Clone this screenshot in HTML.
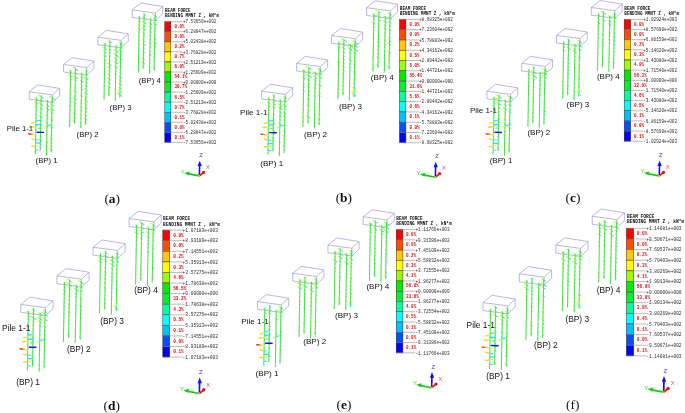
<!DOCTYPE html>
<html><head><meta charset="utf-8"><title>Figure</title>
<style>
html,body{margin:0;padding:0;background:#fff;}
body{width:685px;height:413px;overflow:hidden;font-family:"Liberation Sans",sans-serif;}
svg{display:block;will-change:transform;opacity:0.999;}
</style></head><body>
<svg width="685" height="413" viewBox="0 0 685 413">
<g id="panel-a">
<path d="M37.70,84.90 L59.60,88.40 L52.50,94.90 L29.20,91.75 Z M29.20,91.75 L29.20,99.25 L52.50,102.40 L52.50,94.90 M52.50,102.40 L59.60,95.90 L59.60,88.40" fill="none" stroke="#8a8ad0" stroke-width="0.6" stroke-linejoin="round"/>
<path d="M72.03,57.62 L93.93,61.12 L86.83,67.62 L63.53,64.47 Z M63.53,64.47 L63.53,71.97 L86.83,75.12 L86.83,67.62 M86.83,75.12 L93.93,68.62 L93.93,61.12" fill="none" stroke="#8a8ad0" stroke-width="0.6" stroke-linejoin="round"/>
<path d="M106.36,30.34 L128.26,33.84 L121.16,40.34 L97.86,37.19 Z M97.86,37.19 L97.86,44.69 L121.16,47.84 L121.16,40.34 M121.16,47.84 L128.26,41.34 L128.26,33.84" fill="none" stroke="#8a8ad0" stroke-width="0.6" stroke-linejoin="round"/>
<path d="M140.69,3.06 L162.59,6.56 L155.49,13.06 L132.19,9.91 Z M132.19,9.91 L132.19,17.41 L155.49,20.56 L155.49,13.06 M155.49,20.56 L162.59,14.06 L162.59,6.56" fill="none" stroke="#8a8ad0" stroke-width="0.6" stroke-linejoin="round"/>
<path d="M34.8,97.6L36.3,98.4M34.4,101.8L36.2,102.8M34.6,105.9L36.1,106.7M35.5,109.8L36.1,110.1M35.2,114.0L36.0,114.4M35.2,117.6L35.9,118.0M35.0,120.6L35.9,121.1M35.4,125.5L35.8,125.8M34.9,128.6L35.7,129.1M35.0,132.0L35.7,132.4M35.1,135.7L35.6,136.0M35.1,140.2L35.5,140.4M35.0,144.3L35.5,144.6M34.6,147.6L35.4,148.0M34.5,151.2L35.3,151.7M38.6,95.2L41.2,96.6M38.9,98.9L41.1,100.1M38.3,102.6L41.0,104.1M39.3,107.3L41.0,108.3M39.3,111.9L40.9,112.7M38.9,115.6L40.8,116.6M39.4,119.7L40.7,120.5M39.8,123.7L40.7,124.2M39.7,128.0L40.6,128.5M39.7,131.8L40.5,132.3M39.5,135.6L40.5,136.1M38.8,139.3L40.4,140.1M39.2,143.4L40.3,144.0M39.3,146.9L40.3,147.5M46.2,100.6L47.5,101.4M45.8,104.4L47.4,105.3M45.2,107.5L47.3,108.6M45.8,111.5L47.3,112.3M45.6,115.3L47.2,116.2M46.2,118.8L47.2,119.3M45.7,122.2L47.1,122.9M46.0,126.0L47.0,126.5M46.2,130.4L46.9,130.8M46.4,134.1L46.9,134.4M46.3,137.6L46.8,137.8M45.7,141.1L46.7,141.7M46.0,145.7L46.7,146.0M46.1,149.2L46.6,149.4M46.0,152.5L46.5,152.8M49.2,96.0L52.1,97.6M50.5,100.8L52.0,101.6M50.3,103.9L52.0,104.8M50.1,108.1L51.9,109.1M50.2,111.6L51.8,112.5M50.8,116.1L51.7,116.6M50.2,118.7L51.7,119.5M50.7,123.6L51.6,124.1M49.9,126.0L51.6,126.9M50.6,130.7L51.5,131.2M50.4,134.3L51.4,134.8M49.9,138.2L51.3,139.0M49.8,141.6L51.3,142.4M49.8,145.3L51.2,146.1M49.3,148.5L51.2,149.5" stroke="#b8ff30" stroke-width="1.1" fill="none"/>
<path d="M36.3,98.8L37.8,99.7M36.2,103.2L37.8,104.2M36.1,107.1L37.3,107.8M36.1,110.5L36.7,110.9M36.0,114.8L36.7,115.3M35.9,118.4L36.5,118.7M35.9,121.5L36.7,122.0M35.8,126.2L36.3,126.5M35.7,129.5L36.6,130.0M35.7,132.8L36.2,133.1M35.6,136.4L36.2,136.7M35.5,140.8L36.0,141.1M35.5,145.0L35.9,145.2M35.4,148.4L36.0,148.8M35.3,152.1L36.2,152.6M41.2,97.0L43.5,98.4M41.1,100.5L43.1,101.7M41.0,104.5L43.3,105.9M41.0,108.7L42.7,109.7M40.9,113.1L42.1,113.9M40.8,117.0L42.7,118.1M40.7,120.9L42.0,121.6M40.7,124.6L41.5,125.2M40.6,128.9L41.5,129.5M40.5,132.7L41.1,133.1M40.5,136.5L41.3,137.0M40.4,140.5L41.9,141.5M40.3,144.4L41.1,144.9M40.3,147.9L41.1,148.4M47.5,101.8L48.6,102.4M47.4,105.7L49.0,106.7M47.3,109.0L49.2,110.2M47.3,112.7L48.4,113.3M47.2,116.6L48.4,117.4M47.2,119.7L47.8,120.1M47.1,123.3L48.1,123.9M47.0,126.9L47.9,127.5M46.9,131.2L47.5,131.5M46.9,134.8L47.4,135.0M46.8,138.2L47.2,138.5M46.7,142.1L47.7,142.7M46.7,146.4L47.2,146.8M46.6,149.8L47.2,150.2M46.5,153.2L47.0,153.5M52.1,98.0L55.2,99.9M52.0,102.0L53.1,102.6M52.0,105.2L53.5,106.1M51.9,109.5L53.7,110.6M51.8,112.9L53.2,113.7M51.7,117.0L52.8,117.6M51.7,119.9L53.0,120.7M51.6,124.5L52.5,125.1M51.6,127.3L53.2,128.3M51.5,131.6L52.3,132.1M51.4,135.2L52.2,135.7M51.3,139.4L52.5,140.1M51.3,142.8L52.4,143.5M51.2,146.5L52.3,147.1M51.2,149.9L52.8,150.9" stroke="#30f8a0" stroke-width="1.1" fill="none"/>
<path d="M36.3,97.7L35.3,154.3M41.2,95.2L40.2,150.7M47.5,100.0L46.5,155.5M52.1,96.7L51.1,152.3" stroke="#40e040" stroke-width="0.95" fill="none"/>
<path d="M69.3,70.5L70.6,71.2M68.5,74.4L70.5,75.6M69.1,77.8L70.5,78.6M69.8,82.1L70.4,82.5M69.7,86.4L70.3,86.8M69.6,90.6L70.3,90.9M69.5,93.9L70.2,94.3M69.6,97.9L70.1,98.2M69.3,100.8L70.1,101.3M69.2,104.6L70.0,105.1M69.5,109.5L69.9,109.8M69.4,113.1L69.9,113.4M69.2,115.9L69.8,116.3M69.1,119.8L69.8,120.2M69.1,124.0L69.7,124.4M72.7,67.0L75.5,68.5M74.3,72.2L75.4,72.8M72.8,75.5L75.4,76.9M73.9,78.8L75.3,79.6M74.5,84.0L75.2,84.4M74.3,87.5L75.2,88.0M73.3,90.0L75.1,91.0M74.1,94.9L75.0,95.4M73.3,97.5L75.0,98.5M73.3,101.9L74.9,102.8M73.9,105.3L74.8,105.8M73.5,109.2L74.8,109.9M72.8,111.9L74.7,112.9M72.8,116.4L74.6,117.4M72.6,119.8L74.6,120.9M80.1,72.9L81.8,73.8M80.5,76.5L81.7,77.2M80.2,80.1L81.7,80.9M80.7,84.9L81.6,85.4M79.9,87.5L81.5,88.4M80.7,92.1L81.5,92.5M80.1,94.9L81.4,95.7M80.6,99.6L81.3,100.0M80.3,102.4L81.3,102.9M80.1,106.5L81.2,107.1M80.1,110.1L81.1,110.7M80.3,114.2L81.1,114.6M80.4,117.6L81.0,118.0M80.0,121.9L80.9,122.4M80.1,125.5L80.9,125.9M85.2,69.8L86.4,70.5M85.1,73.1L86.4,73.8M83.6,76.8L86.3,78.3M85.1,81.5L86.2,82.1M84.8,84.7L86.1,85.5M84.5,88.6L86.1,89.5M84.3,92.3L86.0,93.2M84.7,96.3L85.9,97.0M83.9,99.6L85.9,100.7M84.2,103.3L85.8,104.2M84.2,107.1L85.7,107.9M84.6,110.7L85.7,111.3M83.8,114.1L85.6,115.1M83.7,117.9L85.5,118.9M84.1,121.2L85.5,122.0" stroke="#b8ff30" stroke-width="1.1" fill="none"/>
<path d="M70.6,71.6L71.8,72.4M70.5,76.0L72.0,76.9M70.5,79.0L71.5,79.6M70.4,82.9L70.9,83.2M70.3,87.2L70.9,87.5M70.3,91.3L70.9,91.7M70.2,94.7L71.0,95.1M70.1,98.6L70.7,99.0M70.1,101.7L70.9,102.2M70.0,105.5L70.9,106.0M69.9,110.2L70.4,110.4M69.9,113.8L70.2,114.0M69.8,116.7L70.4,117.0M69.8,120.6L70.2,120.9M69.7,124.8L70.2,125.0M75.5,68.9L78.4,70.7M75.4,73.2L76.4,73.8M75.4,77.3L77.9,78.8M75.3,80.0L76.5,80.7M75.2,84.8L75.8,85.1M75.2,88.4L75.9,88.8M75.1,91.4L76.9,92.5M75.0,95.8L75.7,96.2M75.0,98.9L76.6,99.8M74.9,103.2L76.1,103.9M74.8,106.2L75.6,106.7M74.8,110.3L76.1,111.1M74.7,113.3L76.2,114.2M74.6,117.8L75.9,118.6M74.6,121.3L76.0,122.1M81.8,74.2L83.3,75.1M81.7,77.6L82.8,78.2M81.7,81.3L83.2,82.2M81.6,85.8L82.3,86.2M81.5,88.8L82.8,89.5M81.5,92.9L82.1,93.3M81.4,96.1L82.6,96.8M81.3,100.4L82.0,100.8M81.3,103.3L82.0,103.7M81.2,107.5L82.3,108.2M81.1,111.1L82.0,111.6M81.1,115.0L81.8,115.5M81.0,118.4L81.6,118.7M80.9,122.8L81.7,123.2M80.9,126.3L81.5,126.7M86.4,70.9L87.4,71.5M86.4,74.2L87.5,74.9M86.3,78.7L88.4,80.0M86.2,82.5L87.3,83.2M86.1,85.9L87.4,86.6M86.1,89.9L87.5,90.8M86.0,93.6L87.4,94.4M85.9,97.4L86.8,97.9M85.9,101.1L87.6,102.2M85.8,104.6L87.0,105.3M85.7,108.3L87.4,109.3M85.7,111.7L86.7,112.3M85.6,115.5L86.9,116.3M85.5,119.3L87.0,120.2M85.5,122.4L86.8,123.1" stroke="#30f8a0" stroke-width="1.1" fill="none"/>
<path d="M70.6,70.4L69.6,127.0M75.5,67.9L74.5,123.4M81.8,72.7L80.8,128.2M86.4,69.4L85.4,125.0" stroke="#40e040" stroke-width="0.95" fill="none"/>
<path d="M103.4,43.6L104.9,44.4M102.6,47.1L104.9,48.3M102.6,50.5L104.8,51.7M103.4,54.9L104.7,55.7M103.5,59.0L104.7,59.6M104.1,63.4L104.6,63.7M103.3,66.2L104.5,66.9M103.9,70.0L104.5,70.3M103.6,74.0L104.4,74.5M103.7,77.5L104.3,77.9M103.7,81.2L104.3,81.5M103.4,85.5L104.2,85.9M103.7,89.9L104.1,90.1M103.6,93.4L104.1,93.6M103.5,96.5L104.0,96.7M108.0,40.6L109.8,41.6M108.5,44.9L109.8,45.6M108.6,48.8L109.7,49.5M108.4,51.6L109.6,52.3M108.8,55.6L109.6,56.0M108.1,59.2L109.5,60.0M107.5,63.0L109.4,64.1M107.4,66.4L109.4,67.5M108.1,70.4L109.3,71.1M108.2,74.3L109.2,74.9M107.5,78.0L109.2,78.9M107.9,82.0L109.1,82.6M107.7,85.9L109.0,86.7M108.3,89.3L109.0,89.7M107.7,92.9L108.9,93.6M115.1,45.7L116.1,46.2M113.7,49.3L116.1,50.6M113.7,53.6L116.0,54.9M114.3,58.1L115.9,59.0M114.1,61.3L115.9,62.3M114.2,65.9L115.8,66.8M115.0,70.1L115.7,70.5M114.8,73.7L115.6,74.1M115.1,77.8L115.6,78.1M114.8,81.8L115.5,82.2M114.9,85.7L115.4,86.0M114.7,89.5L115.4,89.8M114.5,93.9L115.3,94.4M114.6,98.4L115.2,98.8M118.6,41.8L120.7,43.0M119.0,46.1L120.7,47.0M118.5,49.6L120.6,50.8M119.3,53.5L120.5,54.1M118.5,57.2L120.5,58.3M119.3,61.7L120.4,62.3M119.1,65.4L120.3,66.0M119.4,69.1L120.3,69.6M119.2,72.3L120.2,72.9M118.7,76.1L120.1,76.8M119.0,79.9L120.1,80.5M118.5,83.0L120.0,83.8M118.5,87.0L119.9,87.8M118.2,90.0L119.9,90.9M118.1,93.8L119.8,94.7" stroke="#b8ff30" stroke-width="1.1" fill="none"/>
<path d="M104.9,44.8L106.2,45.6M104.9,48.7L106.9,49.9M104.8,52.1L106.5,53.1M104.7,56.1L106.1,56.9M104.7,60.0L105.7,60.7M104.6,64.1L105.1,64.3M104.5,67.3L105.5,67.9M104.5,70.7L105.0,71.1M104.4,74.9L105.1,75.3M104.3,78.3L104.9,78.7M104.3,81.9L104.7,82.1M104.2,86.3L105.0,86.8M104.1,90.5L104.5,90.7M104.1,94.0L104.5,94.3M104.0,97.1L104.5,97.4M109.8,42.0L111.6,43.1M109.8,46.0L111.0,46.8M109.7,49.9L110.8,50.5M109.6,52.7L110.7,53.4M109.6,56.4L110.4,56.9M109.5,60.4L110.6,61.0M109.4,64.5L111.4,65.6M109.4,67.9L111.0,68.9M109.3,71.5L110.7,72.3M109.2,75.3L110.2,75.9M109.2,79.3L110.8,80.3M109.1,83.0L110.2,83.7M109.0,87.1L110.4,87.9M109.0,90.1L109.6,90.5M108.9,94.0L109.9,94.5M116.1,46.6L117.2,47.2M116.1,51.0L118.6,52.5M116.0,55.3L118.5,56.7M115.9,59.4L117.6,60.4M115.9,62.7L117.8,63.8M115.8,67.2L117.4,68.2M115.7,70.9L116.5,71.4M115.6,74.5L116.5,75.1M115.6,78.5L116.0,78.7M115.5,82.6L116.1,83.0M115.4,86.4L115.9,86.6M115.4,90.2L115.8,90.5M115.3,94.8L115.9,95.1M115.2,99.2L115.8,99.5M120.7,43.4L122.8,44.6M120.7,47.4L122.4,48.5M120.6,51.2L122.5,52.3M120.5,54.5L121.8,55.3M120.5,58.7L122.4,59.9M120.4,62.7L121.3,63.3M120.3,66.4L121.5,67.1M120.3,70.0L120.9,70.4M120.2,73.3L120.9,73.7M120.1,77.2L121.4,78.0M120.1,80.9L121.0,81.4M120.0,84.2L121.4,85.1M119.9,88.2L121.2,89.0M119.9,91.3L121.7,92.4M119.8,95.1L121.4,96.0" stroke="#30f8a0" stroke-width="1.1" fill="none"/>
<path d="M105.0,43.1L104.0,99.7M109.9,40.6L108.9,96.1M116.2,45.4L115.2,100.9M120.8,42.1L119.8,97.7" stroke="#40e040" stroke-width="0.95" fill="none"/>
<line x1="117.86" y1="90.34" x2="120.86" y2="92.34" stroke="#eeff33" stroke-width="1"/>
<line x1="118.36" y1="93.84" x2="122.36" y2="96.84" stroke="#33eeff" stroke-width="1"/>
<line x1="116.86" y1="93.34" x2="119.36" y2="91.84" stroke="#ccff33" stroke-width="1"/>
<path d="M138.5,16.8L139.3,17.3M137.6,19.9L139.2,20.8M138.2,24.3L139.1,24.9M137.8,28.0L139.1,28.6M137.9,31.2L139.0,31.8M138.2,35.8L138.9,36.1M138.3,39.6L138.9,39.9M138.2,43.6L138.8,43.9M138.0,47.1L138.7,47.5M137.8,50.0L138.7,50.4M137.9,54.3L138.6,54.7M138.2,58.0L138.5,58.2M138.1,62.1L138.5,62.3M138.1,65.7L138.4,65.9M137.5,69.0L138.3,69.4M143.0,13.6L144.2,14.3M142.4,16.7L144.1,17.7M141.6,20.9L144.0,22.2M142.3,24.8L144.0,25.7M142.0,27.8L143.9,28.8M142.7,32.4L143.8,33.1M143.0,36.1L143.8,36.5M142.1,39.6L143.7,40.5M142.0,42.9L143.6,43.9M142.8,47.4L143.6,47.8M142.2,50.8L143.5,51.5M142.7,54.3L143.4,54.7M142.0,58.3L143.4,59.1M141.5,61.9L143.3,62.9M141.9,65.8L143.2,66.5M149.4,19.1L150.5,19.7M148.8,22.5L150.4,23.4M148.5,26.0L150.3,27.0M149.2,31.1L150.2,31.6M149.0,34.9L150.2,35.5M149.4,39.4L150.1,39.7M148.9,42.1L150.0,42.7M149.2,46.6L150.0,47.0M149.5,51.0L149.9,51.3M148.8,54.1L149.8,54.7M149.2,59.3L149.7,59.6M149.1,62.6L149.7,63.0M148.6,66.5L149.6,67.0M148.5,70.3L149.5,70.9M152.3,14.3L155.1,15.8M152.7,17.9L155.0,19.2M152.8,22.6L154.9,23.8M153.6,26.6L154.9,27.3M154.0,30.0L154.8,30.5M153.8,34.4L154.7,34.9M153.0,37.7L154.7,38.6M152.8,41.3L154.6,42.3M152.8,45.1L154.5,46.1M153.6,49.0L154.5,49.5M152.9,52.6L154.4,53.4M153.2,56.4L154.3,57.0M153.5,60.6L154.3,61.0M153.3,64.0L154.2,64.5M152.7,67.4L154.1,68.2" stroke="#b8ff30" stroke-width="1.1" fill="none"/>
<path d="M139.3,17.7L139.8,18.0M139.2,21.2L140.4,21.9M139.1,25.3L140.1,25.8M139.1,29.0L140.3,29.8M139.0,32.2L139.8,32.7M138.9,36.5L139.4,36.8M138.9,40.3L139.4,40.7M138.8,44.3L139.4,44.7M138.7,47.9L139.4,48.3M138.7,50.8L139.6,51.4M138.6,55.1L139.2,55.4M138.5,58.6L138.8,58.8M138.5,62.7L138.8,62.9M138.4,66.3L138.7,66.5M138.3,69.8L139.1,70.3M144.2,14.7L145.3,15.3M144.1,18.1L146.0,19.2M144.0,22.6L146.3,24.0M144.0,26.1L145.7,27.2M143.9,29.2L145.9,30.4M143.8,33.5L144.6,34.0M143.8,36.9L144.5,37.3M143.7,40.9L145.4,41.9M143.6,44.3L145.3,45.3M143.6,48.2L144.4,48.7M143.5,51.9L144.9,52.7M143.4,55.1L144.2,55.6M143.4,59.5L144.6,60.3M143.3,63.3L145.0,64.3M143.2,66.9L144.3,67.6M150.5,20.1L151.3,20.6M150.4,23.8L152.1,24.8M150.3,27.4L151.7,28.3M150.2,32.0L151.3,32.7M150.2,35.9L151.0,36.4M150.1,40.1L150.8,40.5M150.0,43.1L151.0,43.7M150.0,47.4L150.7,47.9M149.9,51.7L150.3,51.9M149.8,55.1L150.8,55.6M149.7,60.0L150.3,60.3M149.7,63.4L150.2,63.7M149.6,67.4L150.5,68.0M149.5,71.3L150.4,71.8M155.1,16.2L157.1,17.4M155.0,19.6L157.1,20.8M154.9,24.2L156.7,25.3M154.9,27.7L156.1,28.4M154.8,30.9L155.6,31.4M154.7,35.3L155.4,35.7M154.7,39.0L156.1,39.8M154.6,42.7L156.4,43.8M154.5,46.5L155.8,47.2M154.5,49.9L155.3,50.4M154.4,53.8L155.7,54.6M154.3,57.4L155.4,58.0M154.3,61.4L154.9,61.8M154.2,64.9L155.0,65.4M154.1,68.6L155.3,69.3" stroke="#30f8a0" stroke-width="1.1" fill="none"/>
<path d="M139.3,15.9L138.3,72.5M144.2,13.4L143.2,68.9M150.5,18.2L149.5,73.7M155.1,14.9L154.1,70.5" stroke="#40e040" stroke-width="0.95" fill="none"/>
<line x1="36.00" y1="121.00" x2="39.90" y2="120.40" stroke="#22e8ff" stroke-width="1.20" stroke-linecap="round"/>
<line x1="31.80" y1="123.30" x2="34.10" y2="122.70" stroke="#ffcc22" stroke-width="1.20" stroke-linecap="round"/>
<line x1="34.10" y1="122.70" x2="36.50" y2="122.30" stroke="#c8ff30" stroke-width="1.10" stroke-linecap="round"/>
<line x1="36.20" y1="124.80" x2="40.90" y2="124.50" stroke="#22e8ff" stroke-width="1.50" stroke-linecap="round"/>
<line x1="30.70" y1="127.30" x2="33.70" y2="126.80" stroke="#ffcc22" stroke-width="1.30" stroke-linecap="round"/>
<line x1="33.70" y1="126.80" x2="36.90" y2="126.60" stroke="#c8ff30" stroke-width="1.10" stroke-linecap="round"/>
<line x1="38.20" y1="128.30" x2="40.50" y2="127.90" stroke="#40ee60" stroke-width="1.00" stroke-linecap="round"/>
<line x1="37.10" y1="132.30" x2="43.50" y2="132.40" stroke="#1515ee" stroke-width="1.40" stroke-linecap="round"/>
<line x1="28.50" y1="133.80" x2="30.70" y2="134.00" stroke="#ee1515" stroke-width="1.30" stroke-linecap="round"/>
<line x1="30.70" y1="134.00" x2="32.70" y2="134.30" stroke="#ff8a18" stroke-width="1.25" stroke-linecap="round"/>
<line x1="32.70" y1="134.30" x2="34.50" y2="134.70" stroke="#ffe020" stroke-width="1.20" stroke-linecap="round"/>
<line x1="34.50" y1="134.70" x2="36.10" y2="135.10" stroke="#c8ff30" stroke-width="1.10" stroke-linecap="round"/>
<line x1="31.80" y1="138.70" x2="34.30" y2="139.50" stroke="#ffcc22" stroke-width="1.30" stroke-linecap="round"/>
<line x1="35.90" y1="139.70" x2="38.30" y2="139.90" stroke="#22e8ff" stroke-width="1.00" stroke-linecap="round"/>
<line x1="35.50" y1="143.10" x2="40.10" y2="143.20" stroke="#22e8ff" stroke-width="1.30" stroke-linecap="round"/>
<line x1="31.80" y1="146.40" x2="34.50" y2="146.00" stroke="#ffcc22" stroke-width="1.30" stroke-linecap="round"/>
<line x1="34.50" y1="146.00" x2="38.10" y2="145.60" stroke="#c8ff30" stroke-width="1.10" stroke-linecap="round"/>
<line x1="35.70" y1="149.80" x2="38.20" y2="150.10" stroke="#22e8ff" stroke-width="1.00" stroke-linecap="round"/>
<line x1="47.40" y1="125.70" x2="50.40" y2="125.20" stroke="#22e8ff" stroke-width="1.20" stroke-linecap="round"/>
<line x1="44.30" y1="127.10" x2="46.60" y2="126.70" stroke="#c8ff30" stroke-width="1.10" stroke-linecap="round"/>
<text x="46.60" y="163.34" font-family="Liberation Sans" font-size="7.75" text-anchor="middle" fill="#111" font-weight="normal" >(BP) 1</text>
<text x="87.60" y="136.59" font-family="Liberation Sans" font-size="7.75" text-anchor="middle" fill="#111" font-weight="normal" >(BP) 2</text>
<text x="120.60" y="110.09" font-family="Liberation Sans" font-size="7.75" text-anchor="middle" fill="#111" font-weight="normal" >(BP) 3</text>
<text x="149.75" y="83.34" font-family="Liberation Sans" font-size="7.75" text-anchor="middle" fill="#111" font-weight="normal" >(BP) 4</text>
<text x="20.00" y="131.24" font-family="Liberation Sans" font-size="7.75" text-anchor="middle" fill="#111" font-weight="normal" >Pile 1-1</text>
<rect x="164.80" y="21.70" width="6.05" height="10.06" fill="#ff0000" stroke="#2a1a1a" stroke-width="0.45"/>
<rect x="164.80" y="31.76" width="6.05" height="10.06" fill="#ff4c00" stroke="#2a1a1a" stroke-width="0.45"/>
<rect x="164.80" y="41.82" width="6.05" height="10.06" fill="#ffc800" stroke="#2a1a1a" stroke-width="0.45"/>
<rect x="164.80" y="51.88" width="6.05" height="10.06" fill="#ffff00" stroke="#2a1a1a" stroke-width="0.45"/>
<rect x="164.80" y="61.94" width="6.05" height="10.06" fill="#99ff00" stroke="#2a1a1a" stroke-width="0.45"/>
<rect x="164.80" y="72.00" width="6.05" height="10.06" fill="#00ee00" stroke="#2a1a1a" stroke-width="0.45"/>
<rect x="164.80" y="82.06" width="6.05" height="10.06" fill="#00f030" stroke="#2a1a1a" stroke-width="0.45"/>
<rect x="164.80" y="92.12" width="6.05" height="10.06" fill="#00ffa0" stroke="#2a1a1a" stroke-width="0.45"/>
<rect x="164.80" y="102.18" width="6.05" height="10.06" fill="#00ffff" stroke="#2a1a1a" stroke-width="0.45"/>
<rect x="164.80" y="112.24" width="6.05" height="10.06" fill="#00c0ff" stroke="#2a1a1a" stroke-width="0.45"/>
<rect x="164.80" y="122.30" width="6.05" height="10.06" fill="#0050ff" stroke="#2a1a1a" stroke-width="0.45"/>
<rect x="164.80" y="132.36" width="6.05" height="10.06" fill="#0000ff" stroke="#2a1a1a" stroke-width="0.45"/>
<path d="M164.80,21.70H182.90M164.80,31.76H182.90M164.80,41.82H182.90M164.80,51.88H182.90M164.80,61.94H182.90M164.80,72.00H182.90M164.80,82.06H182.90M164.80,92.12H182.90M164.80,102.18H182.90M164.80,112.24H182.90M164.80,122.30H182.90M164.80,132.36H182.90M164.80,142.42H182.90" stroke="#8c8c8c" stroke-width="0.6" fill="none"/>
<text x="182.90" y="23.35" font-family="Liberation Mono" font-size="5.00" textLength="33.41" lengthAdjust="spacingAndGlyphs" fill="#2a2a2a" font-weight="normal">+7.53656e+002</text>
<text x="182.90" y="33.41" font-family="Liberation Mono" font-size="5.00" textLength="33.41" lengthAdjust="spacingAndGlyphs" fill="#2a2a2a" font-weight="normal">+6.28047e+002</text>
<text x="182.90" y="43.47" font-family="Liberation Mono" font-size="5.00" textLength="33.41" lengthAdjust="spacingAndGlyphs" fill="#2a2a2a" font-weight="normal">+5.02438e+002</text>
<text x="182.90" y="53.53" font-family="Liberation Mono" font-size="5.00" textLength="33.41" lengthAdjust="spacingAndGlyphs" fill="#2a2a2a" font-weight="normal">+3.76828e+002</text>
<text x="182.90" y="63.59" font-family="Liberation Mono" font-size="5.00" textLength="33.41" lengthAdjust="spacingAndGlyphs" fill="#2a2a2a" font-weight="normal">+2.51219e+002</text>
<text x="182.90" y="73.65" font-family="Liberation Mono" font-size="5.00" textLength="33.41" lengthAdjust="spacingAndGlyphs" fill="#2a2a2a" font-weight="normal">+1.25609e+002</text>
<text x="182.90" y="83.71" font-family="Liberation Mono" font-size="5.00" textLength="33.41" lengthAdjust="spacingAndGlyphs" fill="#2a2a2a" font-weight="normal">+0.00000e+000</text>
<text x="182.90" y="93.77" font-family="Liberation Mono" font-size="5.00" textLength="33.41" lengthAdjust="spacingAndGlyphs" fill="#2a2a2a" font-weight="normal">-1.25609e+002</text>
<text x="182.90" y="103.83" font-family="Liberation Mono" font-size="5.00" textLength="33.41" lengthAdjust="spacingAndGlyphs" fill="#2a2a2a" font-weight="normal">-2.51219e+002</text>
<text x="182.90" y="113.89" font-family="Liberation Mono" font-size="5.00" textLength="33.41" lengthAdjust="spacingAndGlyphs" fill="#2a2a2a" font-weight="normal">-3.76828e+002</text>
<text x="182.90" y="123.95" font-family="Liberation Mono" font-size="5.00" textLength="33.41" lengthAdjust="spacingAndGlyphs" fill="#2a2a2a" font-weight="normal">-5.02438e+002</text>
<text x="182.90" y="134.01" font-family="Liberation Mono" font-size="5.00" textLength="33.41" lengthAdjust="spacingAndGlyphs" fill="#2a2a2a" font-weight="normal">-6.28047e+002</text>
<text x="182.90" y="144.07" font-family="Liberation Mono" font-size="5.00" textLength="33.41" lengthAdjust="spacingAndGlyphs" fill="#2a2a2a" font-weight="normal">-7.53656e+002</text>
<text x="174.40" y="28.08" font-family="Liberation Mono" font-size="5.00" textLength="10.00" lengthAdjust="spacingAndGlyphs" fill="#e80000" font-weight="bold">0.0%</text>
<text x="174.40" y="38.14" font-family="Liberation Mono" font-size="5.00" textLength="10.00" lengthAdjust="spacingAndGlyphs" fill="#e80000" font-weight="bold">0.0%</text>
<text x="174.40" y="48.20" font-family="Liberation Mono" font-size="5.00" textLength="10.00" lengthAdjust="spacingAndGlyphs" fill="#e80000" font-weight="bold">0.2%</text>
<text x="174.40" y="58.26" font-family="Liberation Mono" font-size="5.00" textLength="10.00" lengthAdjust="spacingAndGlyphs" fill="#e80000" font-weight="bold">0.7%</text>
<text x="174.40" y="68.32" font-family="Liberation Mono" font-size="5.00" textLength="10.00" lengthAdjust="spacingAndGlyphs" fill="#e80000" font-weight="bold">6.9%</text>
<text x="174.40" y="78.38" font-family="Liberation Mono" font-size="5.00" textLength="12.50" lengthAdjust="spacingAndGlyphs" fill="#e80000" font-weight="bold">54.1%</text>
<text x="174.40" y="88.44" font-family="Liberation Mono" font-size="5.00" textLength="12.50" lengthAdjust="spacingAndGlyphs" fill="#e80000" font-weight="bold">30.7%</text>
<text x="174.40" y="98.50" font-family="Liberation Mono" font-size="5.00" textLength="10.00" lengthAdjust="spacingAndGlyphs" fill="#e80000" font-weight="bold">6.5%</text>
<text x="174.40" y="108.56" font-family="Liberation Mono" font-size="5.00" textLength="10.00" lengthAdjust="spacingAndGlyphs" fill="#e80000" font-weight="bold">0.7%</text>
<text x="174.40" y="118.62" font-family="Liberation Mono" font-size="5.00" textLength="10.00" lengthAdjust="spacingAndGlyphs" fill="#e80000" font-weight="bold">0.1%</text>
<text x="174.40" y="128.68" font-family="Liberation Mono" font-size="5.00" textLength="10.00" lengthAdjust="spacingAndGlyphs" fill="#e80000" font-weight="bold">0.0%</text>
<text x="174.40" y="138.74" font-family="Liberation Mono" font-size="5.00" textLength="10.00" lengthAdjust="spacingAndGlyphs" fill="#e80000" font-weight="bold">0.1%</text>
<text x="165.00" y="11.85" font-family="Liberation Mono" font-size="5.00" textLength="25.70" lengthAdjust="spacingAndGlyphs" fill="#111" font-weight="bold">BEAM FORCE</text>
<text x="165.00" y="16.65" font-family="Liberation Mono" font-size="5.00" textLength="53.97" lengthAdjust="spacingAndGlyphs" fill="#111" font-weight="bold">BENDING MMNT Z , kN*m</text>
<g transform="translate(199.4,175.9) scale(1.0)">
<line x1="0" y1="0" x2="0.2" y2="-10.5" stroke="#1010ee" stroke-width="1.6"/>
<path d="M0.3,-15.2 l-2.1,5.4 l4.2,0 Z" fill="#1010ee"/>
<line x1="0" y1="0" x2="-10.5" y2="-2.0" stroke="#10cc10" stroke-width="1.6"/>
<path d="M-15.2,-3.0 l5.4,-1.4 l-0.7,4.0 Z" fill="#10cc10"/>
<line x1="0" y1="0" x2="3.6" y2="-3" stroke="#ee1010" stroke-width="1.7"/>
<circle cx="4.1" cy="-3.5" r="1.6" fill="#ee1010"/>
<circle cx="0" cy="0" r="1.0" fill="#ddcc22"/>
<text x="1.50" y="-18.50" font-family="Liberation Sans" font-size="5.8" text-anchor="middle" fill="#3838ee" font-weight="normal" >Z</text>
<text x="-16.50" y="-2.40" font-family="Liberation Sans" font-size="5.6" text-anchor="middle" fill="#30cc30" font-weight="normal" >Y</text>
<text x="8.40" y="-6.60" font-family="Liberation Sans" font-size="5.4" text-anchor="middle" fill="#e04848" font-weight="normal" >X</text>
</g>
<text x="112.20" y="202.50" font-family="Liberation Serif" font-size="13.4" text-anchor="middle" fill="#111">(<tspan font-weight="bold">a</tspan>)</text>
</g>
<g id="panel-b">
<path d="M270.30,84.25 L292.64,87.82 L285.40,94.45 L261.63,91.24 Z M261.63,91.24 L261.63,98.89 L285.40,102.10 L285.40,94.45 M285.40,102.10 L292.64,95.47 L292.64,87.82" fill="none" stroke="#8a8ad0" stroke-width="0.6" stroke-linejoin="round"/>
<path d="M305.30,56.40 L327.64,59.97 L320.40,66.60 L296.63,63.39 Z M296.63,63.39 L296.63,71.04 L320.40,74.25 L320.40,66.60 M320.40,74.25 L327.64,67.62 L327.64,59.97" fill="none" stroke="#8a8ad0" stroke-width="0.6" stroke-linejoin="round"/>
<path d="M340.30,28.55 L362.64,32.12 L355.40,38.75 L331.63,35.54 Z M331.63,35.54 L331.63,43.19 L355.40,46.40 L355.40,38.75 M355.40,46.40 L362.64,39.77 L362.64,32.12" fill="none" stroke="#8a8ad0" stroke-width="0.6" stroke-linejoin="round"/>
<path d="M375.30,0.70 L397.64,4.27 L390.40,10.90 L366.63,7.69 Z M366.63,7.69 L366.63,15.34 L390.40,18.55 L390.40,10.90 M390.40,18.55 L397.64,11.92 L397.64,4.27" fill="none" stroke="#8a8ad0" stroke-width="0.6" stroke-linejoin="round"/>
<path d="M267.8,98.0L268.8,98.6M267.3,102.0L268.8,102.8M267.6,105.2L268.7,105.8M268.0,109.9L268.6,110.2M268.0,113.0L268.6,113.4M267.7,117.6L268.5,118.0M267.5,120.8L268.4,121.4M267.9,124.8L268.4,125.1M267.6,128.4L268.3,128.8M267.5,132.9L268.2,133.3M267.7,136.5L268.2,136.8M267.8,140.8L268.1,141.0M267.6,144.4L268.0,144.7M267.7,148.6L268.0,148.7M267.6,151.8L267.9,151.9M272.5,94.6L273.9,95.4M272.0,98.9L273.8,99.9M271.7,102.3L273.7,103.4M272.1,106.1L273.6,107.0M273.0,110.9L273.6,111.2M272.5,113.7L273.5,114.2M271.9,118.1L273.4,119.0M271.9,121.7L273.4,122.5M272.5,126.0L273.3,126.4M271.8,129.4L273.2,130.2M271.6,132.7L273.2,133.6M271.5,137.0L273.1,137.9M271.8,140.0L273.0,140.7M272.3,144.4L273.0,144.8M272.2,148.7L272.9,149.1M279.0,99.8L280.3,100.5M277.6,103.7L280.2,105.1M278.0,106.7L280.1,107.9M278.9,110.9L280.1,111.6M278.9,115.2L280.0,115.8M279.1,118.9L279.9,119.4M278.8,122.9L279.9,123.5M279.3,127.4L279.8,127.7M279.2,131.1L279.7,131.4M279.3,134.2L279.7,134.4M279.1,137.8L279.6,138.1M278.8,141.8L279.5,142.2M278.9,146.0L279.5,146.3M279.0,149.7L279.4,149.9M278.6,153.0L279.3,153.4M283.0,96.1L285.0,97.1M283.8,100.3L284.9,101.0M282.3,104.1L284.8,105.5M283.9,108.5L284.8,109.0M283.2,112.2L284.7,113.1M283.0,116.0L284.6,116.9M283.4,119.4L284.6,120.0M283.7,123.6L284.5,124.0M283.7,127.7L284.4,128.1M283.0,130.5L284.4,131.2M282.8,134.9L284.3,135.8M283.4,138.8L284.2,139.3M283.2,142.2L284.2,142.7M282.6,145.4L284.1,146.2M283.2,149.6L284.0,150.0" stroke="#b8ff30" stroke-width="1.1" fill="none"/>
<path d="M268.8,99.0L270.0,99.7M268.8,103.2L270.2,104.1M268.7,106.2L269.6,106.8M268.6,110.6L269.3,111.0M268.6,113.8L269.0,114.0M268.5,118.4L269.2,118.8M268.4,121.8L269.3,122.3M268.4,125.5L268.8,125.7M268.3,129.2L269.0,129.6M268.2,133.7L268.9,134.1M268.2,137.2L268.6,137.5M268.1,141.4L268.3,141.5M268.0,145.1L268.4,145.3M268.0,149.1L268.2,149.3M267.9,152.3L268.1,152.5M273.9,95.8L275.2,96.6M273.8,100.3L275.5,101.4M273.7,103.8L275.9,105.1M273.6,107.4L275.2,108.3M273.6,111.6L274.0,111.9M273.5,114.6L274.6,115.3M273.4,119.4L274.6,120.1M273.4,122.9L274.9,123.8M273.3,126.8L273.9,127.2M273.2,130.6L274.8,131.5M273.2,134.0L274.4,134.7M273.1,138.3L274.4,139.1M273.0,141.1L274.2,141.8M273.0,145.2L273.5,145.5M272.9,149.5L273.7,149.9M280.3,100.9L281.3,101.5M280.2,105.5L282.3,106.8M280.1,108.3L282.4,109.6M280.1,112.0L281.3,112.7M280.0,116.2L281.2,116.9M279.9,119.8L280.7,120.2M279.9,123.9L280.8,124.4M279.8,128.1L280.3,128.4M279.7,131.8L280.1,132.1M279.7,134.8L279.9,135.0M279.6,138.5L280.1,138.8M279.5,142.6L280.2,143.1M279.5,146.7L280.0,147.0M279.4,150.3L279.8,150.5M279.3,153.8L280.1,154.3M285.0,97.5L286.7,98.6M284.9,101.4L285.7,101.9M284.8,105.9L287.0,107.3M284.8,109.4L285.7,109.9M284.7,113.5L286.0,114.2M284.6,117.3L285.8,118.0M284.6,120.4L285.5,120.9M284.5,124.4L285.3,124.9M284.4,128.5L285.1,128.9M284.4,131.6L285.7,132.4M284.3,136.2L285.5,136.9M284.2,139.7L285.0,140.1M284.2,143.1L284.9,143.5M284.1,146.6L285.2,147.3M284.0,150.4L284.6,150.8" stroke="#30f8a0" stroke-width="1.1" fill="none"/>
<path d="M268.9,97.3L267.9,155.0M273.9,94.8L272.9,151.4M280.3,99.7L279.3,156.3M285.0,96.3L284.0,153.0" stroke="#40e040" stroke-width="0.95" fill="none"/>
<path d="M302.2,70.0L303.8,70.9M302.3,74.1L303.8,74.9M302.1,77.1L303.7,77.9M302.8,82.2L303.6,82.6M302.3,85.4L303.6,86.1M302.3,89.7L303.5,90.4M302.9,93.4L303.4,93.7M302.8,96.7L303.4,97.0M302.7,101.7L303.3,102.0M302.9,105.0L303.2,105.1M302.6,108.6L303.2,108.9M302.7,112.5L303.1,112.7M302.5,116.4L303.0,116.7M302.2,120.6L303.0,121.1M302.4,124.8L302.9,125.0M306.0,66.2L308.9,67.8M307.4,70.7L308.8,71.5M305.8,73.9L308.7,75.5M307.2,78.8L308.6,79.7M307.7,83.0L308.6,83.4M306.9,85.5L308.5,86.4M307.1,90.0L308.4,90.8M307.3,94.1L308.4,94.7M307.0,98.0L308.3,98.7M307.6,102.0L308.2,102.4M306.8,104.6L308.2,105.3M307.4,109.6L308.1,110.0M307.4,112.4L308.0,112.8M306.3,115.7L308.0,116.7M307.1,120.9L307.9,121.3M313.0,72.0L315.3,73.3M312.9,76.0L315.2,77.2M313.5,79.3L315.1,80.2M314.0,83.7L315.1,84.3M313.6,87.2L315.0,87.9M313.7,91.1L314.9,91.8M314.0,95.3L314.9,95.8M314.4,99.3L314.8,99.5M314.3,102.6L314.7,102.8M314.3,106.2L314.7,106.4M313.9,109.9L314.6,110.2M313.7,113.9L314.5,114.4M314.1,117.6L314.5,117.8M313.5,121.9L314.4,122.4M313.4,125.3L314.3,125.8M317.1,68.3L320.0,69.9M317.7,72.4L319.9,73.6M317.3,75.5L319.8,76.9M318.8,80.5L319.8,81.0M318.0,84.2L319.7,85.1M318.9,88.3L319.6,88.7M318.0,91.5L319.6,92.3M318.3,95.0L319.5,95.6M318.6,99.0L319.4,99.4M318.5,103.5L319.3,103.9M318.4,106.4L319.3,106.9M318.3,110.1L319.2,110.6M317.6,113.8L319.2,114.6M317.4,118.1L319.1,119.0M318.0,122.4L319.0,122.9" stroke="#b8ff30" stroke-width="1.1" fill="none"/>
<path d="M303.8,71.3L305.5,72.2M303.8,75.3L304.8,76.0M303.7,78.3L305.3,79.3M303.6,83.0L304.3,83.5M303.6,86.5L304.6,87.1M303.5,90.8L304.6,91.4M303.4,94.1L303.9,94.3M303.4,97.4L304.0,97.8M303.3,102.4L303.9,102.8M303.2,105.5L303.5,105.7M303.2,109.3L303.8,109.6M303.1,113.1L303.5,113.3M303.0,117.1L303.5,117.3M303.0,121.5L303.7,121.9M302.9,125.4L303.2,125.6M308.9,68.2L311.4,69.7M308.8,71.9L309.8,72.5M308.7,75.9L311.8,77.8M308.6,80.1L309.8,80.7M308.6,83.8L309.4,84.3M308.5,86.8L309.7,87.5M308.4,91.2L309.7,92.0M308.4,95.1L309.4,95.7M308.3,99.1L309.7,100.0M308.2,102.8L308.9,103.2M308.2,105.7L309.3,106.4M308.1,110.4L308.8,110.8M308.0,113.2L308.5,113.5M308.0,117.1L309.8,118.1M307.9,121.7L308.7,122.2M315.3,73.7L317.1,74.8M315.2,77.6L317.4,79.0M315.1,80.6L316.8,81.6M315.1,84.7L316.2,85.3M315.0,88.3L316.0,89.0M314.9,92.2L315.8,92.8M314.9,96.2L315.7,96.7M314.8,99.9L315.2,100.2M314.7,103.2L315.1,103.5M314.7,106.8L315.1,107.0M314.6,110.6L315.3,111.0M314.5,114.8L315.4,115.3M314.5,118.2L314.8,118.5M314.4,122.8L315.2,123.3M314.3,126.2L315.2,126.7M320.0,70.3L322.0,71.5M319.9,74.0L321.5,75.0M319.8,77.3L322.1,78.6M319.8,81.4L320.6,81.9M319.7,85.5L321.3,86.5M319.6,89.1L320.2,89.5M319.6,92.7L320.7,93.4M319.5,96.0L320.5,96.6M319.4,99.8L320.1,100.2M319.3,104.3L320.2,104.8M319.3,107.3L320.2,107.8M319.2,111.0L320.0,111.4M319.2,115.0L320.4,115.8M319.1,119.4L320.4,120.2M319.0,123.3L320.0,123.9" stroke="#30f8a0" stroke-width="1.1" fill="none"/>
<path d="M303.9,69.5L302.9,127.2M308.9,66.9L307.9,123.5M315.3,71.8L314.3,128.4M320.0,68.4L319.0,125.1" stroke="#40e040" stroke-width="0.95" fill="none"/>
<path d="M337.5,42.1L338.8,42.9M337.5,46.1L338.8,46.8M337.5,49.5L338.7,50.2M338.0,54.5L338.6,54.9M338.1,58.1L338.6,58.4M337.3,61.3L338.5,61.9M337.6,65.1L338.4,65.6M338.1,69.2L338.4,69.4M337.6,73.4L338.3,73.8M337.9,76.6L338.2,76.8M337.7,81.1L338.2,81.4M337.5,84.9L338.1,85.2M337.3,88.2L338.0,88.6M337.3,92.8L338.0,93.2M337.5,95.9L337.9,96.1M341.1,38.3L343.9,39.8M341.7,43.1L343.8,44.2M342.3,47.3L343.7,48.1M342.3,51.1L343.6,51.8M342.6,55.2L343.6,55.7M342.1,58.2L343.5,59.0M342.3,62.4L343.4,63.0M342.1,65.8L343.4,66.5M341.8,69.1L343.3,69.9M342.3,73.4L343.2,73.9M342.3,77.9L343.2,78.3M342.2,81.2L343.1,81.7M341.4,84.7L343.0,85.6M342.3,89.1L343.0,89.5M341.9,92.4L342.9,92.9M348.0,43.9L350.3,45.2M347.8,47.6L350.2,48.9M349.1,52.6L350.1,53.2M349.3,56.3L350.1,56.8M348.5,59.0L350.0,59.8M348.9,62.9L349.9,63.5M349.1,66.8L349.9,67.2M349.3,71.3L349.8,71.5M349.2,74.5L349.7,74.8M349.1,79.1L349.7,79.4M349.0,82.3L349.6,82.6M348.9,86.0L349.5,86.3M349.0,89.6L349.5,89.9M349.0,93.9L349.4,94.1M348.7,97.2L349.3,97.5M352.3,40.5L355.0,42.0M352.1,43.9L354.9,45.5M351.8,47.4L354.8,49.1M353.3,51.9L354.8,52.7M353.3,56.2L354.7,57.0M353.2,60.2L354.6,61.0M353.1,64.1L354.6,64.9M353.7,67.2L354.5,67.7M352.8,71.3L354.4,72.2M353.5,75.0L354.4,75.4M353.2,78.8L354.3,79.4M352.9,83.0L354.2,83.7M352.7,86.7L354.1,87.5M352.9,90.1L354.1,90.8M352.4,94.0L354.0,94.8" stroke="#b8ff30" stroke-width="1.1" fill="none"/>
<path d="M338.8,43.3L340.2,44.1M338.8,47.2L340.0,47.9M338.7,50.6L340.0,51.4M338.6,55.3L339.3,55.6M338.6,58.8L338.9,59.0M338.5,62.3L339.8,63.1M338.4,66.0L339.3,66.5M338.4,69.8L338.7,69.9M338.3,74.2L339.1,74.6M338.2,77.2L338.5,77.4M338.2,81.8L338.7,82.1M338.1,85.6L338.7,86.0M338.0,89.0L338.8,89.5M338.0,93.6L338.5,93.9M337.9,96.5L338.4,96.8M343.9,40.2L346.8,42.0M343.8,44.6L345.3,45.5M343.7,48.5L345.0,49.2M343.6,52.2L344.7,52.8M343.6,56.1L344.4,56.6M343.5,59.4L344.5,60.0M343.4,63.4L344.6,64.1M343.4,66.9L344.7,67.7M343.3,70.3L344.6,71.1M343.2,74.3L344.0,74.8M343.2,78.7L344.1,79.3M343.1,82.1L344.0,82.7M343.0,86.0L344.2,86.7M343.0,89.9L343.5,90.2M342.9,93.3L343.7,93.8M350.3,45.6L352.3,46.8M350.2,49.3L352.1,50.4M350.1,53.6L351.0,54.1M350.1,57.2L350.7,57.6M350.0,60.2L351.6,61.2M349.9,63.9L350.8,64.4M349.9,67.6L350.6,68.0M349.8,71.9L350.3,72.2M349.7,75.2L350.1,75.4M349.7,79.8L350.2,80.1M349.6,83.0L350.1,83.4M349.5,86.7L350.2,87.1M349.5,90.3L349.8,90.5M349.4,94.5L349.8,94.7M349.3,97.9L349.9,98.3M355.0,42.4L357.9,44.2M354.9,45.9L357.9,47.6M354.8,49.5L358.1,51.5M354.8,53.1L356.2,53.9M354.7,57.4L355.8,58.1M354.6,61.4L355.7,62.1M354.6,65.3L355.6,66.0M354.5,68.1L355.3,68.5M354.4,72.6L356.2,73.7M354.4,75.8L355.0,76.2M354.3,79.8L355.2,80.4M354.2,84.1L355.5,84.9M354.1,87.9L355.5,88.7M354.1,91.2L355.2,91.8M354.0,95.2L355.5,96.2" stroke="#30f8a0" stroke-width="1.1" fill="none"/>
<path d="M338.9,41.6L337.9,99.3M343.9,39.1L342.9,95.7M350.3,44.0L349.3,100.6M355.0,40.6L354.0,97.3" stroke="#40e040" stroke-width="0.95" fill="none"/>
<line x1="352.03" y1="89.75" x2="355.03" y2="91.75" stroke="#eeff33" stroke-width="1"/>
<line x1="352.53" y1="93.25" x2="356.53" y2="96.25" stroke="#33eeff" stroke-width="1"/>
<line x1="351.03" y1="92.75" x2="353.53" y2="91.25" stroke="#ccff33" stroke-width="1"/>
<path d="M372.2,13.7L373.9,14.6M372.8,17.8L373.8,18.3M371.9,22.1L373.7,23.1M372.6,26.4L373.6,26.9M372.9,29.3L373.6,29.7M373.0,33.8L373.5,34.1M372.4,37.6L373.4,38.1M373.0,41.7L373.4,41.9M372.6,45.7L373.3,46.1M372.8,49.0L373.2,49.3M372.5,53.3L373.2,53.7M372.4,57.0L373.1,57.4M372.7,60.5L373.0,60.7M372.3,65.1L373.0,65.5M372.2,68.3L372.9,68.7M376.2,10.4L378.9,11.8M376.4,15.1L378.8,16.4M377.1,18.9L378.7,19.8M377.7,23.4L378.6,24.0M377.5,26.6L378.6,27.3M377.5,31.2L378.5,31.7M377.4,34.5L378.4,35.1M377.1,38.3L378.4,38.9M376.8,41.4L378.3,42.2M377.0,45.6L378.2,46.3M377.1,49.0L378.2,49.6M377.0,53.0L378.1,53.6M376.7,56.5L378.0,57.3M377.1,61.5L378.0,61.9M376.6,64.4L377.9,65.1M383.4,16.3L385.3,17.3M382.8,20.2L385.2,21.5M384.1,24.5L385.1,25.1M383.6,28.0L385.1,28.8M384.2,32.1L385.0,32.6M384.4,35.4L384.9,35.7M383.8,39.5L384.9,40.1M384.0,43.4L384.8,43.9M384.3,46.7L384.7,46.9M384.0,50.4L384.7,50.8M384.0,54.3L384.6,54.6M384.0,57.9L384.5,58.2M383.5,62.2L384.5,62.7M383.8,65.9L384.4,66.3M383.4,69.2L384.3,69.7M388.1,12.9L390.0,14.0M387.6,16.8L389.9,18.1M388.4,21.2L389.8,21.9M388.9,24.9L389.8,25.4M388.5,28.8L389.7,29.4M388.7,31.8L389.6,32.3M388.5,36.5L389.6,37.1M388.1,39.6L389.5,40.4M387.8,42.8L389.4,43.7M388.6,47.0L389.4,47.5M387.6,50.8L389.3,51.7M388.1,54.9L389.2,55.5M388.2,59.3L389.1,59.8M388.4,62.2L389.1,62.6M387.7,65.9L389.0,66.7" stroke="#b8ff30" stroke-width="1.1" fill="none"/>
<path d="M373.9,15.0L375.3,15.9M373.8,18.7L374.6,19.2M373.7,23.5L375.0,24.3M373.6,27.3L374.6,27.9M373.6,30.1L374.2,30.5M373.5,34.5L374.0,34.9M373.4,38.5L374.3,39.1M373.4,42.3L373.7,42.5M373.3,46.5L374.0,47.0M373.2,49.7L373.5,49.8M373.2,54.1L373.9,54.6M373.1,57.8L373.8,58.2M373.0,61.1L373.4,61.3M373.0,65.9L373.6,66.3M372.9,69.1L373.5,69.4M378.9,12.2L380.8,13.4M378.8,16.8L380.5,17.8M378.7,20.2L380.4,21.2M378.6,24.4L379.4,24.8M378.6,27.7L379.6,28.3M378.5,32.1L379.2,32.6M378.4,35.5L379.5,36.2M378.4,39.3L379.6,40.1M378.3,42.6L379.5,43.3M378.2,46.7L379.4,47.4M378.2,50.0L379.1,50.6M378.1,54.0L379.0,54.6M378.0,57.7L379.5,58.6M378.0,62.3L378.6,62.7M377.9,65.5L379.1,66.2M385.3,17.7L387.3,19.0M385.2,21.9L387.1,23.1M385.1,25.5L386.2,26.2M385.1,29.2L386.4,30.0M385.0,33.0L385.9,33.5M384.9,36.1L385.4,36.4M384.9,40.5L386.0,41.1M384.8,44.3L385.7,44.8M384.7,47.3L385.1,47.5M384.7,51.2L385.3,51.6M384.6,55.0L385.1,55.3M384.5,58.6L384.9,58.8M384.5,63.1L385.1,63.5M384.4,66.7L385.0,67.0M384.3,70.1L385.1,70.5M390.0,14.4L391.7,15.4M389.9,18.5L391.8,19.6M389.8,22.3L391.4,23.3M389.8,25.8L390.7,26.4M389.7,29.8L390.9,30.5M389.6,32.7L390.5,33.2M389.6,37.5L390.7,38.1M389.5,40.8L390.9,41.7M389.4,44.1L391.0,45.0M389.4,47.9L390.2,48.3M389.3,52.1L391.0,53.2M389.2,55.9L390.3,56.6M389.1,60.2L390.0,60.7M389.1,63.0L389.6,63.3M389.0,67.1L390.4,67.9" stroke="#30f8a0" stroke-width="1.1" fill="none"/>
<path d="M373.9,13.8L372.9,71.5M378.9,11.2L377.9,67.8M385.3,16.1L384.3,72.7M390.0,12.7L389.0,69.4" stroke="#40e040" stroke-width="0.95" fill="none"/>
<line x1="268.56" y1="121.07" x2="272.54" y2="120.46" stroke="#22e8ff" stroke-width="1.22" stroke-linecap="round"/>
<line x1="264.28" y1="123.42" x2="266.62" y2="122.81" stroke="#ffcc22" stroke-width="1.22" stroke-linecap="round"/>
<line x1="266.62" y1="122.81" x2="269.07" y2="122.40" stroke="#c8ff30" stroke-width="1.12" stroke-linecap="round"/>
<line x1="268.77" y1="124.95" x2="273.56" y2="124.64" stroke="#22e8ff" stroke-width="1.53" stroke-linecap="round"/>
<line x1="263.16" y1="127.50" x2="266.22" y2="126.99" stroke="#ffcc22" stroke-width="1.33" stroke-linecap="round"/>
<line x1="266.22" y1="126.99" x2="269.48" y2="126.78" stroke="#c8ff30" stroke-width="1.12" stroke-linecap="round"/>
<line x1="270.81" y1="128.52" x2="273.15" y2="128.11" stroke="#40ee60" stroke-width="1.02" stroke-linecap="round"/>
<line x1="269.68" y1="132.60" x2="276.21" y2="132.70" stroke="#1515ee" stroke-width="1.43" stroke-linecap="round"/>
<line x1="260.91" y1="134.13" x2="263.16" y2="134.33" stroke="#ee1515" stroke-width="1.33" stroke-linecap="round"/>
<line x1="263.16" y1="134.33" x2="265.20" y2="134.64" stroke="#ff8a18" stroke-width="1.27" stroke-linecap="round"/>
<line x1="265.20" y1="134.64" x2="267.03" y2="135.05" stroke="#ffe020" stroke-width="1.22" stroke-linecap="round"/>
<line x1="267.03" y1="135.05" x2="268.66" y2="135.45" stroke="#c8ff30" stroke-width="1.12" stroke-linecap="round"/>
<line x1="264.28" y1="139.13" x2="266.83" y2="139.94" stroke="#ffcc22" stroke-width="1.33" stroke-linecap="round"/>
<line x1="268.46" y1="140.15" x2="270.91" y2="140.35" stroke="#22e8ff" stroke-width="1.02" stroke-linecap="round"/>
<line x1="268.05" y1="143.61" x2="272.74" y2="143.72" stroke="#22e8ff" stroke-width="1.33" stroke-linecap="round"/>
<line x1="264.28" y1="146.98" x2="267.03" y2="146.57" stroke="#ffcc22" stroke-width="1.33" stroke-linecap="round"/>
<line x1="267.03" y1="146.57" x2="270.70" y2="146.16" stroke="#c8ff30" stroke-width="1.12" stroke-linecap="round"/>
<line x1="268.26" y1="150.45" x2="270.81" y2="150.75" stroke="#22e8ff" stroke-width="1.02" stroke-linecap="round"/>
<line x1="280.19" y1="125.87" x2="283.25" y2="125.36" stroke="#22e8ff" stroke-width="1.22" stroke-linecap="round"/>
<line x1="277.03" y1="127.29" x2="279.37" y2="126.89" stroke="#c8ff30" stroke-width="1.12" stroke-linecap="round"/>
<text x="271.75" y="165.97" font-family="Liberation Sans" font-size="8.1" text-anchor="middle" fill="#111" font-weight="normal" >(BP) 1</text>
<text x="315.60" y="137.22" font-family="Liberation Sans" font-size="8.1" text-anchor="middle" fill="#111" font-weight="normal" >(BP) 2</text>
<text x="350.50" y="109.22" font-family="Liberation Sans" font-size="8.1" text-anchor="middle" fill="#111" font-weight="normal" >(BP) 3</text>
<text x="382.30" y="80.02" font-family="Liberation Sans" font-size="8.1" text-anchor="middle" fill="#111" font-weight="normal" >(BP) 4</text>
<text x="253.75" y="114.62" font-family="Liberation Sans" font-size="8.1" text-anchor="middle" fill="#111" font-weight="normal" >Pile 1-1</text>
<rect x="399.50" y="19.40" width="6.40" height="10.28" fill="#ff0000" stroke="#2a1a1a" stroke-width="0.45"/>
<rect x="399.50" y="29.68" width="6.40" height="10.28" fill="#ff4c00" stroke="#2a1a1a" stroke-width="0.45"/>
<rect x="399.50" y="39.96" width="6.40" height="10.28" fill="#ffc800" stroke="#2a1a1a" stroke-width="0.45"/>
<rect x="399.50" y="50.24" width="6.40" height="10.28" fill="#ffff00" stroke="#2a1a1a" stroke-width="0.45"/>
<rect x="399.50" y="60.52" width="6.40" height="10.28" fill="#99ff00" stroke="#2a1a1a" stroke-width="0.45"/>
<rect x="399.50" y="70.80" width="6.40" height="10.28" fill="#00ee00" stroke="#2a1a1a" stroke-width="0.45"/>
<rect x="399.50" y="81.08" width="6.40" height="10.28" fill="#00f030" stroke="#2a1a1a" stroke-width="0.45"/>
<rect x="399.50" y="91.36" width="6.40" height="10.28" fill="#00ffa0" stroke="#2a1a1a" stroke-width="0.45"/>
<rect x="399.50" y="101.64" width="6.40" height="10.28" fill="#00ffff" stroke="#2a1a1a" stroke-width="0.45"/>
<rect x="399.50" y="111.92" width="6.40" height="10.28" fill="#00c0ff" stroke="#2a1a1a" stroke-width="0.45"/>
<rect x="399.50" y="122.20" width="6.40" height="10.28" fill="#0050ff" stroke="#2a1a1a" stroke-width="0.45"/>
<rect x="399.50" y="132.48" width="6.40" height="10.28" fill="#0000ff" stroke="#2a1a1a" stroke-width="0.45"/>
<path d="M399.50,19.40H418.90M399.50,29.68H418.90M399.50,39.96H418.90M399.50,50.24H418.90M399.50,60.52H418.90M399.50,70.80H418.90M399.50,81.08H418.90M399.50,91.36H418.90M399.50,101.64H418.90M399.50,111.92H418.90M399.50,122.20H418.90M399.50,132.48H418.90M399.50,142.76H418.90" stroke="#8c8c8c" stroke-width="0.6" fill="none"/>
<text x="418.90" y="21.08" font-family="Liberation Mono" font-size="5.10" textLength="34.08" lengthAdjust="spacingAndGlyphs" fill="#2a2a2a" font-weight="normal">+8.68325e+002</text>
<text x="418.90" y="31.36" font-family="Liberation Mono" font-size="5.10" textLength="34.08" lengthAdjust="spacingAndGlyphs" fill="#2a2a2a" font-weight="normal">+7.23604e+002</text>
<text x="418.90" y="41.64" font-family="Liberation Mono" font-size="5.10" textLength="34.08" lengthAdjust="spacingAndGlyphs" fill="#2a2a2a" font-weight="normal">+5.78883e+002</text>
<text x="418.90" y="51.92" font-family="Liberation Mono" font-size="5.10" textLength="34.08" lengthAdjust="spacingAndGlyphs" fill="#2a2a2a" font-weight="normal">+4.34162e+002</text>
<text x="418.90" y="62.20" font-family="Liberation Mono" font-size="5.10" textLength="34.08" lengthAdjust="spacingAndGlyphs" fill="#2a2a2a" font-weight="normal">+2.89442e+002</text>
<text x="418.90" y="72.48" font-family="Liberation Mono" font-size="5.10" textLength="34.08" lengthAdjust="spacingAndGlyphs" fill="#2a2a2a" font-weight="normal">+1.44721e+002</text>
<text x="418.90" y="82.76" font-family="Liberation Mono" font-size="5.10" textLength="34.08" lengthAdjust="spacingAndGlyphs" fill="#2a2a2a" font-weight="normal">+0.00000e+000</text>
<text x="418.90" y="93.04" font-family="Liberation Mono" font-size="5.10" textLength="34.08" lengthAdjust="spacingAndGlyphs" fill="#2a2a2a" font-weight="normal">-1.44721e+002</text>
<text x="418.90" y="103.32" font-family="Liberation Mono" font-size="5.10" textLength="34.08" lengthAdjust="spacingAndGlyphs" fill="#2a2a2a" font-weight="normal">-2.89442e+002</text>
<text x="418.90" y="113.60" font-family="Liberation Mono" font-size="5.10" textLength="34.08" lengthAdjust="spacingAndGlyphs" fill="#2a2a2a" font-weight="normal">-4.34162e+002</text>
<text x="418.90" y="123.88" font-family="Liberation Mono" font-size="5.10" textLength="34.08" lengthAdjust="spacingAndGlyphs" fill="#2a2a2a" font-weight="normal">-5.78883e+002</text>
<text x="418.90" y="134.16" font-family="Liberation Mono" font-size="5.10" textLength="34.08" lengthAdjust="spacingAndGlyphs" fill="#2a2a2a" font-weight="normal">-7.23604e+002</text>
<text x="418.90" y="144.44" font-family="Liberation Mono" font-size="5.10" textLength="34.08" lengthAdjust="spacingAndGlyphs" fill="#2a2a2a" font-weight="normal">-8.68325e+002</text>
<text x="409.40" y="25.92" font-family="Liberation Mono" font-size="5.10" textLength="10.20" lengthAdjust="spacingAndGlyphs" fill="#e80000" font-weight="bold">0.0%</text>
<text x="409.40" y="36.20" font-family="Liberation Mono" font-size="5.10" textLength="10.20" lengthAdjust="spacingAndGlyphs" fill="#e80000" font-weight="bold">0.0%</text>
<text x="409.40" y="46.48" font-family="Liberation Mono" font-size="5.10" textLength="10.20" lengthAdjust="spacingAndGlyphs" fill="#e80000" font-weight="bold">0.2%</text>
<text x="409.40" y="56.76" font-family="Liberation Mono" font-size="5.10" textLength="10.20" lengthAdjust="spacingAndGlyphs" fill="#e80000" font-weight="bold">0.5%</text>
<text x="409.40" y="67.04" font-family="Liberation Mono" font-size="5.10" textLength="10.20" lengthAdjust="spacingAndGlyphs" fill="#e80000" font-weight="bold">5.0%</text>
<text x="409.40" y="77.32" font-family="Liberation Mono" font-size="5.10" textLength="12.75" lengthAdjust="spacingAndGlyphs" fill="#e80000" font-weight="bold">55.4%</text>
<text x="409.40" y="87.60" font-family="Liberation Mono" font-size="5.10" textLength="12.75" lengthAdjust="spacingAndGlyphs" fill="#e80000" font-weight="bold">31.6%</text>
<text x="409.40" y="97.88" font-family="Liberation Mono" font-size="5.10" textLength="10.20" lengthAdjust="spacingAndGlyphs" fill="#e80000" font-weight="bold">5.6%</text>
<text x="409.40" y="108.16" font-family="Liberation Mono" font-size="5.10" textLength="10.20" lengthAdjust="spacingAndGlyphs" fill="#e80000" font-weight="bold">0.6%</text>
<text x="409.40" y="118.44" font-family="Liberation Mono" font-size="5.10" textLength="10.20" lengthAdjust="spacingAndGlyphs" fill="#e80000" font-weight="bold">0.1%</text>
<text x="409.40" y="128.72" font-family="Liberation Mono" font-size="5.10" textLength="10.20" lengthAdjust="spacingAndGlyphs" fill="#e80000" font-weight="bold">0.0%</text>
<text x="409.40" y="139.00" font-family="Liberation Mono" font-size="5.10" textLength="10.20" lengthAdjust="spacingAndGlyphs" fill="#e80000" font-weight="bold">0.1%</text>
<text x="399.80" y="9.88" font-family="Liberation Mono" font-size="5.10" textLength="26.21" lengthAdjust="spacingAndGlyphs" fill="#111" font-weight="bold">BEAM FORCE</text>
<text x="399.80" y="14.98" font-family="Liberation Mono" font-size="5.10" textLength="55.05" lengthAdjust="spacingAndGlyphs" fill="#111" font-weight="bold">BENDING MMNT Z , kN*m</text>
<g transform="translate(435.4,177.2) scale(1.02)">
<line x1="0" y1="0" x2="0.2" y2="-10.5" stroke="#1010ee" stroke-width="1.6"/>
<path d="M0.3,-15.2 l-2.1,5.4 l4.2,0 Z" fill="#1010ee"/>
<line x1="0" y1="0" x2="-10.5" y2="-2.0" stroke="#10cc10" stroke-width="1.6"/>
<path d="M-15.2,-3.0 l5.4,-1.4 l-0.7,4.0 Z" fill="#10cc10"/>
<line x1="0" y1="0" x2="3.6" y2="-3" stroke="#ee1010" stroke-width="1.7"/>
<circle cx="4.1" cy="-3.5" r="1.6" fill="#ee1010"/>
<circle cx="0" cy="0" r="1.0" fill="#ddcc22"/>
<text x="1.50" y="-18.50" font-family="Liberation Sans" font-size="5.8" text-anchor="middle" fill="#3838ee" font-weight="normal" >Z</text>
<text x="-16.50" y="-2.40" font-family="Liberation Sans" font-size="5.6" text-anchor="middle" fill="#30cc30" font-weight="normal" >Y</text>
<text x="8.40" y="-6.60" font-family="Liberation Sans" font-size="5.4" text-anchor="middle" fill="#e04848" font-weight="normal" >X</text>
</g>
<text x="343.85" y="202.10" font-family="Liberation Serif" font-size="13.4" text-anchor="middle" fill="#111">(<tspan font-weight="bold">b</tspan>)</text>
</g>
<g id="panel-c">
<path d="M495.50,84.25 L517.71,87.80 L510.51,94.39 L486.88,91.20 Z M486.88,91.20 L486.88,98.80 L510.51,102.00 L510.51,94.39 M510.51,102.00 L517.71,95.40 L517.71,87.80" fill="none" stroke="#8a8ad0" stroke-width="0.6" stroke-linejoin="round"/>
<path d="M530.30,56.35 L552.51,59.90 L545.31,66.49 L521.68,63.30 Z M521.68,63.30 L521.68,70.90 L545.31,74.10 L545.31,66.49 M545.31,74.10 L552.51,67.50 L552.51,59.90" fill="none" stroke="#8a8ad0" stroke-width="0.6" stroke-linejoin="round"/>
<path d="M565.10,28.45 L587.31,32.00 L580.11,38.59 L556.48,35.40 Z M556.48,35.40 L556.48,43.00 L580.11,46.20 L580.11,38.59 M580.11,46.20 L587.31,39.60 L587.31,32.00" fill="none" stroke="#8a8ad0" stroke-width="0.6" stroke-linejoin="round"/>
<path d="M599.90,0.55 L622.11,4.10 L614.91,10.69 L591.28,7.50 Z M591.28,7.50 L591.28,15.10 L614.91,18.30 L614.91,10.69 M614.91,18.30 L622.11,11.70 L622.11,4.10" fill="none" stroke="#8a8ad0" stroke-width="0.6" stroke-linejoin="round"/>
<path d="M492.4,97.0L494.1,98.0M492.3,101.5L494.0,102.4M492.3,105.3L493.9,106.2M493.1,109.5L493.9,109.9M493.0,113.7L493.8,114.1M493.3,117.0L493.7,117.2M492.9,121.1L493.7,121.6M493.3,125.0L493.6,125.2M493.1,128.3L493.5,128.6M493.1,132.8L493.4,133.0M492.9,136.2L493.4,136.4M492.9,140.5L493.3,140.7M493.0,144.6L493.2,144.8M492.7,148.0L493.2,148.2M492.7,151.8L493.1,152.0M496.3,94.8L499.0,96.3M496.0,97.9L499.0,99.5M496.1,101.9L498.9,103.5M497.7,106.3L498.8,107.0M497.8,110.7L498.7,111.3M497.8,114.6L498.7,115.1M497.3,118.1L498.6,118.8M497.4,120.9L498.6,121.6M497.8,125.3L498.5,125.7M497.8,129.7L498.4,130.1M497.7,133.2L498.3,133.5M497.4,136.2L498.3,136.7M497.4,139.9L498.2,140.4M497.6,143.8L498.2,144.2M497.0,147.5L498.1,148.1M504.1,99.7L505.4,100.4M504.0,104.0L505.3,104.7M502.8,107.2L505.3,108.5M504.3,111.8L505.2,112.3M504.6,114.9L505.2,115.2M504.0,118.7L505.1,119.3M504.2,123.2L505.0,123.7M504.6,126.5L504.9,126.7M504.2,130.6L504.9,130.9M504.3,134.7L504.8,135.0M504.4,138.4L504.7,138.6M504.0,141.9L504.7,142.2M503.9,145.0L504.6,145.4M504.0,149.1L504.5,149.4M503.8,153.3L504.5,153.6M507.2,95.4L510.1,96.9M508.7,100.1L510.0,100.8M508.3,104.1L509.9,105.0M509.0,108.6L509.9,109.1M508.7,111.3L509.8,111.9M509.2,116.4L509.7,116.7M508.7,119.4L509.7,120.0M508.4,122.7L509.6,123.4M508.3,126.9L509.5,127.6M508.4,130.1L509.5,130.7M508.4,134.7L509.4,135.2M508.8,138.0L509.3,138.3M508.6,142.6L509.3,143.0M508.5,145.4L509.2,145.8M507.9,149.1L509.1,149.8" stroke="#b8ff30" stroke-width="1.1" fill="none"/>
<path d="M494.1,98.4L495.4,99.2M494.0,102.8L495.4,103.7M493.9,106.6L495.1,107.3M493.9,110.3L494.5,110.7M493.8,114.5L494.5,114.9M493.7,117.6L494.2,117.9M493.7,122.0L494.3,122.3M493.6,125.6L493.9,125.7M493.5,129.0L494.0,129.2M493.4,133.4L493.7,133.5M493.4,136.8L493.8,137.1M493.3,141.1L493.6,141.3M493.2,145.2L493.5,145.3M493.2,148.6L493.6,148.9M493.1,152.4L493.5,152.6M499.0,96.7L501.6,98.2M499.0,99.9L501.5,101.5M498.9,103.9L501.6,105.5M498.8,107.4L499.9,108.0M498.7,111.7L499.7,112.2M498.7,115.5L499.5,116.0M498.6,119.2L499.6,119.8M498.6,122.0L499.8,122.8M498.5,126.1L499.2,126.5M498.4,130.5L499.0,130.8M498.3,133.9L498.9,134.3M498.3,137.1L499.0,137.5M498.2,140.8L498.8,141.1M498.2,144.6L498.7,144.9M498.1,148.5L499.0,149.1M505.4,100.8L506.5,101.4M505.3,105.1L506.5,105.8M505.3,108.9L507.4,110.2M505.2,112.7L505.9,113.2M505.2,115.6L505.7,116.0M505.1,119.7L506.2,120.4M505.0,124.1L505.5,124.4M504.9,127.1L505.3,127.3M504.9,131.3L505.5,131.7M504.8,135.4L505.3,135.7M504.7,139.0L505.1,139.2M504.7,142.6L505.1,142.9M504.6,145.8L505.1,146.1M504.5,149.8L505.0,150.1M504.5,154.0L505.0,154.4M510.1,97.3L512.6,98.8M510.0,101.2L511.0,101.8M509.9,105.4L511.4,106.3M509.9,109.5L510.8,110.1M509.8,112.3L510.9,113.0M509.7,117.1L510.2,117.3M509.7,120.4L510.5,120.9M509.6,123.8L510.9,124.6M509.5,128.0L510.7,128.7M509.5,131.1L510.3,131.6M509.4,135.6L510.2,136.1M509.3,138.7L509.7,138.9M509.3,143.4L510.0,143.8M509.2,146.2L509.9,146.6M509.1,150.2L510.2,150.8" stroke="#30f8a0" stroke-width="1.1" fill="none"/>
<path d="M494.1,97.2L493.1,154.6M499.0,94.7L498.0,151.0M505.4,99.6L504.4,155.8M510.1,96.2L509.1,152.6" stroke="#40e040" stroke-width="0.95" fill="none"/>
<path d="M527.8,69.9L528.9,70.5M527.5,73.8L528.8,74.5M527.8,77.8L528.7,78.4M527.7,81.6L528.7,82.2M527.6,85.2L528.6,85.7M527.8,89.8L528.5,90.2M527.8,92.6L528.5,92.9M528.0,96.9L528.4,97.1M527.8,100.7L528.3,100.9M527.9,104.4L528.3,104.6M527.7,108.7L528.2,109.0M527.6,112.7L528.1,113.0M527.8,116.0L528.1,116.1M527.4,120.3L528.0,120.6M527.3,124.0L527.9,124.3M532.4,66.6L533.8,67.4M531.1,70.4L533.8,71.9M530.7,74.0L533.7,75.6M532.4,78.4L533.6,79.1M532.6,82.1L533.6,82.6M532.3,85.9L533.5,86.6M532.6,90.0L533.4,90.5M532.5,93.2L533.4,93.7M532.5,97.0L533.3,97.5M532.1,100.6L533.2,101.2M532.4,105.0L533.2,105.4M532.0,109.0L533.1,109.6M531.9,112.1L533.0,112.7M531.9,116.3L532.9,116.8M531.6,119.6L532.9,120.3M539.0,72.5L540.2,73.2M538.7,75.7L540.1,76.5M539.0,80.0L540.1,80.6M538.9,83.3L540.0,83.9M539.0,87.7L539.9,88.2M539.0,91.2L539.9,91.7M538.9,94.6L539.8,95.1M539.3,98.5L539.7,98.8M539.2,102.4L539.7,102.6M539.2,106.5L539.6,106.7M539.0,109.7L539.5,110.0M539.1,113.5L539.5,113.7M539.0,117.5L539.4,117.7M538.9,121.7L539.3,121.9M538.9,125.2L539.3,125.4M542.3,68.5L544.9,69.9M541.9,71.9L544.8,73.5M542.2,75.3L544.8,76.7M543.5,80.6L544.7,81.3M543.6,83.6L544.6,84.1M543.4,87.7L544.5,88.3M543.5,91.9L544.5,92.4M543.8,95.8L544.4,96.1M543.7,99.6L544.3,100.0M543.4,103.0L544.3,103.5M543.5,106.9L544.2,107.3M542.9,110.2L544.1,110.8M543.0,113.5L544.1,114.1M543.2,118.4L544.0,118.8M543.0,121.4L543.9,121.9" stroke="#b8ff30" stroke-width="1.1" fill="none"/>
<path d="M528.9,70.9L529.7,71.4M528.8,74.9L530.0,75.6M528.7,78.8L529.4,79.2M528.7,82.6L529.4,83.0M528.6,86.1L529.6,86.7M528.5,90.6L529.3,91.0M528.5,93.3L529.1,93.7M528.4,97.5L528.7,97.7M528.3,101.3L528.9,101.7M528.3,105.0L528.6,105.2M528.2,109.4L528.7,109.7M528.1,113.4L528.6,113.7M528.1,116.5L528.3,116.7M528.0,121.0L528.4,121.3M527.9,124.7L528.4,125.0M533.8,67.8L534.9,68.4M533.8,72.3L536.5,73.9M533.7,76.0L537.0,78.0M533.6,79.5L534.9,80.2M533.6,83.0L534.3,83.5M533.5,87.0L534.3,87.5M533.4,90.9L534.1,91.3M533.4,94.1L534.1,94.5M533.3,97.9L534.1,98.4M533.2,101.6L534.1,102.1M533.2,105.8L534.0,106.3M533.1,110.0L534.0,110.6M533.0,113.1L534.1,113.8M532.9,117.2L533.8,117.7M532.9,120.7L533.9,121.4M540.2,73.6L541.1,74.1M540.1,76.9L541.5,77.8M540.1,81.0L541.0,81.5M540.0,84.3L541.2,85.0M539.9,88.6L540.8,89.1M539.9,92.1L540.6,92.5M539.8,95.5L540.8,96.0M539.7,99.2L540.1,99.3M539.7,103.0L540.0,103.2M539.6,107.1L540.0,107.4M539.5,110.4L540.2,110.8M539.5,114.1L539.9,114.4M539.4,118.1L539.7,118.3M539.3,122.3L539.8,122.6M539.3,125.8L539.6,126.0M544.9,70.3L547.3,71.7M544.8,73.9L547.1,75.3M544.8,77.1L547.0,78.4M544.7,81.7L545.7,82.3M544.6,84.5L545.5,85.0M544.5,88.7L545.5,89.3M544.5,92.8L545.2,93.3M544.4,96.5L545.0,96.9M544.3,100.4L544.8,100.7M544.3,103.9L545.0,104.3M544.2,107.7L544.8,108.0M544.1,111.2L545.5,112.0M544.1,114.5L545.0,115.0M544.0,119.2L544.6,119.6M543.9,122.3L544.6,122.7" stroke="#30f8a0" stroke-width="1.1" fill="none"/>
<path d="M528.9,69.3L527.9,126.7M533.8,66.8L532.8,123.1M540.2,71.7L539.2,127.9M544.9,68.3L543.9,124.7" stroke="#40e040" stroke-width="0.95" fill="none"/>
<path d="M562.4,42.2L563.7,42.9M562.1,45.3L563.6,46.1M562.3,49.2L563.5,49.9M562.9,53.6L563.5,53.9M562.5,57.6L563.4,58.1M562.4,61.6L563.3,62.1M562.5,65.6L563.2,66.0M562.9,69.1L563.2,69.2M562.8,72.9L563.1,73.1M562.5,77.0L563.0,77.3M562.4,80.9L563.0,81.2M562.5,84.9L562.9,85.2M562.3,88.3L562.8,88.6M562.5,92.0L562.8,92.2M562.1,96.3L562.7,96.6M567.3,39.2L568.6,40.0M567.3,42.8L568.6,43.5M566.6,47.0L568.5,48.0M567.6,50.3L568.4,50.8M567.7,55.0L568.4,55.3M567.0,58.4L568.3,59.1M567.0,62.0L568.2,62.6M567.4,66.2L568.1,66.6M567.0,68.9L568.1,69.5M566.8,72.7L568.0,73.4M566.9,76.4L568.0,77.0M567.3,81.2L567.9,81.5M566.8,84.8L567.8,85.3M566.7,88.4L567.7,89.0M566.7,91.9L567.7,92.5M573.2,44.0L575.0,45.1M573.5,48.3L574.9,49.0M572.4,50.5L574.9,51.8M574.0,55.8L574.8,56.2M573.8,59.9L574.7,60.4M574.1,63.3L574.7,63.6M573.7,67.2L574.6,67.7M573.8,71.2L574.5,71.6M573.9,74.8L574.5,75.1M574.0,79.0L574.4,79.2M573.9,81.9L574.3,82.1M574.0,86.5L574.3,86.7M573.7,89.9L574.2,90.2M573.6,93.8L574.1,94.2M573.4,97.3L574.1,97.7M577.1,40.0L579.7,41.4M576.6,43.5L579.6,45.2M577.4,47.8L579.5,48.9M578.6,52.6L579.5,53.1M578.2,55.8L579.4,56.5M578.5,59.6L579.3,60.0M578.3,63.8L579.3,64.4M578.3,67.0L579.2,67.5M578.3,71.1L579.1,71.5M578.4,75.1L579.1,75.5M577.9,78.0L579.0,78.6M578.3,82.2L578.9,82.6M577.6,85.5L578.9,86.3M577.8,89.4L578.8,89.9M578.1,93.6L578.7,93.9" stroke="#b8ff30" stroke-width="1.1" fill="none"/>
<path d="M563.7,43.3L564.9,44.1M563.6,46.5L565.1,47.4M563.5,50.3L564.8,51.1M563.5,54.3L564.0,54.7M563.4,58.5L564.2,59.0M563.3,62.5L564.3,63.1M563.2,66.4L564.0,66.9M563.2,69.6L563.5,69.8M563.1,73.5L563.4,73.7M563.0,77.7L563.4,77.9M563.0,81.6L563.6,81.9M562.9,85.6L563.4,85.8M562.8,89.0L563.4,89.3M562.8,92.6L563.0,92.7M562.7,97.0L563.2,97.3M568.6,40.4L570.0,41.2M568.6,43.9L569.5,44.5M568.5,48.4L570.4,49.6M568.4,51.2L569.3,51.7M568.4,55.7L568.9,56.1M568.3,59.5L569.2,60.1M568.2,63.0L569.4,63.7M568.1,67.0L568.8,67.4M568.1,69.9L569.2,70.5M568.0,73.8L569.0,74.4M568.0,77.4L568.8,77.9M567.9,81.9L568.3,82.1M567.8,85.7L568.8,86.3M567.7,89.4L568.6,89.9M567.7,92.9L568.7,93.5M575.0,45.5L576.9,46.6M574.9,49.4L576.0,50.1M574.9,52.2L576.9,53.4M574.8,56.6L575.6,57.1M574.7,60.8L575.4,61.2M574.7,64.0L575.2,64.3M574.6,68.1L575.5,68.6M574.5,72.0L575.1,72.3M574.5,75.5L574.9,75.8M574.4,79.6L574.8,79.9M574.3,82.5L574.7,82.7M574.3,87.1L574.5,87.2M574.2,90.6L574.6,90.8M574.1,94.6L574.6,94.9M574.1,98.1L574.8,98.5M579.7,41.8L581.7,43.0M579.6,45.6L582.6,47.4M579.5,49.3L581.4,50.5M579.5,53.5L580.3,53.9M579.4,56.9L580.7,57.6M579.3,60.4L580.2,61.0M579.3,64.8L580.2,65.3M579.2,67.9L580.2,68.5M579.1,71.9L579.9,72.4M579.1,75.9L579.7,76.3M579.0,79.0L580.0,79.7M578.9,83.0L579.5,83.3M578.9,86.7L579.9,87.3M578.8,90.3L579.9,91.0M578.7,94.3L579.4,94.7" stroke="#30f8a0" stroke-width="1.1" fill="none"/>
<path d="M563.7,41.4L562.7,98.8M568.6,38.9L567.6,95.2M575.0,43.8L574.0,100.0M579.7,40.4L578.7,96.8" stroke="#40e040" stroke-width="0.95" fill="none"/>
<line x1="576.76" y1="89.29" x2="579.76" y2="91.29" stroke="#eeff33" stroke-width="1"/>
<line x1="577.26" y1="92.79" x2="581.26" y2="95.79" stroke="#33eeff" stroke-width="1"/>
<line x1="575.76" y1="92.29" x2="578.26" y2="90.79" stroke="#ccff33" stroke-width="1"/>
<path d="M597.0,13.7L598.5,14.5M597.0,18.3L598.4,19.1M596.7,21.7L598.3,22.6M597.5,25.7L598.3,26.1M597.5,29.7L598.2,30.1M597.5,33.0L598.1,33.4M597.4,37.3L598.1,37.6M597.6,41.6L598.0,41.8M597.5,44.9L597.9,45.1M597.3,48.9L597.8,49.2M597.2,52.8L597.8,53.1M597.2,56.9L597.7,57.2M597.3,60.6L597.6,60.7M597.1,63.7L597.6,64.0M597.1,68.5L597.5,68.7M601.1,11.2L603.4,12.5M602.3,15.6L603.4,16.2M601.5,18.8L603.3,19.8M602.7,23.3L603.2,23.6M602.4,26.1L603.2,26.6M602.4,29.9L603.1,30.3M601.7,33.6L603.0,34.3M602.3,38.4L602.9,38.8M601.7,41.5L602.9,42.1M601.6,45.0L602.8,45.6M602.2,48.9L602.8,49.2M602.0,53.3L602.7,53.7M602.1,57.3L602.6,57.5M602.1,60.2L602.6,60.5M601.7,64.1L602.5,64.5M607.8,15.3L609.8,16.4M607.9,20.2L609.7,21.2M608.0,23.6L609.7,24.5M608.9,28.1L609.6,28.5M608.5,31.7L609.5,32.3M608.6,35.0L609.5,35.5M608.4,39.1L609.4,39.6M608.8,43.1L609.3,43.4M608.9,46.4L609.3,46.6M608.7,50.6L609.2,50.9M608.5,54.0L609.1,54.4M608.6,58.0L609.1,58.3M608.3,61.4L609.0,61.8M608.7,65.6L608.9,65.8M608.5,69.3L608.9,69.5M613.3,13.2L614.5,13.9M612.1,15.9L614.4,17.2M613.2,20.9L614.3,21.6M613.7,24.8L614.3,25.2M613.5,28.3L614.2,28.6M613.0,32.2L614.1,32.8M613.0,36.0L614.1,36.6M612.7,39.6L614.0,40.3M612.8,43.5L613.9,44.1M612.9,47.4L613.9,48.0M612.5,50.7L613.8,51.4M613.2,54.6L613.7,54.9M613.0,58.5L613.7,58.8M612.7,62.1L613.6,62.6M613.0,65.4L613.5,65.7" stroke="#b8ff30" stroke-width="1.1" fill="none"/>
<path d="M598.5,14.9L599.8,15.7M598.4,19.5L599.5,20.2M598.3,23.0L600.0,24.0M598.3,26.5L598.9,26.9M598.2,30.5L598.7,30.8M598.1,33.8L598.8,34.2M598.1,38.0L598.6,38.4M598.0,42.2L598.3,42.4M597.9,45.5L598.3,45.7M597.8,49.6L598.3,49.9M597.8,53.5L598.4,53.8M597.7,57.6L598.1,57.8M597.6,61.1L597.9,61.3M597.6,64.4L598.1,64.7M597.5,69.1L597.9,69.3M603.4,12.9L605.8,14.3M603.4,16.6L604.4,17.2M603.3,20.2L605.1,21.3M603.2,24.0L603.7,24.3M603.2,27.0L603.8,27.3M603.1,30.7L603.8,31.1M603.0,34.7L604.0,35.3M602.9,39.2L603.7,39.6M602.9,42.5L603.9,43.2M602.8,46.0L603.7,46.6M602.8,49.6L603.3,49.9M602.7,54.1L603.3,54.5M602.6,57.9L603.1,58.2M602.6,60.9L603.0,61.1M602.5,64.9L603.2,65.4M609.8,16.8L611.4,17.8M609.7,21.6L611.2,22.5M609.7,24.9L610.9,25.7M609.6,28.9L610.4,29.4M609.5,32.7L610.7,33.4M609.5,35.9L610.3,36.4M609.4,40.0L610.4,40.6M609.3,43.8L609.8,44.1M609.3,47.0L609.6,47.2M609.2,51.3L609.6,51.5M609.1,54.8L609.6,55.1M609.1,58.7L609.5,59.0M609.0,62.2L609.6,62.5M608.9,66.2L609.1,66.3M608.9,69.9L609.2,70.1M614.5,14.3L615.5,14.9M614.4,17.6L616.6,18.9M614.3,22.0L615.4,22.6M614.3,25.6L614.7,25.8M614.2,29.0L614.7,29.3M614.1,33.2L615.2,33.9M614.1,37.0L615.0,37.6M614.0,40.7L615.4,41.5M613.9,44.5L615.2,45.3M613.9,48.4L614.7,48.9M613.8,51.8L614.8,52.4M613.7,55.3L614.2,55.6M613.7,59.2L614.1,59.5M613.6,63.0L614.4,63.5M613.5,66.1L614.1,66.4" stroke="#30f8a0" stroke-width="1.1" fill="none"/>
<path d="M598.5,13.5L597.5,70.9M603.4,11.0L602.4,67.3M609.8,15.9L608.8,72.1M614.5,12.5L613.5,68.9" stroke="#40e040" stroke-width="0.95" fill="none"/>
<line x1="493.77" y1="120.86" x2="497.73" y2="120.25" stroke="#22e8ff" stroke-width="1.22" stroke-linecap="round"/>
<line x1="489.51" y1="123.19" x2="491.85" y2="122.58" stroke="#ffcc22" stroke-width="1.22" stroke-linecap="round"/>
<line x1="491.85" y1="122.58" x2="494.28" y2="122.17" stroke="#c8ff30" stroke-width="1.12" stroke-linecap="round"/>
<line x1="493.98" y1="124.71" x2="498.74" y2="124.40" stroke="#22e8ff" stroke-width="1.52" stroke-linecap="round"/>
<line x1="488.40" y1="127.24" x2="491.44" y2="126.74" stroke="#ffcc22" stroke-width="1.32" stroke-linecap="round"/>
<line x1="491.44" y1="126.74" x2="494.69" y2="126.53" stroke="#c8ff30" stroke-width="1.12" stroke-linecap="round"/>
<line x1="496.00" y1="128.26" x2="498.34" y2="127.85" stroke="#40ee60" stroke-width="1.01" stroke-linecap="round"/>
<line x1="494.89" y1="132.31" x2="501.38" y2="132.42" stroke="#1515ee" stroke-width="1.42" stroke-linecap="round"/>
<line x1="486.17" y1="133.83" x2="488.40" y2="134.04" stroke="#ee1515" stroke-width="1.32" stroke-linecap="round"/>
<line x1="488.40" y1="134.04" x2="490.43" y2="134.34" stroke="#ff8a18" stroke-width="1.27" stroke-linecap="round"/>
<line x1="490.43" y1="134.34" x2="492.25" y2="134.75" stroke="#ffe020" stroke-width="1.22" stroke-linecap="round"/>
<line x1="492.25" y1="134.75" x2="493.87" y2="135.15" stroke="#c8ff30" stroke-width="1.12" stroke-linecap="round"/>
<line x1="489.51" y1="138.80" x2="492.05" y2="139.61" stroke="#ffcc22" stroke-width="1.32" stroke-linecap="round"/>
<line x1="493.67" y1="139.82" x2="496.11" y2="140.02" stroke="#22e8ff" stroke-width="1.01" stroke-linecap="round"/>
<line x1="493.27" y1="143.26" x2="497.93" y2="143.37" stroke="#22e8ff" stroke-width="1.32" stroke-linecap="round"/>
<line x1="489.51" y1="146.61" x2="492.25" y2="146.21" stroke="#ffcc22" stroke-width="1.32" stroke-linecap="round"/>
<line x1="492.25" y1="146.21" x2="495.90" y2="145.80" stroke="#c8ff30" stroke-width="1.12" stroke-linecap="round"/>
<line x1="493.47" y1="150.06" x2="496.00" y2="150.36" stroke="#22e8ff" stroke-width="1.01" stroke-linecap="round"/>
<line x1="505.33" y1="125.62" x2="508.38" y2="125.11" stroke="#22e8ff" stroke-width="1.22" stroke-linecap="round"/>
<line x1="502.19" y1="127.04" x2="504.52" y2="126.64" stroke="#c8ff30" stroke-width="1.12" stroke-linecap="round"/>
<text x="501.00" y="162.68" font-family="Liberation Sans" font-size="8.0" text-anchor="middle" fill="#111" font-weight="normal" >(BP) 1</text>
<text x="538.75" y="135.18" font-family="Liberation Sans" font-size="8.0" text-anchor="middle" fill="#111" font-weight="normal" >(BP) 2</text>
<text x="577.90" y="107.18" font-family="Liberation Sans" font-size="8.0" text-anchor="middle" fill="#111" font-weight="normal" >(BP) 3</text>
<text x="608.25" y="78.88" font-family="Liberation Sans" font-size="8.0" text-anchor="middle" fill="#111" font-weight="normal" >(BP) 4</text>
<text x="483.50" y="113.33" font-family="Liberation Sans" font-size="8.0" text-anchor="middle" fill="#111" font-weight="normal" >Pile 1-1</text>
<rect x="624.20" y="19.40" width="6.50" height="10.15" fill="#ff0000" stroke="#2a1a1a" stroke-width="0.45"/>
<rect x="624.20" y="29.55" width="6.50" height="10.15" fill="#ff4c00" stroke="#2a1a1a" stroke-width="0.45"/>
<rect x="624.20" y="39.70" width="6.50" height="10.15" fill="#ffc800" stroke="#2a1a1a" stroke-width="0.45"/>
<rect x="624.20" y="49.85" width="6.50" height="10.15" fill="#ffff00" stroke="#2a1a1a" stroke-width="0.45"/>
<rect x="624.20" y="60.00" width="6.50" height="10.15" fill="#99ff00" stroke="#2a1a1a" stroke-width="0.45"/>
<rect x="624.20" y="70.15" width="6.50" height="10.15" fill="#00ee00" stroke="#2a1a1a" stroke-width="0.45"/>
<rect x="624.20" y="80.30" width="6.50" height="10.15" fill="#00f030" stroke="#2a1a1a" stroke-width="0.45"/>
<rect x="624.20" y="90.45" width="6.50" height="10.15" fill="#00ffa0" stroke="#2a1a1a" stroke-width="0.45"/>
<rect x="624.20" y="100.60" width="6.50" height="10.15" fill="#00ffff" stroke="#2a1a1a" stroke-width="0.45"/>
<rect x="624.20" y="110.75" width="6.50" height="10.15" fill="#00c0ff" stroke="#2a1a1a" stroke-width="0.45"/>
<rect x="624.20" y="120.90" width="6.50" height="10.15" fill="#0050ff" stroke="#2a1a1a" stroke-width="0.45"/>
<rect x="624.20" y="131.05" width="6.50" height="10.15" fill="#0000ff" stroke="#2a1a1a" stroke-width="0.45"/>
<path d="M624.20,19.40H643.20M624.20,29.55H643.20M624.20,39.70H643.20M624.20,49.85H643.20M624.20,60.00H643.20M624.20,70.15H643.20M624.20,80.30H643.20M624.20,90.45H643.20M624.20,100.60H643.20M624.20,110.75H643.20M624.20,120.90H643.20M624.20,131.05H643.20M624.20,141.20H643.20" stroke="#8c8c8c" stroke-width="0.6" fill="none"/>
<text x="643.20" y="21.07" font-family="Liberation Mono" font-size="5.07" textLength="33.88" lengthAdjust="spacingAndGlyphs" fill="#2a2a2a" font-weight="normal">+1.02924e+003</text>
<text x="643.20" y="31.22" font-family="Liberation Mono" font-size="5.07" textLength="33.88" lengthAdjust="spacingAndGlyphs" fill="#2a2a2a" font-weight="normal">+8.57699e+002</text>
<text x="643.20" y="41.37" font-family="Liberation Mono" font-size="5.07" textLength="33.88" lengthAdjust="spacingAndGlyphs" fill="#2a2a2a" font-weight="normal">+6.86159e+002</text>
<text x="643.20" y="51.52" font-family="Liberation Mono" font-size="5.07" textLength="33.88" lengthAdjust="spacingAndGlyphs" fill="#2a2a2a" font-weight="normal">+5.14620e+002</text>
<text x="643.20" y="61.67" font-family="Liberation Mono" font-size="5.07" textLength="33.88" lengthAdjust="spacingAndGlyphs" fill="#2a2a2a" font-weight="normal">+3.43080e+002</text>
<text x="643.20" y="71.82" font-family="Liberation Mono" font-size="5.07" textLength="33.88" lengthAdjust="spacingAndGlyphs" fill="#2a2a2a" font-weight="normal">+1.71540e+002</text>
<text x="643.20" y="81.97" font-family="Liberation Mono" font-size="5.07" textLength="33.88" lengthAdjust="spacingAndGlyphs" fill="#2a2a2a" font-weight="normal">+0.00000e+000</text>
<text x="643.20" y="92.12" font-family="Liberation Mono" font-size="5.07" textLength="33.88" lengthAdjust="spacingAndGlyphs" fill="#2a2a2a" font-weight="normal">-1.71540e+002</text>
<text x="643.20" y="102.27" font-family="Liberation Mono" font-size="5.07" textLength="33.88" lengthAdjust="spacingAndGlyphs" fill="#2a2a2a" font-weight="normal">-3.43080e+002</text>
<text x="643.20" y="112.42" font-family="Liberation Mono" font-size="5.07" textLength="33.88" lengthAdjust="spacingAndGlyphs" fill="#2a2a2a" font-weight="normal">-5.14620e+002</text>
<text x="643.20" y="122.57" font-family="Liberation Mono" font-size="5.07" textLength="33.88" lengthAdjust="spacingAndGlyphs" fill="#2a2a2a" font-weight="normal">-6.86159e+002</text>
<text x="643.20" y="132.72" font-family="Liberation Mono" font-size="5.07" textLength="33.88" lengthAdjust="spacingAndGlyphs" fill="#2a2a2a" font-weight="normal">-8.57699e+002</text>
<text x="643.20" y="142.87" font-family="Liberation Mono" font-size="5.07" textLength="33.88" lengthAdjust="spacingAndGlyphs" fill="#2a2a2a" font-weight="normal">-1.02924e+003</text>
<text x="634.00" y="25.85" font-family="Liberation Mono" font-size="5.07" textLength="10.14" lengthAdjust="spacingAndGlyphs" fill="#e80000" font-weight="bold">0.0%</text>
<text x="634.00" y="36.00" font-family="Liberation Mono" font-size="5.07" textLength="10.14" lengthAdjust="spacingAndGlyphs" fill="#e80000" font-weight="bold">0.0%</text>
<text x="634.00" y="46.15" font-family="Liberation Mono" font-size="5.07" textLength="10.14" lengthAdjust="spacingAndGlyphs" fill="#e80000" font-weight="bold">0.2%</text>
<text x="634.00" y="56.30" font-family="Liberation Mono" font-size="5.07" textLength="10.14" lengthAdjust="spacingAndGlyphs" fill="#e80000" font-weight="bold">0.3%</text>
<text x="634.00" y="66.45" font-family="Liberation Mono" font-size="5.07" textLength="10.14" lengthAdjust="spacingAndGlyphs" fill="#e80000" font-weight="bold">4.9%</text>
<text x="634.00" y="76.60" font-family="Liberation Mono" font-size="5.07" textLength="12.68" lengthAdjust="spacingAndGlyphs" fill="#e80000" font-weight="bold">56.3%</text>
<text x="634.00" y="86.75" font-family="Liberation Mono" font-size="5.07" textLength="12.68" lengthAdjust="spacingAndGlyphs" fill="#e80000" font-weight="bold">32.9%</text>
<text x="634.00" y="96.90" font-family="Liberation Mono" font-size="5.07" textLength="10.14" lengthAdjust="spacingAndGlyphs" fill="#e80000" font-weight="bold">4.6%</text>
<text x="634.00" y="107.05" font-family="Liberation Mono" font-size="5.07" textLength="10.14" lengthAdjust="spacingAndGlyphs" fill="#e80000" font-weight="bold">0.5%</text>
<text x="634.00" y="117.20" font-family="Liberation Mono" font-size="5.07" textLength="10.14" lengthAdjust="spacingAndGlyphs" fill="#e80000" font-weight="bold">0.1%</text>
<text x="634.00" y="127.35" font-family="Liberation Mono" font-size="5.07" textLength="10.14" lengthAdjust="spacingAndGlyphs" fill="#e80000" font-weight="bold">0.0%</text>
<text x="634.00" y="137.50" font-family="Liberation Mono" font-size="5.07" textLength="10.14" lengthAdjust="spacingAndGlyphs" fill="#e80000" font-weight="bold">0.1%</text>
<text x="624.30" y="9.57" font-family="Liberation Mono" font-size="5.07" textLength="26.06" lengthAdjust="spacingAndGlyphs" fill="#111" font-weight="bold">BEAM FORCE</text>
<text x="624.30" y="14.57" font-family="Liberation Mono" font-size="5.07" textLength="54.73" lengthAdjust="spacingAndGlyphs" fill="#111" font-weight="bold">BENDING MMNT Z , kN*m</text>
<g transform="translate(659.3,175.9) scale(1.014)">
<line x1="0" y1="0" x2="0.2" y2="-10.5" stroke="#1010ee" stroke-width="1.6"/>
<path d="M0.3,-15.2 l-2.1,5.4 l4.2,0 Z" fill="#1010ee"/>
<line x1="0" y1="0" x2="-10.5" y2="-2.0" stroke="#10cc10" stroke-width="1.6"/>
<path d="M-15.2,-3.0 l5.4,-1.4 l-0.7,4.0 Z" fill="#10cc10"/>
<line x1="0" y1="0" x2="3.6" y2="-3" stroke="#ee1010" stroke-width="1.7"/>
<circle cx="4.1" cy="-3.5" r="1.6" fill="#ee1010"/>
<circle cx="0" cy="0" r="1.0" fill="#ddcc22"/>
<text x="1.50" y="-18.50" font-family="Liberation Sans" font-size="5.8" text-anchor="middle" fill="#3838ee" font-weight="normal" >Z</text>
<text x="-16.50" y="-2.40" font-family="Liberation Sans" font-size="5.6" text-anchor="middle" fill="#30cc30" font-weight="normal" >Y</text>
<text x="8.40" y="-6.60" font-family="Liberation Sans" font-size="5.4" text-anchor="middle" fill="#e04848" font-weight="normal" >X</text>
</g>
<text x="572.95" y="202.40" font-family="Liberation Serif" font-size="13.4" text-anchor="middle" fill="#111">(<tspan font-weight="bold">c</tspan>)</text>
</g>
<g id="panel-d">
<path d="M29.85,297.20 L52.98,300.90 L45.48,307.76 L20.87,304.43 Z M20.87,304.43 L20.87,312.35 L45.48,315.68 L45.48,307.76 M45.48,315.68 L52.98,308.82 L52.98,300.90" fill="none" stroke="#8a8ad0" stroke-width="0.6" stroke-linejoin="round"/>
<path d="M65.93,268.58 L89.06,272.28 L81.56,279.14 L56.95,275.81 Z M56.95,275.81 L56.95,283.73 L81.56,287.06 L81.56,279.14 M81.56,287.06 L89.06,280.20 L89.06,272.28" fill="none" stroke="#8a8ad0" stroke-width="0.6" stroke-linejoin="round"/>
<path d="M102.01,239.96 L125.14,243.66 L117.64,250.52 L93.03,247.19 Z M93.03,247.19 L93.03,255.11 L117.64,258.44 L117.64,250.52 M117.64,258.44 L125.14,251.58 L125.14,243.66" fill="none" stroke="#8a8ad0" stroke-width="0.6" stroke-linejoin="round"/>
<path d="M138.09,211.34 L161.22,215.04 L153.72,221.90 L129.11,218.57 Z M129.11,218.57 L129.11,226.49 L153.72,229.82 L153.72,221.90 M153.72,229.82 L161.22,222.96 L161.22,215.04" fill="none" stroke="#8a8ad0" stroke-width="0.6" stroke-linejoin="round"/>
<path d="M26.8,311.5L28.3,312.4M27.1,315.2L28.3,315.8M27.2,318.9L28.2,319.4M27.3,323.0L28.1,323.5M27.6,326.1L28.1,326.3M27.6,329.7L28.0,330.0M27.3,333.5L28.0,333.8M27.4,337.6L27.9,337.9M27.3,341.4L27.8,341.6M27.5,345.7L27.8,345.8M27.1,349.0L27.7,349.3M27.3,352.7L27.6,352.9M27.0,356.0L27.6,356.3M27.1,360.6L27.5,360.8M27.1,363.7L27.4,363.9M27.1,367.6L27.4,367.8M32.2,309.0L33.5,309.7M32.2,312.7L33.5,313.4M30.2,315.9L33.4,317.6M32.3,320.7L33.3,321.3M32.3,324.4L33.2,324.9M32.4,328.7L33.2,329.2M32.3,331.7L33.1,332.2M31.9,336.1L33.0,336.8M32.0,340.1L33.0,340.6M32.0,343.8L32.9,344.3M32.0,347.7L32.8,348.2M31.7,351.7L32.7,352.3M31.5,355.7L32.7,356.4M31.9,360.2L32.6,360.6M31.8,363.2L32.5,363.6M38.1,312.6L40.2,313.8M37.8,317.5L40.1,318.7M37.9,320.7L40.0,321.9M38.9,324.9L40.0,325.5M39.2,329.2L39.9,329.6M39.2,334.0L39.8,334.3M39.1,337.7L39.8,338.0M39.3,341.5L39.7,341.7M39.0,345.0L39.6,345.4M39.0,348.7L39.6,349.1M39.0,353.3L39.5,353.6M39.2,357.7L39.4,357.8M39.0,360.4L39.3,360.6M38.7,364.8L39.3,365.1M39.0,368.6L39.2,368.7M42.8,309.9L45.0,311.2M41.9,312.6L45.0,314.2M42.2,317.6L44.9,319.1M44.2,322.6L44.8,322.9M43.7,325.8L44.8,326.4M43.8,330.2L44.7,330.7M43.6,333.4L44.6,334.0M43.5,337.7L44.5,338.3M43.9,342.4L44.5,342.7M43.4,345.6L44.4,346.2M43.5,350.0L44.3,350.5M43.6,353.0L44.3,353.4M43.3,357.7L44.2,358.1M43.4,361.5L44.1,361.8M43.4,365.2L44.1,365.5" stroke="#b8ff30" stroke-width="1.1" fill="none"/>
<path d="M28.3,312.8L29.9,313.7M28.3,316.2L29.1,316.7M28.2,319.8L29.1,320.3M28.1,323.9L28.8,324.3M28.1,326.7L28.6,327.0M28.0,330.4L28.4,330.6M28.0,334.2L28.5,334.5M27.9,338.3L28.4,338.6M27.8,342.0L28.3,342.3M27.8,346.2L28.0,346.4M27.7,349.7L28.2,350.0M27.6,353.3L27.9,353.4M27.6,356.7L28.2,357.1M27.5,361.2L27.9,361.5M27.4,364.3L27.7,364.5M27.4,368.2L27.6,368.3M33.5,310.1L34.9,310.9M33.5,313.8L34.6,314.5M33.4,318.0L36.3,319.8M33.3,321.7L34.1,322.2M33.2,325.3L34.0,325.8M33.2,329.6L34.0,330.0M33.1,332.6L33.7,332.9M33.0,337.2L34.1,337.8M33.0,341.0L33.7,341.4M32.9,344.7L33.8,345.2M32.8,348.6L33.5,349.0M32.7,352.7L33.6,353.2M32.7,356.8L33.7,357.4M32.6,361.0L33.3,361.5M32.5,364.0L33.3,364.4M40.2,314.2L42.4,315.5M40.1,319.1L42.0,320.3M40.0,322.3L41.6,323.3M40.0,325.9L41.0,326.5M39.9,330.0L40.5,330.3M39.8,334.7L40.4,335.0M39.8,338.4L40.3,338.8M39.7,342.1L40.1,342.3M39.6,345.8L40.1,346.1M39.6,349.5L40.2,349.8M39.5,354.0L40.0,354.3M39.4,358.2L39.6,358.3M39.3,361.0L39.7,361.2M39.3,365.5L39.8,365.8M39.2,369.1L39.5,369.3M45.0,311.6L46.7,312.6M45.0,314.6L47.7,316.3M44.9,319.5L47.6,321.1M44.8,323.3L45.3,323.6M44.8,326.8L45.8,327.5M44.7,331.1L45.5,331.6M44.6,334.4L45.6,334.9M44.5,338.7L45.7,339.3M44.5,343.1L44.9,343.3M44.4,346.6L45.2,347.1M44.3,350.9L45.2,351.4M44.3,353.8L44.7,354.1M44.2,358.5L45.1,359.1M44.1,362.2L44.7,362.6M44.1,365.9L44.5,366.2" stroke="#30f8a0" stroke-width="1.1" fill="none"/>
<path d="M28.4,310.7L27.3,370.5M33.5,308.1L32.5,366.7M40.2,313.1L39.1,371.8M45.1,309.7L44.0,368.4" stroke="#40e040" stroke-width="0.95" fill="none"/>
<path d="M63.1,282.7L64.4,283.4M63.1,286.5L64.4,287.2M63.0,289.8L64.3,290.5M62.8,293.2L64.2,294.0M63.6,298.1L64.2,298.4M63.4,301.5L64.1,301.9M63.3,305.6L64.0,306.0M63.6,308.6L64.0,308.8M63.3,312.7L63.9,313.0M63.4,316.9L63.8,317.2M63.2,320.4L63.8,320.8M63.5,323.9L63.7,324.0M63.2,328.2L63.6,328.5M63.2,331.0L63.6,331.3M63.3,335.2L63.5,335.4M63.0,339.4L63.4,339.7M67.1,279.0L69.6,280.4M66.5,282.6L69.5,284.3M67.9,287.3L69.5,288.2M68.5,292.1L69.4,292.6M68.1,295.6L69.3,296.2M68.6,299.6L69.3,299.9M68.1,303.4L69.2,304.0M68.2,307.7L69.1,308.3M67.8,311.5L69.0,312.2M68.3,315.7L69.0,316.0M68.0,319.1L68.9,319.6M67.9,323.1L68.8,323.6M68.2,326.7L68.8,327.0M68.1,330.8L68.7,331.1M67.5,334.5L68.6,335.1M73.9,285.0L76.2,286.3M73.3,287.7L76.2,289.3M74.7,293.2L76.1,293.9M75.3,296.5L76.1,296.9M75.5,301.0L76.0,301.3M74.8,304.5L75.9,305.1M75.4,309.0L75.8,309.2M75.2,312.6L75.8,312.9M75.3,317.1L75.7,317.3M75.3,320.1L75.6,320.3M75.2,325.0L75.5,325.2M75.0,328.9L75.5,329.2M74.9,332.9L75.4,333.2M74.9,336.3L75.3,336.5M74.9,340.1L75.3,340.3M78.3,280.4L81.1,282.0M79.6,285.9L81.0,286.7M79.5,289.5L81.0,290.3M80.3,293.6L80.9,294.0M79.7,297.9L80.8,298.5M80.3,302.0L80.8,302.2M79.5,305.2L80.7,305.9M79.5,309.3L80.6,309.9M79.7,313.6L80.5,314.0M79.7,317.3L80.5,317.7M79.8,321.3L80.4,321.6M79.4,324.7L80.3,325.3M79.5,329.0L80.3,329.4M79.7,332.5L80.2,332.8M79.0,336.6L80.1,337.2" stroke="#b8ff30" stroke-width="1.1" fill="none"/>
<path d="M64.4,283.8L65.6,284.5M64.4,287.6L65.5,288.2M64.3,290.9L65.6,291.7M64.2,294.4L65.3,295.0M64.2,298.8L64.7,299.1M64.1,302.3L64.8,302.7M64.0,306.4L64.8,306.8M64.0,309.2L64.4,309.5M63.9,313.4L64.4,313.7M63.8,317.6L64.3,317.9M63.8,321.2L64.2,321.4M63.7,324.4L63.9,324.6M63.6,328.9L64.0,329.1M63.6,331.7L63.9,331.9M63.5,335.8L63.7,335.9M63.4,340.1L63.9,340.4M69.6,280.8L71.5,281.9M69.5,284.7L72.0,286.2M69.5,288.6L71.1,289.6M69.4,293.0L70.4,293.6M69.3,296.6L70.5,297.3M69.3,300.3L69.8,300.7M69.2,304.4L70.2,305.0M69.1,308.7L69.9,309.1M69.0,312.6L70.2,313.3M69.0,316.4L69.4,316.7M68.9,320.0L69.8,320.6M68.8,324.0L69.5,324.4M68.8,327.4L69.2,327.7M68.7,331.5L69.2,331.8M68.6,335.5L69.8,336.3M76.2,286.7L77.9,287.7M76.2,289.7L79.0,291.4M76.1,294.3L77.2,295.0M76.1,297.3L76.7,297.7M76.0,301.7L76.3,301.9M75.9,305.5L77.0,306.1M75.8,309.6L76.2,309.9M75.8,313.3L76.2,313.6M75.7,317.7L76.0,317.9M75.6,320.7L75.9,320.9M75.5,325.6L75.8,325.8M75.5,329.6L75.8,329.8M75.4,333.6L75.8,333.8M75.3,336.9L75.7,337.1M75.3,340.7L75.7,340.9M81.1,282.4L83.9,284.1M81.0,287.1L82.5,287.9M81.0,290.7L82.6,291.6M80.9,294.4L81.4,294.6M80.8,298.9L81.7,299.4M80.8,302.6L81.2,302.9M80.7,306.3L81.9,307.0M80.6,310.3L81.6,310.9M80.5,314.4L81.3,314.9M80.5,318.1L81.3,318.6M80.4,322.0L80.9,322.3M80.3,325.7L81.0,326.1M80.3,329.8L81.0,330.3M80.2,333.2L80.6,333.4M80.1,337.6L81.1,338.2" stroke="#30f8a0" stroke-width="1.1" fill="none"/>
<path d="M64.5,282.1L63.4,341.9M69.6,279.5L68.6,338.1M76.3,284.5L75.2,343.1M81.1,281.0L80.1,339.8" stroke="#40e040" stroke-width="0.95" fill="none"/>
<path d="M99.4,254.4L100.5,255.0M98.6,257.2L100.4,258.2M98.6,260.6L100.4,261.6M99.9,265.6L100.3,265.8M99.7,269.4L100.2,269.7M99.6,273.0L100.2,273.3M99.5,276.7L100.1,277.0M99.7,281.1L100.0,281.3M99.5,284.4L100.0,284.7M99.5,288.5L99.9,288.7M99.6,291.9L99.8,292.1M99.6,295.1L99.8,295.2M99.2,299.5L99.7,299.8M99.2,303.2L99.6,303.5M99.3,307.3L99.6,307.4M99.3,310.6L99.5,310.7M103.9,251.2L105.7,252.2M103.0,254.5L105.6,255.9M103.4,259.1L105.5,260.2M104.8,263.7L105.5,264.0M104.4,267.6L105.4,268.1M104.1,271.3L105.3,271.9M104.4,274.7L105.3,275.2M104.1,278.2L105.2,278.8M104.0,282.5L105.1,283.1M103.9,287.0L105.0,287.6M104.2,290.2L105.0,290.6M104.3,294.7L104.9,295.0M104.1,298.4L104.8,298.8M103.6,302.2L104.8,302.8M103.7,306.2L104.7,306.8M111.0,256.4L112.3,257.1M109.6,259.5L112.3,261.0M109.6,263.2L112.2,264.7M111.3,268.0L112.1,268.5M111.0,272.6L112.0,273.2M110.9,276.6L112.0,277.2M111.1,280.3L111.9,280.7M111.6,284.5L111.8,284.7M111.2,288.0L111.8,288.3M111.3,291.7L111.7,292.0M111.4,295.9L111.6,296.0M111.2,299.5L111.6,299.7M111.2,304.4L111.5,304.5M111.1,307.8L111.4,308.0M111.1,311.2L111.4,311.4M116.0,253.1L117.2,253.8M115.8,257.0L117.1,257.7M115.3,260.0L117.1,261.0M115.9,264.5L117.0,265.1M116.2,269.1L116.9,269.6M115.9,272.6L116.8,273.1M116.1,276.2L116.8,276.6M115.5,280.6L116.7,281.3M115.8,284.3L116.6,284.7M115.7,288.6L116.6,289.1M115.5,292.7L116.5,293.2M115.9,296.8L116.4,297.1M115.6,299.8L116.4,300.2M115.6,304.5L116.3,304.9M115.0,308.3L116.2,309.0" stroke="#b8ff30" stroke-width="1.1" fill="none"/>
<path d="M100.5,255.4L101.3,255.9M100.4,258.6L102.3,259.7M100.4,262.0L101.9,262.9M100.3,266.2L100.6,266.4M100.2,270.1L100.8,270.4M100.2,273.7L100.6,273.9M100.1,277.4L100.6,277.8M100.0,281.7L100.4,281.9M100.0,285.1L100.4,285.3M99.9,289.1L100.2,289.3M99.8,292.5L100.0,292.6M99.8,295.6L100.0,295.8M99.7,300.2L100.2,300.5M99.6,303.9L100.1,304.1M99.6,307.8L99.8,307.9M99.5,311.1L99.7,311.2M105.7,252.6L107.5,253.7M105.6,256.3L108.0,257.7M105.5,260.6L107.1,261.6M105.5,264.4L106.1,264.8M105.4,268.5L106.2,269.0M105.3,272.3L106.4,273.0M105.3,275.6L106.0,276.0M105.2,279.2L106.3,279.9M105.1,283.5L106.0,284.1M105.0,288.0L106.1,288.6M105.0,291.0L105.6,291.4M104.9,295.4L105.4,295.8M104.8,299.2L105.5,299.6M104.8,303.2L105.8,303.9M104.7,307.2L105.5,307.7M112.3,257.5L113.5,258.2M112.3,261.4L115.2,263.1M112.2,265.1L114.4,266.4M112.1,268.9L112.8,269.3M112.0,273.6L112.8,274.1M112.0,277.6L112.8,278.1M111.9,281.1L112.5,281.5M111.8,285.1L112.0,285.2M111.8,288.7L112.3,289.1M111.7,292.4L112.1,292.6M111.6,296.4L111.9,296.6M111.6,300.1L111.8,300.3M111.5,304.9L111.7,305.1M111.4,308.4L111.8,308.6M111.4,311.8L111.6,311.9M117.2,254.2L118.3,254.9M117.1,258.1L118.6,259.0M117.1,261.4L118.9,262.5M117.0,265.5L118.1,266.1M116.9,270.0L117.5,270.3M116.8,273.5L117.5,273.9M116.8,277.0L117.3,277.3M116.7,281.7L117.8,282.4M116.6,285.1L117.5,285.6M116.6,289.5L117.4,290.0M116.5,293.6L117.2,294.1M116.4,297.5L116.8,297.7M116.4,300.6L117.1,301.0M116.3,305.3L117.0,305.7M116.2,309.4L117.4,310.1" stroke="#30f8a0" stroke-width="1.1" fill="none"/>
<path d="M100.5,253.5L99.5,313.2M105.7,250.8L104.6,309.4M112.4,255.9L111.3,314.5M117.2,252.4L116.2,311.1" stroke="#40e040" stroke-width="0.95" fill="none"/>
<line x1="114.15" y1="303.32" x2="117.15" y2="305.32" stroke="#eeff33" stroke-width="1"/>
<line x1="114.65" y1="306.82" x2="118.65" y2="309.82" stroke="#33eeff" stroke-width="1"/>
<line x1="113.15" y1="306.32" x2="115.65" y2="304.82" stroke="#ccff33" stroke-width="1"/>
<path d="M135.1,225.2L136.6,226.1M135.4,228.9L136.5,229.6M134.1,231.7L136.5,233.0M135.4,236.2L136.4,236.7M135.6,240.0L136.3,240.4M135.7,244.5L136.3,244.8M135.6,248.5L136.2,248.8M135.6,252.1L136.1,252.3M135.7,255.8L136.1,255.9M135.7,258.9L136.0,259.1M135.7,263.6L135.9,263.7M135.6,266.9L135.9,267.0M135.5,270.7L135.8,270.9M135.3,273.8L135.7,274.1M135.3,278.3L135.7,278.5M135.1,281.4L135.6,281.7M139.2,221.4L141.8,222.8M139.6,226.5L141.7,227.6M138.9,229.8L141.6,231.3M140.4,234.2L141.6,234.8M140.5,237.9L141.5,238.5M140.2,242.7L141.4,243.4M140.7,247.0L141.3,247.4M140.8,250.2L141.3,250.5M140.3,253.7L141.2,254.2M140.7,258.6L141.1,258.9M140.5,261.8L141.1,262.1M140.5,266.1L141.0,266.4M139.8,269.1L140.9,269.7M139.8,273.5L140.9,274.1M139.7,277.3L140.8,277.9M146.5,227.0L148.4,228.0M146.8,231.6L148.3,232.4M146.5,235.8L148.3,236.7M147.4,239.5L148.2,239.9M147.3,243.8L148.1,244.3M147.2,247.2L148.1,247.7M147.0,251.1L148.0,251.7M147.6,256.1L147.9,256.2M147.6,259.6L147.9,259.8M147.3,263.4L147.8,263.7M147.3,267.3L147.7,267.6M147.3,271.8L147.6,271.9M147.3,275.1L147.6,275.2M146.9,279.3L147.5,279.6M146.8,283.1L147.4,283.4M150.4,223.2L153.3,224.8M150.9,228.1L153.2,229.3M151.5,232.2L153.1,233.1M152.0,235.6L153.1,236.2M152.0,239.5L153.0,240.1M152.4,244.8L152.9,245.1M151.8,247.5L152.9,248.1M152.2,252.6L152.8,252.9M152.2,256.1L152.7,256.3M151.6,259.9L152.6,260.5M151.8,263.2L152.6,263.6M151.3,267.2L152.5,267.9M152.0,271.9L152.4,272.1M151.8,275.9L152.4,276.2M151.7,279.2L152.3,279.5" stroke="#b8ff30" stroke-width="1.1" fill="none"/>
<path d="M136.6,226.5L137.8,227.2M136.5,230.0L137.5,230.6M136.5,233.4L138.5,234.6M136.4,237.1L137.3,237.7M136.3,240.8L137.0,241.2M136.3,245.2L136.7,245.5M136.2,249.2L136.8,249.6M136.1,252.7L136.6,253.0M136.1,256.3L136.4,256.5M136.0,259.5L136.3,259.7M135.9,264.1L136.1,264.2M135.9,267.4L136.2,267.6M135.8,271.3L136.1,271.5M135.7,274.5L136.2,274.7M135.7,278.9L136.0,279.1M135.6,282.1L136.0,282.4M141.8,223.2L144.3,224.7M141.7,228.0L143.7,229.3M141.6,231.7L143.8,233.1M141.6,235.2L142.5,235.7M141.5,238.9L142.5,239.5M141.4,243.8L142.3,244.3M141.3,247.8L141.8,248.1M141.3,250.9L141.6,251.1M141.2,254.6L141.9,255.0M141.1,259.3L141.5,259.5M141.1,262.5L141.4,262.7M141.0,266.8L141.4,267.0M140.9,270.1L141.8,270.6M140.9,274.5L141.7,275.0M140.8,278.3L141.9,279.0M148.4,228.4L150.5,229.6M148.3,232.8L149.5,233.5M148.3,237.1L149.6,238.0M148.2,240.3L149.1,240.8M148.1,244.7L148.8,245.1M148.1,248.1L148.8,248.5M148.0,252.1L149.0,252.7M147.9,256.6L148.2,256.8M147.9,260.2L148.1,260.3M147.8,264.1L148.1,264.3M147.7,268.0L148.2,268.3M147.6,272.3L148.0,272.5M147.6,275.6L147.8,275.8M147.5,280.0L147.9,280.3M147.4,283.8L148.1,284.3M153.3,225.2L155.4,226.5M153.2,229.7L155.4,231.1M153.1,233.5L154.4,234.3M153.1,236.6L153.8,237.0M153.0,240.5L153.9,241.0M152.9,245.5L153.4,245.8M152.9,248.5L154.1,249.2M152.8,253.3L153.3,253.6M152.7,256.7L153.2,257.0M152.6,260.9L153.6,261.4M152.6,264.0L153.2,264.4M152.5,268.3L153.7,269.0M152.4,272.5L152.8,272.7M152.4,276.6L152.8,276.8M152.3,279.9L152.8,280.2" stroke="#30f8a0" stroke-width="1.1" fill="none"/>
<path d="M136.6,224.9L135.6,284.6M141.8,222.2L140.7,280.8M148.4,227.3L147.4,285.9M153.3,223.8L152.2,282.5" stroke="#40e040" stroke-width="0.95" fill="none"/>
<line x1="28.04" y1="335.32" x2="32.16" y2="334.69" stroke="#22e8ff" stroke-width="1.27" stroke-linecap="round"/>
<line x1="23.61" y1="337.75" x2="26.04" y2="337.12" stroke="#ffcc22" stroke-width="1.27" stroke-linecap="round"/>
<line x1="26.04" y1="337.12" x2="28.57" y2="336.69" stroke="#c8ff30" stroke-width="1.16" stroke-linecap="round"/>
<line x1="28.25" y1="339.33" x2="33.22" y2="339.02" stroke="#22e8ff" stroke-width="1.58" stroke-linecap="round"/>
<line x1="22.45" y1="341.97" x2="25.61" y2="341.45" stroke="#ffcc22" stroke-width="1.37" stroke-linecap="round"/>
<line x1="25.61" y1="341.45" x2="28.99" y2="341.24" stroke="#c8ff30" stroke-width="1.16" stroke-linecap="round"/>
<line x1="30.37" y1="343.03" x2="32.80" y2="342.61" stroke="#40ee60" stroke-width="1.06" stroke-linecap="round"/>
<line x1="29.21" y1="347.25" x2="35.96" y2="347.36" stroke="#1515ee" stroke-width="1.48" stroke-linecap="round"/>
<line x1="20.12" y1="348.84" x2="22.45" y2="349.05" stroke="#ee1515" stroke-width="1.37" stroke-linecap="round"/>
<line x1="22.45" y1="349.05" x2="24.56" y2="349.37" stroke="#ff8a18" stroke-width="1.32" stroke-linecap="round"/>
<line x1="24.56" y1="349.37" x2="26.46" y2="349.79" stroke="#ffe020" stroke-width="1.27" stroke-linecap="round"/>
<line x1="26.46" y1="349.79" x2="28.15" y2="350.21" stroke="#c8ff30" stroke-width="1.16" stroke-linecap="round"/>
<line x1="23.61" y1="354.01" x2="26.25" y2="354.86" stroke="#ffcc22" stroke-width="1.37" stroke-linecap="round"/>
<line x1="27.94" y1="355.07" x2="30.47" y2="355.28" stroke="#22e8ff" stroke-width="1.06" stroke-linecap="round"/>
<line x1="27.52" y1="358.66" x2="32.37" y2="358.76" stroke="#22e8ff" stroke-width="1.37" stroke-linecap="round"/>
<line x1="23.61" y1="362.14" x2="26.46" y2="361.72" stroke="#ffcc22" stroke-width="1.37" stroke-linecap="round"/>
<line x1="26.46" y1="361.72" x2="30.26" y2="361.30" stroke="#c8ff30" stroke-width="1.16" stroke-linecap="round"/>
<line x1="27.73" y1="365.73" x2="30.37" y2="366.05" stroke="#22e8ff" stroke-width="1.06" stroke-linecap="round"/>
<line x1="40.08" y1="340.28" x2="43.25" y2="339.76" stroke="#22e8ff" stroke-width="1.27" stroke-linecap="round"/>
<line x1="36.81" y1="341.76" x2="39.24" y2="341.34" stroke="#c8ff30" stroke-width="1.16" stroke-linecap="round"/>
<text x="28.10" y="384.81" font-family="Liberation Sans" font-size="8.35" text-anchor="middle" fill="#111" font-weight="normal" >(BP) 1</text>
<text x="78.75" y="351.56" font-family="Liberation Sans" font-size="8.35" text-anchor="middle" fill="#111" font-weight="normal" >(BP) 2</text>
<text x="112.10" y="324.06" font-family="Liberation Sans" font-size="8.35" text-anchor="middle" fill="#111" font-weight="normal" >(BP) 3</text>
<text x="146.00" y="293.31" font-family="Liberation Sans" font-size="8.35" text-anchor="middle" fill="#111" font-weight="normal" >(BP) 4</text>
<text x="16.25" y="331.21" font-family="Liberation Sans" font-size="8.35" text-anchor="middle" fill="#111" font-weight="normal" >Pile 1-1</text>
<rect x="162.80" y="230.10" width="6.90" height="10.58" fill="#ff0000" stroke="#2a1a1a" stroke-width="0.45"/>
<rect x="162.80" y="240.68" width="6.90" height="10.58" fill="#ff4c00" stroke="#2a1a1a" stroke-width="0.45"/>
<rect x="162.80" y="251.26" width="6.90" height="10.58" fill="#ffc800" stroke="#2a1a1a" stroke-width="0.45"/>
<rect x="162.80" y="261.84" width="6.90" height="10.58" fill="#ffff00" stroke="#2a1a1a" stroke-width="0.45"/>
<rect x="162.80" y="272.42" width="6.90" height="10.58" fill="#99ff00" stroke="#2a1a1a" stroke-width="0.45"/>
<rect x="162.80" y="283.00" width="6.90" height="10.58" fill="#00ee00" stroke="#2a1a1a" stroke-width="0.45"/>
<rect x="162.80" y="293.58" width="6.90" height="10.58" fill="#00f030" stroke="#2a1a1a" stroke-width="0.45"/>
<rect x="162.80" y="304.16" width="6.90" height="10.58" fill="#00ffa0" stroke="#2a1a1a" stroke-width="0.45"/>
<rect x="162.80" y="314.74" width="6.90" height="10.58" fill="#00ffff" stroke="#2a1a1a" stroke-width="0.45"/>
<rect x="162.80" y="325.32" width="6.90" height="10.58" fill="#00c0ff" stroke="#2a1a1a" stroke-width="0.45"/>
<rect x="162.80" y="335.90" width="6.90" height="10.58" fill="#0050ff" stroke="#2a1a1a" stroke-width="0.45"/>
<rect x="162.80" y="346.48" width="6.90" height="10.58" fill="#0000ff" stroke="#2a1a1a" stroke-width="0.45"/>
<path d="M162.80,230.10H182.60M162.80,240.68H182.60M162.80,251.26H182.60M162.80,261.84H182.60M162.80,272.42H182.60M162.80,283.00H182.60M162.80,293.58H182.60M162.80,304.16H182.60M162.80,314.74H182.60M162.80,325.32H182.60M162.80,335.90H182.60M162.80,346.48H182.60M162.80,357.06H182.60" stroke="#8c8c8c" stroke-width="0.6" fill="none"/>
<text x="182.60" y="231.84" font-family="Liberation Mono" font-size="5.28" textLength="35.28" lengthAdjust="spacingAndGlyphs" fill="#2a2a2a" font-weight="normal">+1.07183e+003</text>
<text x="182.60" y="242.42" font-family="Liberation Mono" font-size="5.28" textLength="35.28" lengthAdjust="spacingAndGlyphs" fill="#2a2a2a" font-weight="normal">+8.93189e+002</text>
<text x="182.60" y="253.00" font-family="Liberation Mono" font-size="5.28" textLength="35.28" lengthAdjust="spacingAndGlyphs" fill="#2a2a2a" font-weight="normal">+7.14551e+002</text>
<text x="182.60" y="263.58" font-family="Liberation Mono" font-size="5.28" textLength="35.28" lengthAdjust="spacingAndGlyphs" fill="#2a2a2a" font-weight="normal">+5.35913e+002</text>
<text x="182.60" y="274.16" font-family="Liberation Mono" font-size="5.28" textLength="35.28" lengthAdjust="spacingAndGlyphs" fill="#2a2a2a" font-weight="normal">+3.57275e+002</text>
<text x="182.60" y="284.74" font-family="Liberation Mono" font-size="5.28" textLength="35.28" lengthAdjust="spacingAndGlyphs" fill="#2a2a2a" font-weight="normal">+1.78638e+002</text>
<text x="182.60" y="295.32" font-family="Liberation Mono" font-size="5.28" textLength="35.28" lengthAdjust="spacingAndGlyphs" fill="#2a2a2a" font-weight="normal">+0.00000e+000</text>
<text x="182.60" y="305.90" font-family="Liberation Mono" font-size="5.28" textLength="35.28" lengthAdjust="spacingAndGlyphs" fill="#2a2a2a" font-weight="normal">-1.78638e+002</text>
<text x="182.60" y="316.48" font-family="Liberation Mono" font-size="5.28" textLength="35.28" lengthAdjust="spacingAndGlyphs" fill="#2a2a2a" font-weight="normal">-3.57275e+002</text>
<text x="182.60" y="327.06" font-family="Liberation Mono" font-size="5.28" textLength="35.28" lengthAdjust="spacingAndGlyphs" fill="#2a2a2a" font-weight="normal">-5.35913e+002</text>
<text x="182.60" y="337.64" font-family="Liberation Mono" font-size="5.28" textLength="35.28" lengthAdjust="spacingAndGlyphs" fill="#2a2a2a" font-weight="normal">-7.14551e+002</text>
<text x="182.60" y="348.22" font-family="Liberation Mono" font-size="5.28" textLength="35.28" lengthAdjust="spacingAndGlyphs" fill="#2a2a2a" font-weight="normal">-8.93189e+002</text>
<text x="182.60" y="358.80" font-family="Liberation Mono" font-size="5.28" textLength="35.28" lengthAdjust="spacingAndGlyphs" fill="#2a2a2a" font-weight="normal">-1.07183e+003</text>
<text x="173.20" y="236.83" font-family="Liberation Mono" font-size="5.28" textLength="10.56" lengthAdjust="spacingAndGlyphs" fill="#e80000" font-weight="bold">0.0%</text>
<text x="173.20" y="247.41" font-family="Liberation Mono" font-size="5.28" textLength="10.56" lengthAdjust="spacingAndGlyphs" fill="#e80000" font-weight="bold">0.0%</text>
<text x="173.20" y="257.99" font-family="Liberation Mono" font-size="5.28" textLength="10.56" lengthAdjust="spacingAndGlyphs" fill="#e80000" font-weight="bold">0.2%</text>
<text x="173.20" y="268.57" font-family="Liberation Mono" font-size="5.28" textLength="10.56" lengthAdjust="spacingAndGlyphs" fill="#e80000" font-weight="bold">0.3%</text>
<text x="173.20" y="279.15" font-family="Liberation Mono" font-size="5.28" textLength="10.56" lengthAdjust="spacingAndGlyphs" fill="#e80000" font-weight="bold">4.6%</text>
<text x="173.20" y="289.73" font-family="Liberation Mono" font-size="5.28" textLength="13.20" lengthAdjust="spacingAndGlyphs" fill="#e80000" font-weight="bold">56.5%</text>
<text x="173.20" y="300.31" font-family="Liberation Mono" font-size="5.28" textLength="13.20" lengthAdjust="spacingAndGlyphs" fill="#e80000" font-weight="bold">33.2%</text>
<text x="173.20" y="310.89" font-family="Liberation Mono" font-size="5.28" textLength="10.56" lengthAdjust="spacingAndGlyphs" fill="#e80000" font-weight="bold">4.3%</text>
<text x="173.20" y="321.47" font-family="Liberation Mono" font-size="5.28" textLength="10.56" lengthAdjust="spacingAndGlyphs" fill="#e80000" font-weight="bold">0.5%</text>
<text x="173.20" y="332.05" font-family="Liberation Mono" font-size="5.28" textLength="10.56" lengthAdjust="spacingAndGlyphs" fill="#e80000" font-weight="bold">0.1%</text>
<text x="173.20" y="342.63" font-family="Liberation Mono" font-size="5.28" textLength="10.56" lengthAdjust="spacingAndGlyphs" fill="#e80000" font-weight="bold">0.0%</text>
<text x="173.20" y="353.21" font-family="Liberation Mono" font-size="5.28" textLength="10.56" lengthAdjust="spacingAndGlyphs" fill="#e80000" font-weight="bold">0.1%</text>
<text x="163.10" y="220.44" font-family="Liberation Mono" font-size="5.28" textLength="27.14" lengthAdjust="spacingAndGlyphs" fill="#111" font-weight="bold">BEAM FORCE</text>
<text x="163.10" y="225.74" font-family="Liberation Mono" font-size="5.28" textLength="56.99" lengthAdjust="spacingAndGlyphs" fill="#111" font-weight="bold">BENDING MMNT Z , kN*m</text>
<g transform="translate(199.4,393.5) scale(1.056)">
<line x1="0" y1="0" x2="0.2" y2="-10.5" stroke="#1010ee" stroke-width="1.6"/>
<path d="M0.3,-15.2 l-2.1,5.4 l4.2,0 Z" fill="#1010ee"/>
<line x1="0" y1="0" x2="-10.5" y2="-2.0" stroke="#10cc10" stroke-width="1.6"/>
<path d="M-15.2,-3.0 l5.4,-1.4 l-0.7,4.0 Z" fill="#10cc10"/>
<line x1="0" y1="0" x2="3.6" y2="-3" stroke="#ee1010" stroke-width="1.7"/>
<circle cx="4.1" cy="-3.5" r="1.6" fill="#ee1010"/>
<circle cx="0" cy="0" r="1.0" fill="#ddcc22"/>
<text x="1.50" y="-18.50" font-family="Liberation Sans" font-size="5.8" text-anchor="middle" fill="#3838ee" font-weight="normal" >Z</text>
<text x="-16.50" y="-2.40" font-family="Liberation Sans" font-size="5.6" text-anchor="middle" fill="#30cc30" font-weight="normal" >Y</text>
<text x="8.40" y="-6.60" font-family="Liberation Sans" font-size="5.4" text-anchor="middle" fill="#e04848" font-weight="normal" >X</text>
</g>
<text x="111.70" y="410.00" font-family="Liberation Serif" font-size="13.4" text-anchor="middle" fill="#111">(<tspan font-weight="bold">d</tspan>)</text>
</g>
<g id="panel-e">
<path d="M266.25,294.60 L288.70,298.19 L281.42,304.85 L257.54,301.62 Z M257.54,301.62 L257.54,309.31 L281.42,312.54 L281.42,304.85 M281.42,312.54 L288.70,305.88 L288.70,298.19" fill="none" stroke="#8a8ad0" stroke-width="0.6" stroke-linejoin="round"/>
<path d="M301.45,266.30 L323.90,269.89 L316.62,276.55 L292.74,273.32 Z M292.74,273.32 L292.74,281.01 L316.62,284.24 L316.62,276.55 M316.62,284.24 L323.90,277.57 L323.90,269.89" fill="none" stroke="#8a8ad0" stroke-width="0.6" stroke-linejoin="round"/>
<path d="M336.65,238.00 L359.10,241.59 L351.82,248.25 L327.94,245.02 Z M327.94,245.02 L327.94,252.71 L351.82,255.94 L351.82,248.25 M351.82,255.94 L359.10,249.28 L359.10,241.59" fill="none" stroke="#8a8ad0" stroke-width="0.6" stroke-linejoin="round"/>
<path d="M371.85,209.70 L394.30,213.29 L387.02,219.95 L363.14,216.72 Z M363.14,216.72 L363.14,224.41 L387.02,227.64 L387.02,219.95 M387.02,227.64 L394.30,220.98 L394.30,213.29" fill="none" stroke="#8a8ad0" stroke-width="0.6" stroke-linejoin="round"/>
<path d="M262.7,308.3L264.8,309.4M263.4,311.7L264.7,312.4M263.8,316.5L264.7,317.0M264.2,320.7L264.6,320.9M263.8,323.8L264.5,324.2M263.9,328.0L264.5,328.3M263.7,331.8L264.4,332.2M263.9,335.7L264.3,335.9M263.9,339.2L264.3,339.5M263.7,343.5L264.2,343.8M263.8,347.1L264.1,347.3M263.5,350.9L264.0,351.3M263.8,355.6L264.0,355.7M263.5,359.3L263.9,359.5M263.3,363.2L263.8,363.5M268.7,305.7L269.8,306.3M268.4,308.9L269.8,309.7M268.3,312.6L269.7,313.4M269.0,317.7L269.6,318.0M268.5,321.1L269.5,321.6M268.6,324.8L269.5,325.3M268.3,328.2L269.4,328.8M268.2,332.6L269.3,333.3M268.4,336.2L269.3,336.7M268.7,340.3L269.2,340.5M268.3,343.4L269.1,343.9M268.2,347.1L269.1,347.6M268.1,351.7L269.0,352.2M267.7,355.0L268.9,355.7M268.4,359.5L268.9,359.8M275.0,310.2L276.3,310.9M275.1,314.0L276.2,314.6M274.7,317.7L276.1,318.5M275.5,321.8L276.1,322.1M275.4,326.1L276.0,326.4M275.4,329.6L275.9,329.9M274.8,332.9L275.9,333.5M275.3,337.4L275.8,337.6M275.3,341.3L275.7,341.5M275.1,344.9L275.7,345.2M275.0,348.5L275.6,348.9M275.0,352.5L275.5,352.8M275.2,356.5L275.5,356.7M275.1,360.3L275.4,360.4M275.1,364.6L275.3,364.7M278.3,306.0L281.0,307.5M278.5,310.5L280.9,311.8M279.5,314.6L280.9,315.4M280.1,318.8L280.8,319.2M280.2,323.1L280.7,323.4M280.0,326.3L280.7,326.6M279.4,329.9L280.6,330.5M279.6,334.4L280.5,335.0M279.9,338.0L280.4,338.3M279.2,341.0L280.4,341.6M279.7,345.9L280.3,346.3M279.2,348.7L280.2,349.3M279.3,353.2L280.2,353.7M279.7,356.7L280.1,356.9M279.0,360.0L280.0,360.6" stroke="#b8ff30" stroke-width="1.1" fill="none"/>
<path d="M264.8,309.8L266.9,311.1M264.7,312.8L266.0,313.6M264.7,317.4L265.3,317.8M264.6,321.3L265.0,321.6M264.5,324.6L265.3,325.0M264.5,328.7L264.9,329.0M264.4,332.6L265.0,333.0M264.3,336.3L264.6,336.5M264.3,339.9L264.5,340.0M264.2,344.2L264.7,344.5M264.1,347.7L264.5,347.9M264.0,351.7L264.5,351.9M264.0,356.1L264.2,356.2M263.9,359.9L264.3,360.1M263.8,363.9L264.3,364.2M269.8,306.7L270.8,307.3M269.8,310.1L271.1,310.9M269.7,313.8L270.7,314.4M269.6,318.4L270.1,318.7M269.5,322.0L270.5,322.6M269.5,325.7L270.3,326.2M269.4,329.2L270.5,329.9M269.3,333.7L270.5,334.4M269.3,337.1L270.1,337.6M269.2,340.9L269.7,341.2M269.1,344.3L269.9,344.7M269.1,348.0L269.9,348.5M269.0,352.6L269.7,353.0M268.9,356.1L270.1,356.8M268.9,360.2L269.3,360.4M276.3,311.3L277.3,311.9M276.2,315.0L277.1,315.6M276.1,318.9L277.6,319.8M276.1,322.5L276.5,322.7M276.0,326.8L276.5,327.1M275.9,330.3L276.4,330.6M275.9,333.9L276.8,334.5M275.8,338.0L276.3,338.3M275.7,341.9L276.0,342.1M275.7,345.6L276.2,345.9M275.6,349.3L276.1,349.6M275.5,353.2L276.1,353.5M275.5,357.1L275.7,357.2M275.4,360.8L275.6,361.0M275.3,365.1L275.5,365.3M281.0,307.9L283.2,309.2M280.9,312.2L282.6,313.3M280.9,315.8L282.2,316.6M280.8,319.6L281.5,320.1M280.7,323.8L281.1,324.0M280.7,327.0L281.2,327.4M280.6,330.9L281.8,331.7M280.5,335.4L281.2,335.8M280.4,338.7L281.0,339.0M280.4,342.0L281.3,342.6M280.3,346.7L280.8,347.0M280.2,349.7L281.4,350.4M280.2,354.1L280.8,354.5M280.1,357.3L280.6,357.6M280.0,361.0L280.7,361.4" stroke="#30f8a0" stroke-width="1.1" fill="none"/>
<path d="M264.8,307.7L263.8,365.7M269.8,305.2L268.8,362.0M276.3,310.1L275.3,367.0M281.0,306.7L280.0,363.7" stroke="#40e040" stroke-width="0.95" fill="none"/>
<path d="M298.3,279.4L300.0,280.3M297.8,282.8L299.9,283.9M298.0,286.7L299.9,287.7M299.4,292.0L299.8,292.2M299.2,295.9L299.7,296.2M298.9,299.8L299.6,300.2M298.9,304.0L299.6,304.3M299.1,307.0L299.5,307.2M299.1,311.8L299.4,312.0M299.0,315.6L299.4,315.8M299.0,319.0L299.3,319.2M299.0,323.4L299.2,323.5M298.7,327.2L299.2,327.5M298.6,330.4L299.1,330.7M298.6,334.9L299.0,335.1M303.9,276.9L305.0,277.6M302.9,280.1L305.0,281.3M302.2,284.2L304.9,285.7M304.2,289.5L304.8,289.9M304.0,293.3L304.7,293.6M304.1,296.6L304.7,296.9M304.2,300.3L304.6,300.6M303.9,304.0L304.5,304.4M303.4,307.2L304.5,307.8M303.7,311.2L304.4,311.7M303.7,315.0L304.3,315.4M303.7,319.5L304.3,319.8M303.0,322.7L304.2,323.4M303.7,326.7L304.1,327.0M303.2,330.2L304.1,330.7M310.1,282.4L311.5,283.2M309.8,286.4L311.4,287.3M308.6,288.7L311.3,290.1M310.5,293.9L311.3,294.3M310.3,297.3L311.2,297.8M310.1,301.3L311.1,301.9M310.1,305.1L311.1,305.6M310.4,309.5L311.0,309.8M310.5,312.7L310.9,312.9M310.5,316.5L310.9,316.7M310.5,321.1L310.8,321.3M310.2,324.5L310.7,324.8M310.1,328.4L310.6,328.7M310.1,331.4L310.6,331.7M310.0,336.2L310.5,336.5M314.5,278.3L316.2,279.2M314.6,282.3L316.1,283.1M314.0,285.7L316.1,286.9M315.5,291.0L316.0,291.3M315.2,294.9L315.9,295.3M314.8,298.1L315.8,298.7M315.1,301.5L315.8,301.9M315.2,305.4L315.7,305.7M314.8,310.0L315.6,310.4M314.9,313.9L315.6,314.3M315.1,316.9L315.5,317.1M314.2,320.7L315.4,321.4M314.7,324.2L315.4,324.6M314.8,328.3L315.3,328.5M314.0,332.5L315.2,333.1" stroke="#b8ff30" stroke-width="1.1" fill="none"/>
<path d="M300.0,280.7L301.3,281.5M299.9,284.3L301.7,285.4M299.9,288.1L301.9,289.4M299.8,292.6L300.1,292.8M299.7,296.6L300.1,296.8M299.6,300.6L300.4,301.0M299.6,304.7L300.3,305.1M299.5,307.6L299.9,307.8M299.4,312.4L299.8,312.6M299.4,316.2L299.6,316.4M299.3,319.6L299.6,319.8M299.2,323.9L299.4,324.0M299.2,327.9L299.7,328.2M299.1,331.1L299.7,331.5M299.0,335.5L299.4,335.7M305.0,278.0L305.8,278.5M305.0,281.7L307.2,283.0M304.9,286.1L307.5,287.7M304.8,290.3L305.4,290.6M304.7,294.0L305.4,294.5M304.7,297.3L305.1,297.5M304.6,301.0L305.1,301.3M304.5,304.8L305.2,305.2M304.5,308.2L305.4,308.7M304.4,312.1L305.2,312.6M304.3,315.8L304.9,316.1M304.3,320.2L304.9,320.6M304.2,323.8L305.1,324.3M304.1,327.4L304.5,327.6M304.1,331.1L304.9,331.6M311.5,283.6L312.8,284.4M311.4,287.7L312.6,288.4M311.3,290.5L313.9,292.1M311.3,294.7L311.8,295.0M311.2,298.2L311.9,298.6M311.1,302.3L311.9,302.8M311.1,306.0L312.0,306.6M311.0,310.2L311.6,310.6M310.9,313.3L311.4,313.6M310.9,317.1L311.1,317.3M310.8,321.7L311.0,321.8M310.7,325.2L311.2,325.4M310.6,329.1L311.1,329.4M310.6,332.1L311.1,332.4M310.5,336.9L310.9,337.2M316.2,279.6L317.9,280.6M316.1,283.5L317.3,284.2M316.1,287.3L318.1,288.5M316.0,291.7L316.4,292.0M315.9,295.7L316.5,296.0M315.8,299.1L316.6,299.6M315.8,302.3L316.4,302.6M315.7,306.1L316.2,306.4M315.6,310.8L316.3,311.3M315.6,314.7L316.1,314.9M315.5,317.5L316.0,317.8M315.4,321.8L316.6,322.4M315.4,325.0L316.0,325.4M315.3,328.9L315.8,329.2M315.2,333.5L316.2,334.1" stroke="#30f8a0" stroke-width="1.1" fill="none"/>
<path d="M300.0,279.4L299.0,337.4M305.0,276.9L304.0,333.7M311.5,281.8L310.5,338.7M316.2,278.4L315.2,335.4" stroke="#40e040" stroke-width="0.95" fill="none"/>
<path d="M334.0,251.8L335.2,252.4M334.3,256.2L335.1,256.6M332.8,259.2L335.1,260.4M334.3,263.0L335.0,263.4M334.3,267.5L334.9,267.8M334.2,270.7L334.9,271.1M334.2,275.2L334.8,275.5M334.3,279.6L334.7,279.8M334.2,283.5L334.6,283.8M334.1,287.2L334.6,287.5M334.0,290.9L334.5,291.2M334.0,294.9L334.4,295.2M333.9,298.3L334.4,298.6M333.9,301.8L334.3,302.0M333.7,306.6L334.2,306.8M337.8,248.2L340.2,249.5M337.3,252.1L340.1,253.6M337.6,255.9L340.1,257.2M339.3,260.5L340.0,260.9M339.1,264.6L339.9,265.1M339.4,268.2L339.9,268.5M339.2,271.6L339.8,272.0M338.6,275.7L339.7,276.3M339.0,279.5L339.7,279.9M339.1,283.0L339.6,283.3M338.8,286.8L339.5,287.2M338.3,290.9L339.5,291.5M339.0,295.3L339.4,295.5M338.3,298.0L339.3,298.6M338.1,302.3L339.3,302.9M344.7,253.4L346.7,254.5M344.7,257.4L346.6,258.5M344.3,261.5L346.5,262.7M345.9,266.0L346.5,266.3M345.9,269.6L346.4,269.9M345.5,273.1L346.3,273.6M345.6,276.8L346.3,277.2M345.9,280.5L346.2,280.7M345.6,285.2L346.1,285.5M345.7,288.7L346.1,288.9M345.5,292.8L346.0,293.1M345.3,295.9L345.9,296.3M345.3,300.3L345.8,300.6M345.3,304.2L345.8,304.5M345.2,307.3L345.7,307.6M349.8,250.7L351.4,251.5M349.0,253.2L351.3,254.5M349.0,257.4L351.3,258.6M350.2,262.4L351.2,262.9M350.0,265.8L351.1,266.4M350.1,269.8L351.0,270.3M350.3,273.8L351.0,274.1M349.7,277.3L350.9,277.9M349.9,280.7L350.8,281.2M349.8,285.0L350.8,285.6M349.9,288.6L350.7,289.0M349.4,292.6L350.6,293.2M350.0,297.0L350.6,297.3M349.4,300.6L350.5,301.2M349.8,303.6L350.4,303.9" stroke="#b8ff30" stroke-width="1.1" fill="none"/>
<path d="M335.2,252.8L336.4,253.6M335.1,257.0L335.8,257.4M335.1,260.8L337.4,262.3M335.0,263.8L335.7,264.2M334.9,268.2L335.6,268.6M334.9,271.5L335.6,271.9M334.8,275.9L335.2,276.2M334.7,280.2L335.2,280.5M334.6,284.2L335.1,284.4M334.6,287.9L335.0,288.1M334.5,291.6L334.9,291.8M334.4,295.6L334.8,295.8M334.4,299.0L334.8,299.2M334.3,302.4L334.6,302.6M334.2,307.2L334.7,307.5M340.2,249.9L342.7,251.4M340.1,254.0L342.5,255.5M340.1,257.6L342.5,259.1M340.0,261.3L340.8,261.8M339.9,265.5L340.6,265.9M339.9,268.9L340.3,269.1M339.8,272.4L340.4,272.7M339.7,276.7L340.8,277.3M339.7,280.3L340.4,280.7M339.6,283.7L340.1,284.0M339.5,287.6L340.1,288.0M339.5,291.9L340.4,292.5M339.4,295.9L339.7,296.1M339.3,299.0L340.2,299.5M339.3,303.3L340.3,303.9M346.7,254.9L348.6,256.0M346.6,258.9L348.1,259.8M346.5,263.1L348.9,264.6M346.5,266.7L346.9,267.0M346.4,270.3L346.9,270.6M346.3,274.0L347.2,274.5M346.3,277.6L346.9,277.9M346.2,281.1L346.5,281.3M346.1,285.9L346.6,286.2M346.1,289.3L346.4,289.5M346.0,293.5L346.5,293.7M345.9,296.7L346.4,296.9M345.8,301.0L346.4,301.3M345.8,304.9L346.2,305.1M345.7,308.0L346.3,308.3M351.4,251.9L353.0,252.9M351.3,254.9L353.2,256.0M351.3,259.0L352.9,260.0M351.2,263.3L352.2,263.9M351.1,266.8L352.2,267.5M351.0,270.7L351.8,271.1M351.0,274.5L351.5,274.8M350.9,278.3L351.9,279.0M350.8,281.6L351.6,282.1M350.8,286.0L351.6,286.5M350.7,289.4L351.5,289.9M350.6,293.6L351.8,294.3M350.6,297.7L351.0,298.0M350.5,301.6L351.4,302.1M350.4,304.3L351.0,304.7" stroke="#30f8a0" stroke-width="1.1" fill="none"/>
<path d="M335.2,251.1L334.2,309.1M340.2,248.6L339.2,305.4M346.7,253.5L345.7,310.4M351.4,250.1L350.4,307.1" stroke="#40e040" stroke-width="0.95" fill="none"/>
<line x1="348.44" y1="299.50" x2="351.44" y2="301.50" stroke="#eeff33" stroke-width="1"/>
<line x1="348.94" y1="303.00" x2="352.94" y2="306.00" stroke="#33eeff" stroke-width="1"/>
<line x1="347.44" y1="302.50" x2="349.94" y2="301.00" stroke="#ccff33" stroke-width="1"/>
<path d="M368.7,222.5L370.4,223.4M369.0,226.9L370.3,227.7M368.5,230.7L370.3,231.6M369.8,234.9L370.2,235.1M369.7,239.4L370.1,239.6M369.5,243.3L370.0,243.6M369.4,247.5L370.0,247.8M369.5,250.4L369.9,250.6M369.5,254.8L369.8,255.0M369.3,258.6L369.8,258.9M369.5,262.0L369.7,262.2M369.4,266.0L369.6,266.2M369.3,270.7L369.6,270.8M369.0,274.0L369.5,274.2M369.1,277.6L369.4,277.8M373.0,220.4L375.4,221.7M374.0,224.7L375.3,225.5M373.4,227.8L375.3,228.8M374.6,232.0L375.2,232.4M374.0,235.7L375.1,236.3M374.4,239.4L375.1,239.8M374.6,243.8L375.0,244.1M373.9,247.3L374.9,247.9M374.2,251.3L374.9,251.7M374.0,254.7L374.8,255.1M374.2,258.8L374.7,259.1M373.7,262.4L374.7,262.9M373.8,266.9L374.6,267.4M373.7,270.6L374.5,271.1M373.3,273.7L374.5,274.3M379.5,225.1L381.9,226.4M379.4,228.9L381.8,230.2M380.2,233.0L381.7,233.9M381.1,237.7L381.7,238.0M381.1,240.9L381.6,241.2M380.6,244.6L381.5,245.1M380.7,248.4L381.5,248.8M380.8,252.6L381.4,252.9M380.7,255.9L381.3,256.2M380.9,260.0L381.3,260.2M380.8,264.6L381.2,264.8M380.8,268.3L381.1,268.5M380.4,271.4L381.1,271.8M380.4,275.1L381.0,275.5M380.6,279.5L380.9,279.6M384.0,221.8L386.6,223.2M384.1,225.7L386.5,227.0M383.7,229.2L386.4,230.7M385.5,234.0L386.4,234.5M385.7,237.7L386.3,238.0M385.2,240.8L386.3,241.4M385.6,245.4L386.2,245.8M385.2,249.3L386.1,249.8M384.8,252.8L386.0,253.5M385.5,256.5L386.0,256.7M385.0,260.5L385.9,261.0M385.1,264.6L385.8,265.0M385.1,268.2L385.8,268.6M384.5,271.5L385.7,272.2M384.5,275.7L385.6,276.3" stroke="#b8ff30" stroke-width="1.1" fill="none"/>
<path d="M370.4,223.8L372.2,224.9M370.3,228.1L371.4,228.7M370.3,232.0L371.7,232.8M370.2,235.5L370.6,235.7M370.1,240.0L370.5,240.2M370.0,244.0L370.6,244.3M370.0,248.2L370.4,248.4M369.9,251.0L370.3,251.3M369.8,255.4L370.1,255.5M369.8,259.3L370.3,259.6M369.7,262.6L369.9,262.7M369.6,266.6L369.8,266.7M369.6,271.2L369.8,271.3M369.5,274.6L369.9,274.9M369.4,278.2L369.8,278.4M375.4,222.1L377.5,223.3M375.3,225.9L376.6,226.6M375.3,229.2L377.2,230.4M375.2,232.8L375.8,233.2M375.1,236.7L376.2,237.3M375.1,240.2L375.6,240.5M375.0,244.5L375.5,244.7M374.9,248.3L375.8,248.8M374.9,252.1L375.6,252.5M374.8,255.5L375.5,255.9M374.7,259.5L375.3,259.8M374.7,263.3L375.7,263.9M374.6,267.8L375.3,268.2M374.5,271.5L375.2,271.9M374.5,274.7L375.4,275.3M381.9,226.8L384.3,228.3M381.8,230.6L384.4,232.2M381.7,234.3L383.1,235.1M381.7,238.4L382.2,238.7M381.6,241.6L382.1,241.9M381.5,245.5L382.3,245.9M381.5,249.2L382.2,249.6M381.4,253.3L382.1,253.7M381.3,256.6L382.0,257.0M381.3,260.6L381.6,260.8M381.2,265.2L381.5,265.4M381.1,268.9L381.5,269.1M381.1,272.2L381.6,272.5M381.0,275.9L381.6,276.2M380.9,280.0L381.2,280.2M386.6,223.6L389.4,225.3M386.5,227.4L388.9,228.9M386.4,231.1L388.8,232.6M386.4,234.9L387.0,235.3M386.3,238.4L386.9,238.8M386.3,241.8L387.2,242.3M386.2,246.2L386.7,246.5M386.1,250.2L387.0,250.8M386.0,253.9L387.2,254.6M386.0,257.1L386.5,257.4M385.9,261.4L386.8,262.0M385.8,265.4L386.4,265.7M385.8,269.0L386.4,269.4M385.7,272.6L387.0,273.4M385.6,276.7L386.7,277.4" stroke="#30f8a0" stroke-width="1.1" fill="none"/>
<path d="M370.4,222.8L369.4,280.8M375.4,220.3L374.4,277.1M381.9,225.2L380.9,282.1M386.6,221.8L385.6,278.8" stroke="#40e040" stroke-width="0.95" fill="none"/>
<line x1="264.50" y1="331.60" x2="268.50" y2="330.99" stroke="#22e8ff" stroke-width="1.23" stroke-linecap="round"/>
<line x1="260.20" y1="333.96" x2="262.56" y2="333.35" stroke="#ffcc22" stroke-width="1.23" stroke-linecap="round"/>
<line x1="262.56" y1="333.35" x2="265.01" y2="332.94" stroke="#c8ff30" stroke-width="1.13" stroke-linecap="round"/>
<line x1="264.71" y1="335.50" x2="269.52" y2="335.19" stroke="#22e8ff" stroke-width="1.54" stroke-linecap="round"/>
<line x1="259.07" y1="338.06" x2="262.14" y2="337.55" stroke="#ffcc22" stroke-width="1.33" stroke-linecap="round"/>
<line x1="262.14" y1="337.55" x2="265.43" y2="337.34" stroke="#c8ff30" stroke-width="1.13" stroke-linecap="round"/>
<line x1="266.76" y1="339.08" x2="269.12" y2="338.68" stroke="#40ee60" stroke-width="1.02" stroke-linecap="round"/>
<line x1="265.63" y1="343.19" x2="272.19" y2="343.29" stroke="#1515ee" stroke-width="1.43" stroke-linecap="round"/>
<line x1="256.81" y1="344.72" x2="259.07" y2="344.93" stroke="#ee1515" stroke-width="1.33" stroke-linecap="round"/>
<line x1="259.07" y1="344.93" x2="261.12" y2="345.24" stroke="#ff8a18" stroke-width="1.28" stroke-linecap="round"/>
<line x1="261.12" y1="345.24" x2="262.96" y2="345.64" stroke="#ffe020" stroke-width="1.23" stroke-linecap="round"/>
<line x1="262.96" y1="345.64" x2="264.61" y2="346.06" stroke="#c8ff30" stroke-width="1.13" stroke-linecap="round"/>
<line x1="260.20" y1="349.75" x2="262.76" y2="350.56" stroke="#ffcc22" stroke-width="1.33" stroke-linecap="round"/>
<line x1="264.40" y1="350.77" x2="266.86" y2="350.98" stroke="#22e8ff" stroke-width="1.02" stroke-linecap="round"/>
<line x1="263.99" y1="354.25" x2="268.70" y2="354.36" stroke="#22e8ff" stroke-width="1.33" stroke-linecap="round"/>
<line x1="260.20" y1="357.64" x2="262.96" y2="357.23" stroke="#ffcc22" stroke-width="1.33" stroke-linecap="round"/>
<line x1="262.96" y1="357.23" x2="266.65" y2="356.82" stroke="#c8ff30" stroke-width="1.13" stroke-linecap="round"/>
<line x1="264.19" y1="361.12" x2="266.76" y2="361.43" stroke="#22e8ff" stroke-width="1.02" stroke-linecap="round"/>
<line x1="276.19" y1="336.42" x2="279.26" y2="335.91" stroke="#22e8ff" stroke-width="1.23" stroke-linecap="round"/>
<line x1="273.01" y1="337.86" x2="275.37" y2="337.44" stroke="#c8ff30" stroke-width="1.13" stroke-linecap="round"/>
<text x="267.10" y="375.92" font-family="Liberation Sans" font-size="8.1" text-anchor="middle" fill="#111" font-weight="normal" >(BP) 1</text>
<text x="314.75" y="344.22" font-family="Liberation Sans" font-size="8.1" text-anchor="middle" fill="#111" font-weight="normal" >(BP) 2</text>
<text x="346.50" y="318.47" font-family="Liberation Sans" font-size="8.1" text-anchor="middle" fill="#111" font-weight="normal" >(BP) 3</text>
<text x="377.90" y="289.02" font-family="Liberation Sans" font-size="8.1" text-anchor="middle" fill="#111" font-weight="normal" >(BP) 4</text>
<text x="255.00" y="324.12" font-family="Liberation Sans" font-size="8.1" text-anchor="middle" fill="#111" font-weight="normal" >Pile 1-1</text>
<rect x="396.20" y="229.60" width="6.70" height="10.27" fill="#ff0000" stroke="#2a1a1a" stroke-width="0.45"/>
<rect x="396.20" y="239.87" width="6.70" height="10.27" fill="#ff4c00" stroke="#2a1a1a" stroke-width="0.45"/>
<rect x="396.20" y="250.14" width="6.70" height="10.27" fill="#ffc800" stroke="#2a1a1a" stroke-width="0.45"/>
<rect x="396.20" y="260.41" width="6.70" height="10.27" fill="#ffff00" stroke="#2a1a1a" stroke-width="0.45"/>
<rect x="396.20" y="270.68" width="6.70" height="10.27" fill="#99ff00" stroke="#2a1a1a" stroke-width="0.45"/>
<rect x="396.20" y="280.95" width="6.70" height="10.27" fill="#00ee00" stroke="#2a1a1a" stroke-width="0.45"/>
<rect x="396.20" y="291.22" width="6.70" height="10.27" fill="#00f030" stroke="#2a1a1a" stroke-width="0.45"/>
<rect x="396.20" y="301.49" width="6.70" height="10.27" fill="#00ffa0" stroke="#2a1a1a" stroke-width="0.45"/>
<rect x="396.20" y="311.76" width="6.70" height="10.27" fill="#00ffff" stroke="#2a1a1a" stroke-width="0.45"/>
<rect x="396.20" y="322.03" width="6.70" height="10.27" fill="#00c0ff" stroke="#2a1a1a" stroke-width="0.45"/>
<rect x="396.20" y="332.30" width="6.70" height="10.27" fill="#0050ff" stroke="#2a1a1a" stroke-width="0.45"/>
<rect x="396.20" y="342.57" width="6.70" height="10.27" fill="#0000ff" stroke="#2a1a1a" stroke-width="0.45"/>
<path d="M396.20,229.60H415.40M396.20,239.87H415.40M396.20,250.14H415.40M396.20,260.41H415.40M396.20,270.68H415.40M396.20,280.95H415.40M396.20,291.22H415.40M396.20,301.49H415.40M396.20,311.76H415.40M396.20,322.03H415.40M396.20,332.30H415.40M396.20,342.57H415.40M396.20,352.84H415.40" stroke="#8c8c8c" stroke-width="0.6" fill="none"/>
<text x="415.40" y="231.29" font-family="Liberation Mono" font-size="5.12" textLength="34.25" lengthAdjust="spacingAndGlyphs" fill="#2a2a2a" font-weight="normal">+1.11766e+003</text>
<text x="415.40" y="241.56" font-family="Liberation Mono" font-size="5.12" textLength="34.25" lengthAdjust="spacingAndGlyphs" fill="#2a2a2a" font-weight="normal">+9.31386e+002</text>
<text x="415.40" y="251.83" font-family="Liberation Mono" font-size="5.12" textLength="34.25" lengthAdjust="spacingAndGlyphs" fill="#2a2a2a" font-weight="normal">+7.45109e+002</text>
<text x="415.40" y="262.10" font-family="Liberation Mono" font-size="5.12" textLength="34.25" lengthAdjust="spacingAndGlyphs" fill="#2a2a2a" font-weight="normal">+5.58832e+002</text>
<text x="415.40" y="272.37" font-family="Liberation Mono" font-size="5.12" textLength="34.25" lengthAdjust="spacingAndGlyphs" fill="#2a2a2a" font-weight="normal">+3.72555e+002</text>
<text x="415.40" y="282.64" font-family="Liberation Mono" font-size="5.12" textLength="34.25" lengthAdjust="spacingAndGlyphs" fill="#2a2a2a" font-weight="normal">+1.86277e+002</text>
<text x="415.40" y="292.91" font-family="Liberation Mono" font-size="5.12" textLength="34.25" lengthAdjust="spacingAndGlyphs" fill="#2a2a2a" font-weight="normal">+0.00000e+000</text>
<text x="415.40" y="303.18" font-family="Liberation Mono" font-size="5.12" textLength="34.25" lengthAdjust="spacingAndGlyphs" fill="#2a2a2a" font-weight="normal">-1.86277e+002</text>
<text x="415.40" y="313.45" font-family="Liberation Mono" font-size="5.12" textLength="34.25" lengthAdjust="spacingAndGlyphs" fill="#2a2a2a" font-weight="normal">-3.72554e+002</text>
<text x="415.40" y="323.72" font-family="Liberation Mono" font-size="5.12" textLength="34.25" lengthAdjust="spacingAndGlyphs" fill="#2a2a2a" font-weight="normal">-5.58832e+002</text>
<text x="415.40" y="333.99" font-family="Liberation Mono" font-size="5.12" textLength="34.25" lengthAdjust="spacingAndGlyphs" fill="#2a2a2a" font-weight="normal">-7.45109e+002</text>
<text x="415.40" y="344.26" font-family="Liberation Mono" font-size="5.12" textLength="34.25" lengthAdjust="spacingAndGlyphs" fill="#2a2a2a" font-weight="normal">-9.31386e+002</text>
<text x="415.40" y="354.53" font-family="Liberation Mono" font-size="5.12" textLength="34.25" lengthAdjust="spacingAndGlyphs" fill="#2a2a2a" font-weight="normal">-1.11766e+003</text>
<text x="406.00" y="236.13" font-family="Liberation Mono" font-size="5.12" textLength="10.25" lengthAdjust="spacingAndGlyphs" fill="#e80000" font-weight="bold">0.0%</text>
<text x="406.00" y="246.40" font-family="Liberation Mono" font-size="5.12" textLength="10.25" lengthAdjust="spacingAndGlyphs" fill="#e80000" font-weight="bold">0.0%</text>
<text x="406.00" y="256.67" font-family="Liberation Mono" font-size="5.12" textLength="10.25" lengthAdjust="spacingAndGlyphs" fill="#e80000" font-weight="bold">0.2%</text>
<text x="406.00" y="266.94" font-family="Liberation Mono" font-size="5.12" textLength="10.25" lengthAdjust="spacingAndGlyphs" fill="#e80000" font-weight="bold">0.3%</text>
<text x="406.00" y="277.21" font-family="Liberation Mono" font-size="5.12" textLength="10.25" lengthAdjust="spacingAndGlyphs" fill="#e80000" font-weight="bold">4.3%</text>
<text x="406.00" y="287.48" font-family="Liberation Mono" font-size="5.12" textLength="12.81" lengthAdjust="spacingAndGlyphs" fill="#e80000" font-weight="bold">56.8%</text>
<text x="406.00" y="297.75" font-family="Liberation Mono" font-size="5.12" textLength="12.81" lengthAdjust="spacingAndGlyphs" fill="#e80000" font-weight="bold">33.6%</text>
<text x="406.00" y="308.02" font-family="Liberation Mono" font-size="5.12" textLength="10.25" lengthAdjust="spacingAndGlyphs" fill="#e80000" font-weight="bold">4.0%</text>
<text x="406.00" y="318.29" font-family="Liberation Mono" font-size="5.12" textLength="10.25" lengthAdjust="spacingAndGlyphs" fill="#e80000" font-weight="bold">0.5%</text>
<text x="406.00" y="328.56" font-family="Liberation Mono" font-size="5.12" textLength="10.25" lengthAdjust="spacingAndGlyphs" fill="#e80000" font-weight="bold">0.1%</text>
<text x="406.00" y="338.83" font-family="Liberation Mono" font-size="5.12" textLength="10.25" lengthAdjust="spacingAndGlyphs" fill="#e80000" font-weight="bold">0.0%</text>
<text x="406.00" y="349.10" font-family="Liberation Mono" font-size="5.12" textLength="10.25" lengthAdjust="spacingAndGlyphs" fill="#e80000" font-weight="bold">0.1%</text>
<text x="396.30" y="219.59" font-family="Liberation Mono" font-size="5.12" textLength="26.34" lengthAdjust="spacingAndGlyphs" fill="#111" font-weight="bold">BEAM FORCE</text>
<text x="396.30" y="224.59" font-family="Liberation Mono" font-size="5.12" textLength="55.32" lengthAdjust="spacingAndGlyphs" fill="#111" font-weight="bold">BENDING MMNT Z , kN*m</text>
<g transform="translate(431.7,387.7) scale(1.025)">
<line x1="0" y1="0" x2="0.2" y2="-10.5" stroke="#1010ee" stroke-width="1.6"/>
<path d="M0.3,-15.2 l-2.1,5.4 l4.2,0 Z" fill="#1010ee"/>
<line x1="0" y1="0" x2="-10.5" y2="-2.0" stroke="#10cc10" stroke-width="1.6"/>
<path d="M-15.2,-3.0 l5.4,-1.4 l-0.7,4.0 Z" fill="#10cc10"/>
<line x1="0" y1="0" x2="3.6" y2="-3" stroke="#ee1010" stroke-width="1.7"/>
<circle cx="4.1" cy="-3.5" r="1.6" fill="#ee1010"/>
<circle cx="0" cy="0" r="1.0" fill="#ddcc22"/>
<text x="1.50" y="-18.50" font-family="Liberation Sans" font-size="5.8" text-anchor="middle" fill="#3838ee" font-weight="normal" >Z</text>
<text x="-16.50" y="-2.40" font-family="Liberation Sans" font-size="5.6" text-anchor="middle" fill="#30cc30" font-weight="normal" >Y</text>
<text x="8.40" y="-6.60" font-family="Liberation Sans" font-size="5.4" text-anchor="middle" fill="#e04848" font-weight="normal" >X</text>
</g>
<text x="344.00" y="408.80" font-family="Liberation Serif" font-size="13.4" text-anchor="middle" fill="#111">(<tspan font-weight="bold">e</tspan>)</text>
</g>
<g id="panel-f">
<path d="M492.00,295.30 L515.21,299.01 L507.69,305.90 L482.99,302.56 Z M482.99,302.56 L482.99,310.51 L507.69,313.85 L507.69,305.90 M507.69,313.85 L515.21,306.96 L515.21,299.01" fill="none" stroke="#8a8ad0" stroke-width="0.6" stroke-linejoin="round"/>
<path d="M528.40,266.55 L551.61,270.26 L544.09,277.15 L519.39,273.81 Z M519.39,273.81 L519.39,281.76 L544.09,285.10 L544.09,277.15 M544.09,285.10 L551.61,278.21 L551.61,270.26" fill="none" stroke="#8a8ad0" stroke-width="0.6" stroke-linejoin="round"/>
<path d="M564.80,237.80 L588.01,241.51 L580.49,248.40 L555.79,245.06 Z M555.79,245.06 L555.79,253.01 L580.49,256.35 L580.49,248.40 M580.49,256.35 L588.01,249.46 L588.01,241.51" fill="none" stroke="#8a8ad0" stroke-width="0.6" stroke-linejoin="round"/>
<path d="M601.20,209.05 L624.41,212.76 L616.89,219.65 L592.19,216.31 Z M592.19,216.31 L592.19,224.26 L616.89,227.60 L616.89,219.65 M616.89,227.60 L624.41,220.71 L624.41,212.76" fill="none" stroke="#8a8ad0" stroke-width="0.6" stroke-linejoin="round"/>
<path d="M489.1,309.7L490.5,310.4M489.1,313.5L490.4,314.3M489.3,316.7L490.4,317.3M489.8,321.3L490.3,321.5M489.8,324.6L490.2,324.8M489.5,328.2L490.2,328.6M489.6,332.7L490.1,333.0M489.4,336.0L490.0,336.4M489.6,339.8L490.0,340.0M489.4,344.0L489.9,344.3M489.3,347.6L489.8,347.9M489.1,351.4L489.8,351.8M489.3,354.6L489.7,354.9M489.2,358.8L489.6,359.0M489.1,362.3L489.6,362.5M488.9,366.2L489.5,366.6M493.7,305.9L495.7,307.0M494.2,310.3L495.6,311.0M492.8,313.7L495.5,315.2M494.5,319.2L495.5,319.7M494.9,322.4L495.4,322.7M494.2,326.2L495.3,326.8M494.0,330.3L495.3,331.0M494.2,333.8L495.2,334.3M494.4,338.9L495.1,339.3M494.2,342.7L495.0,343.2M493.7,346.2L495.0,347.0M493.7,349.5L494.9,350.1M494.3,353.9L494.8,354.2M494.2,357.7L494.8,358.1M493.3,361.8L494.7,362.5M500.9,311.8L502.4,312.6M500.0,315.1L502.3,316.4M500.3,319.3L502.2,320.4M501.2,323.3L502.2,323.9M501.6,328.0L502.1,328.3M500.9,331.9L502.0,332.5M501.2,335.8L501.9,336.2M501.3,339.3L501.9,339.6M501.4,344.0L501.8,344.2M501.3,347.1L501.7,347.3M500.9,351.7L501.7,352.1M501.1,355.5L501.6,355.8M500.9,359.7L501.5,360.1M501.0,363.6L501.4,363.9M500.9,367.1L501.4,367.4M505.5,308.4L507.2,309.4M504.9,311.3L507.2,312.5M505.6,315.4L507.1,316.3M505.9,320.4L507.0,321.0M505.8,324.0L507.0,324.6M506.3,328.3L506.9,328.6M505.5,332.4L506.8,333.1M505.7,335.8L506.8,336.3M505.4,339.7L506.7,340.4M505.5,343.2L506.6,343.9M505.6,347.3L506.5,347.8M505.4,351.8L506.5,352.4M505.0,355.3L506.4,356.0M505.8,359.7L506.3,360.0M505.1,363.6L506.3,364.2" stroke="#b8ff30" stroke-width="1.1" fill="none"/>
<path d="M490.5,310.8L491.9,311.7M490.4,314.7L491.7,315.4M490.4,317.7L491.3,318.3M490.3,321.9L490.7,322.2M490.2,325.2L490.6,325.5M490.2,329.0L490.9,329.4M490.1,333.4L490.7,333.7M490.0,336.8L490.7,337.1M490.0,340.4L490.3,340.6M489.9,344.7L490.2,344.9M489.8,348.3L490.4,348.6M489.8,352.2L490.4,352.5M489.7,355.3L490.1,355.5M489.6,359.4L490.1,359.7M489.6,362.9L490.1,363.2M489.5,367.0L490.1,367.3M495.7,307.4L497.3,308.3M495.6,311.4L496.6,312.1M495.5,315.6L498.4,317.3M495.5,320.1L496.2,320.5M495.4,323.1L496.0,323.5M495.3,327.2L496.3,327.8M495.3,331.4L496.5,332.1M495.2,334.7L496.1,335.3M495.1,339.7L495.7,340.1M495.0,343.6L495.7,344.0M495.0,347.4L496.1,348.1M494.9,350.5L496.0,351.2M494.8,354.6L495.4,354.9M494.8,358.5L495.3,358.8M494.7,362.9L495.8,363.6M502.4,313.0L503.9,314.0M502.3,316.8L504.6,318.2M502.2,320.8L503.5,321.6M502.2,324.3L503.2,324.9M502.1,328.7L502.6,328.9M502.0,332.9L503.1,333.6M501.9,336.6L502.5,337.0M501.9,340.0L502.4,340.3M501.8,344.6L502.1,344.8M501.7,347.7L502.1,347.9M501.7,352.5L502.2,352.8M501.6,356.2L502.0,356.5M501.5,360.5L502.0,360.8M501.4,364.3L501.9,364.5M501.4,367.8L501.7,368.0M507.2,309.8L508.8,310.7M507.2,312.9L508.8,313.9M507.1,316.7L508.7,317.7M507.0,321.4L507.9,321.9M507.0,325.0L508.1,325.7M506.9,329.0L507.4,329.3M506.8,333.5L508.0,334.2M506.8,336.7L507.7,337.3M506.7,340.8L507.8,341.5M506.6,344.3L507.7,344.9M506.5,348.2L507.6,348.8M506.5,352.8L507.4,353.4M506.4,356.4L507.5,357.1M506.3,360.4L506.8,360.7M506.3,364.6L507.5,365.3" stroke="#30f8a0" stroke-width="1.1" fill="none"/>
<path d="M490.5,308.9L489.5,368.9M495.7,306.2L494.6,365.0M502.4,311.3L501.3,370.1M507.3,307.8L506.2,366.7" stroke="#40e040" stroke-width="0.95" fill="none"/>
<path d="M525.7,280.3L526.9,281.0M524.6,283.6L526.8,284.8M524.4,287.4L526.8,288.7M526.1,292.1L526.7,292.4M525.7,295.5L526.6,296.0M525.7,299.0L526.6,299.5M525.8,303.3L526.5,303.7M526.0,307.0L526.4,307.2M526.0,311.1L526.4,311.3M525.7,314.1L526.3,314.5M525.9,318.5L526.2,318.7M525.8,322.8L526.2,323.0M525.8,325.9L526.1,326.0M525.4,330.2L526.0,330.6M525.5,333.7L526.0,334.0M525.7,337.0L525.9,337.1M530.9,278.5L532.1,279.1M530.8,281.8L532.0,282.5M530.5,286.2L531.9,287.0M531.0,290.3L531.9,290.8M531.0,293.6L531.8,294.0M530.8,297.8L531.7,298.3M530.8,302.1L531.7,302.6M530.4,305.4L531.6,306.1M530.3,309.6L531.5,310.3M530.9,313.9L531.4,314.2M530.6,317.4L531.4,317.8M530.5,321.7L531.3,322.1M530.0,324.6L531.2,325.3M530.3,328.8L531.2,329.3M529.9,332.5L531.1,333.2M536.5,283.0L538.8,284.2M537.5,287.3L538.7,288.0M537.5,291.0L538.6,291.6M538.0,295.2L538.6,295.5M537.3,298.9L538.5,299.6M537.6,303.5L538.4,303.9M537.5,306.4L538.3,306.9M537.5,311.2L538.3,311.6M537.7,315.1L538.2,315.4M537.7,318.9L538.1,319.1M537.7,323.1L538.1,323.3M537.7,326.5L538.0,326.6M537.2,330.9L537.9,331.3M537.5,335.0L537.8,335.2M537.2,338.4L537.8,338.7M541.4,278.4L543.7,279.7M540.9,282.9L543.6,284.4M541.0,286.1L543.5,287.5M542.5,291.9L543.4,292.4M542.1,295.2L543.4,295.8M542.3,299.9L543.3,300.4M542.3,303.5L543.2,304.0M542.5,307.0L543.2,307.3M541.7,311.2L543.1,312.0M542.2,315.8L543.0,316.2M541.6,319.0L542.9,319.8M541.6,322.6L542.9,323.3M542.1,326.9L542.8,327.3M541.9,330.5L542.7,331.0M541.8,334.4L542.7,334.9" stroke="#b8ff30" stroke-width="1.1" fill="none"/>
<path d="M526.9,281.4L527.9,282.0M526.8,285.2L528.6,286.3M526.8,289.1L528.8,290.3M526.7,292.8L527.2,293.2M526.6,296.4L527.3,296.8M526.6,299.9L527.5,300.4M526.5,304.1L527.1,304.4M526.4,307.6L526.8,307.8M526.4,311.7L526.7,311.9M526.3,314.9L526.7,315.1M526.2,319.1L526.5,319.3M526.2,323.4L526.5,323.6M526.1,326.4L526.4,326.6M526.0,331.0L526.5,331.2M526.0,334.4L526.4,334.6M525.9,337.5L526.1,337.6M532.1,279.5L533.0,280.1M532.0,282.9L533.0,283.5M531.9,287.4L533.4,288.3M531.9,291.2L532.7,291.7M531.8,294.4L532.5,294.8M531.7,298.7L532.5,299.2M531.7,303.0L532.4,303.5M531.6,306.5L532.8,307.2M531.5,310.7L532.5,311.3M531.4,314.6L532.0,314.9M531.4,318.2L532.0,318.6M531.3,322.5L532.0,322.9M531.2,325.7L532.6,326.4M531.2,329.7L531.9,330.1M531.1,333.6L532.3,334.3M538.8,284.6L540.7,285.8M538.7,288.4L539.8,289.1M538.6,292.0L539.6,292.6M538.6,295.9L538.9,296.2M538.5,300.0L539.6,300.6M538.4,304.3L539.0,304.7M538.3,307.3L539.2,307.8M538.3,312.0L539.0,312.4M538.2,315.8L538.6,316.1M538.1,319.5L538.5,319.7M538.1,323.7L538.3,323.9M538.0,327.0L538.2,327.2M537.9,331.7L538.5,332.1M537.8,335.6L538.2,335.8M537.8,339.1L538.2,339.4M543.7,280.1L545.8,281.3M543.6,284.8L546.5,286.6M543.5,287.9L545.4,289.0M543.4,292.8L544.1,293.2M543.4,296.2L544.7,297.0M543.3,300.8L544.2,301.3M543.2,304.4L544.1,305.0M543.2,307.7L543.8,308.1M543.1,312.4L544.1,312.9M543.0,316.6L543.6,317.0M542.9,320.2L544.0,320.8M542.9,323.7L544.2,324.5M542.8,327.7L543.5,328.1M542.7,331.4L543.3,331.7M542.7,335.3L543.5,335.8" stroke="#30f8a0" stroke-width="1.1" fill="none"/>
<path d="M526.9,280.1L525.9,340.1M532.1,277.5L531.1,336.3M538.8,282.6L537.7,341.4M543.7,279.1L542.6,338.0" stroke="#40e040" stroke-width="0.95" fill="none"/>
<path d="M561.5,251.8L563.3,252.8M562.0,255.5L563.2,256.1M560.9,258.3L563.2,259.6M562.2,263.7L563.1,264.1M562.3,267.4L563.0,267.8M562.2,270.9L563.0,271.3M562.1,274.9L562.9,275.4M562.4,278.2L562.8,278.5M562.2,281.9L562.8,282.2M562.1,286.2L562.7,286.6M562.4,290.0L562.6,290.1M562.2,293.9L562.6,294.1M562.1,297.5L562.5,297.7M562.0,301.3L562.4,301.5M562.0,304.9L562.4,305.1M562.0,308.3L562.3,308.5M566.7,249.3L568.5,250.3M566.6,252.5L568.4,253.5M566.0,256.4L568.3,257.7M567.6,260.8L568.3,261.2M567.0,264.7L568.2,265.4M567.3,269.0L568.1,269.5M566.7,272.7L568.1,273.5M566.8,277.2L568.0,277.8M566.6,280.1L567.9,280.8M566.8,284.1L567.9,284.7M566.9,288.2L567.8,288.7M566.9,292.5L567.7,293.0M566.9,296.7L567.6,297.1M567.0,301.2L567.6,301.5M566.7,304.7L567.5,305.1M572.6,253.3L575.2,254.7M573.6,258.3L575.1,259.1M572.3,261.0L575.0,262.5M574.0,266.1L575.0,266.6M574.3,270.7L574.9,271.0M573.7,274.0L574.8,274.6M573.9,277.9L574.7,278.4M574.2,282.8L574.7,283.0M574.3,286.0L574.6,286.2M574.2,290.4L574.5,290.6M574.1,293.9L574.5,294.1M573.8,297.4L574.4,297.7M573.8,301.9L574.3,302.2M573.6,305.1L574.3,305.5M573.5,309.4L574.2,309.8M578.0,250.4L580.0,251.5M576.9,253.9L580.0,255.6M577.6,257.5L579.9,258.8M578.9,262.8L579.8,263.3M578.5,266.3L579.8,267.0M578.7,270.8L579.7,271.4M578.6,274.1L579.6,274.6M578.2,278.4L579.5,279.1M578.5,282.8L579.5,283.3M578.6,286.2L579.4,286.7M578.8,290.8L579.3,291.1M577.9,293.7L579.3,294.4M578.1,298.2L579.2,298.8M577.8,302.0L579.1,302.8M578.4,305.7L579.1,306.1" stroke="#b8ff30" stroke-width="1.1" fill="none"/>
<path d="M563.3,253.2L564.7,254.0M563.2,256.5L564.1,257.1M563.2,260.0L565.5,261.4M563.1,264.5L563.8,264.9M563.0,268.2L563.8,268.6M563.0,271.7L563.6,272.1M562.9,275.8L563.7,276.3M562.8,278.9L563.3,279.1M562.8,282.6L563.3,282.9M562.7,287.0L563.2,287.3M562.6,290.5L562.9,290.6M562.6,294.5L562.8,294.7M562.5,298.1L562.8,298.3M562.4,301.9L562.8,302.1M562.4,305.5L562.8,305.7M562.3,308.9L562.6,309.1M568.5,250.7L569.9,251.5M568.4,253.9L569.8,254.8M568.3,258.1L570.9,259.6M568.3,261.6L568.8,261.9M568.2,265.8L569.2,266.4M568.1,269.9L569.0,270.5M568.1,273.9L569.5,274.8M568.0,278.2L568.9,278.8M567.9,281.2L569.0,281.8M567.9,285.1L568.8,285.7M567.8,289.1L568.5,289.6M567.7,293.4L568.3,293.8M567.6,297.5L568.5,298.0M567.6,301.9L568.1,302.2M567.5,305.5L568.2,305.9M575.2,255.1L577.3,256.4M575.1,259.5L576.6,260.4M575.0,262.9L577.2,264.2M575.0,267.0L575.8,267.6M574.9,271.4L575.5,271.8M574.8,275.0L575.7,275.5M574.7,278.8L575.6,279.4M574.7,283.4L575.1,283.7M574.6,286.6L574.8,286.7M574.5,291.0L574.8,291.2M574.5,294.5L574.8,294.7M574.4,298.1L574.9,298.4M574.3,302.6L574.8,302.8M574.3,305.9L574.7,306.2M574.2,310.2L575.0,310.7M580.0,251.9L581.9,253.1M580.0,256.0L582.5,257.5M579.9,259.2L581.8,260.3M579.8,263.7L580.5,264.1M579.8,267.4L580.9,268.1M579.7,271.8L580.5,272.3M579.6,275.0L580.4,275.5M579.5,279.5L580.5,280.0M579.5,283.7L580.6,284.4M579.4,287.1L580.0,287.5M579.3,291.5L579.7,291.7M579.3,294.8L580.7,295.7M579.2,299.2L580.1,299.7M579.1,303.2L580.2,303.8M579.1,306.5L579.6,306.8" stroke="#30f8a0" stroke-width="1.1" fill="none"/>
<path d="M563.3,251.4L562.3,311.4M568.5,248.7L567.5,307.5M575.2,253.8L574.1,312.6M580.1,250.3L579.0,309.2" stroke="#40e040" stroke-width="0.95" fill="none"/>
<line x1="576.99" y1="301.40" x2="579.99" y2="303.40" stroke="#eeff33" stroke-width="1"/>
<line x1="577.49" y1="304.90" x2="581.49" y2="307.90" stroke="#33eeff" stroke-width="1"/>
<line x1="575.99" y1="304.40" x2="578.49" y2="302.90" stroke="#ccff33" stroke-width="1"/>
<path d="M598.4,222.8L599.7,223.6M597.8,227.0L599.6,228.0M598.5,230.6L599.6,231.2M597.8,233.5L599.5,234.5M599.1,238.7L599.4,238.9M598.5,241.9L599.4,242.4M598.3,245.7L599.3,246.2M598.8,250.2L599.2,250.4M598.8,253.1L599.2,253.4M598.9,256.9L599.1,257.1M598.7,261.1L599.0,261.3M598.7,264.5L599.0,264.7M598.6,268.7L598.9,268.8M598.2,271.9L598.8,272.2M598.4,276.2L598.8,276.4M598.2,280.0L598.7,280.3M603.0,220.4L604.9,221.5M603.0,223.9L604.8,224.9M602.0,227.1L604.8,228.6M603.9,232.5L604.7,232.9M603.9,236.5L604.6,236.9M603.5,240.0L604.5,240.5M603.3,244.6L604.5,245.2M603.9,247.7L604.4,248.0M603.5,251.8L604.3,252.2M603.6,256.6L604.2,256.9M602.9,260.0L604.2,260.8M603.2,263.7L604.1,264.2M603.5,267.9L604.0,268.2M603.5,272.4L604.0,272.7M603.1,276.0L603.9,276.5M610.4,225.6L611.6,226.2M609.7,229.6L611.5,230.6M608.9,233.1L611.4,234.5M610.7,237.8L611.4,238.2M610.8,241.9L611.3,242.2M610.6,245.3L611.2,245.6M610.6,249.0L611.2,249.3M610.5,253.3L611.1,253.6M610.3,257.0L611.0,257.4M610.2,260.6L610.9,261.0M610.2,265.3L610.9,265.7M610.5,269.4L610.8,269.6M610.0,272.4L610.7,272.8M610.0,276.5L610.7,276.9M610.3,281.1L610.6,281.3M613.9,221.3L616.4,222.7M614.0,225.8L616.4,227.1M615.0,229.7L616.3,230.4M615.4,234.4L616.2,234.8M615.6,238.3L616.2,238.6M615.1,241.8L616.1,242.3M615.1,245.3L616.0,245.8M614.6,249.1L616.0,249.8M615.2,254.4L615.9,254.7M614.9,257.3L615.8,257.8M614.7,261.2L615.7,261.8M614.8,265.6L615.7,266.1M614.2,269.6L615.6,270.4M614.2,272.8L615.5,273.6M614.4,277.0L615.5,277.5" stroke="#b8ff30" stroke-width="1.1" fill="none"/>
<path d="M599.7,224.0L600.9,224.7M599.6,228.4L601.1,229.3M599.6,231.6L600.7,232.3M599.5,234.9L601.2,235.9M599.4,239.3L599.8,239.6M599.4,242.8L600.0,243.2M599.3,246.6L600.0,247.1M599.2,250.8L599.6,251.0M599.2,253.8L599.5,254.0M599.1,257.5L599.3,257.6M599.0,261.7L599.4,262.0M599.0,265.1L599.3,265.2M598.9,269.2L599.1,269.3M598.8,272.6L599.4,273.0M598.8,276.8L599.1,277.0M598.7,280.7L599.1,280.9M604.9,221.9L606.3,222.7M604.8,225.3L606.5,226.3M604.8,229.0L606.8,230.2M604.7,233.3L605.5,233.9M604.6,237.3L605.2,237.6M604.5,240.9L605.4,241.4M604.5,245.6L605.4,246.2M604.4,248.4L604.9,248.7M604.3,252.6L605.0,253.1M604.2,257.3L605.0,257.8M604.2,261.2L605.3,261.8M604.1,264.6L605.1,265.2M604.0,268.6L604.5,268.8M604.0,273.1L604.4,273.4M603.9,276.9L604.6,277.3M611.6,226.6L612.5,227.2M611.5,231.0L612.9,231.9M611.4,234.9L613.8,236.3M611.4,238.6L612.0,238.9M611.3,242.6L611.7,242.9M611.2,246.0L611.8,246.4M611.2,249.7L611.6,249.9M611.1,254.0L611.5,254.2M611.0,257.8L611.6,258.2M610.9,261.4L611.7,261.9M610.9,266.1L611.5,266.4M610.8,270.0L611.0,270.1M610.7,273.2L611.2,273.4M610.7,277.3L611.2,277.6M610.6,281.7L610.8,281.8M616.4,223.1L618.3,224.2M616.4,227.5L618.5,228.8M616.3,230.8L617.5,231.5M616.2,235.2L616.9,235.7M616.2,239.0L616.6,239.2M616.1,242.7L617.0,243.3M616.0,246.2L617.0,246.8M616.0,250.2L617.2,250.9M615.9,255.1L616.4,255.4M615.8,258.2L616.8,258.8M615.7,262.2L616.8,262.8M615.7,266.5L616.4,266.9M615.6,270.8L616.7,271.4M615.5,274.0L616.6,274.6M615.5,277.9L616.5,278.6" stroke="#30f8a0" stroke-width="1.1" fill="none"/>
<path d="M599.7,222.6L598.7,282.6M604.9,220.0L603.9,278.8M611.6,225.1L610.5,283.9M616.5,221.6L615.4,280.5" stroke="#40e040" stroke-width="0.95" fill="none"/>
<line x1="490.19" y1="333.57" x2="494.32" y2="332.93" stroke="#22e8ff" stroke-width="1.27" stroke-linecap="round"/>
<line x1="485.73" y1="336.00" x2="488.17" y2="335.37" stroke="#ffcc22" stroke-width="1.27" stroke-linecap="round"/>
<line x1="488.17" y1="335.37" x2="490.72" y2="334.94" stroke="#c8ff30" stroke-width="1.17" stroke-linecap="round"/>
<line x1="490.40" y1="337.59" x2="495.38" y2="337.28" stroke="#22e8ff" stroke-width="1.59" stroke-linecap="round"/>
<line x1="484.57" y1="340.24" x2="487.75" y2="339.71" stroke="#ffcc22" stroke-width="1.38" stroke-linecap="round"/>
<line x1="487.75" y1="339.71" x2="491.14" y2="339.50" stroke="#c8ff30" stroke-width="1.17" stroke-linecap="round"/>
<line x1="492.52" y1="341.30" x2="494.96" y2="340.88" stroke="#40ee60" stroke-width="1.06" stroke-linecap="round"/>
<line x1="491.35" y1="345.54" x2="498.14" y2="345.65" stroke="#1515ee" stroke-width="1.48" stroke-linecap="round"/>
<line x1="482.24" y1="347.13" x2="484.57" y2="347.35" stroke="#ee1515" stroke-width="1.38" stroke-linecap="round"/>
<line x1="484.57" y1="347.35" x2="486.69" y2="347.66" stroke="#ff8a18" stroke-width="1.33" stroke-linecap="round"/>
<line x1="486.69" y1="347.66" x2="488.60" y2="348.09" stroke="#ffe020" stroke-width="1.27" stroke-linecap="round"/>
<line x1="488.60" y1="348.09" x2="490.29" y2="348.51" stroke="#c8ff30" stroke-width="1.17" stroke-linecap="round"/>
<line x1="485.73" y1="352.33" x2="488.38" y2="353.18" stroke="#ffcc22" stroke-width="1.38" stroke-linecap="round"/>
<line x1="490.08" y1="353.39" x2="492.62" y2="353.60" stroke="#22e8ff" stroke-width="1.06" stroke-linecap="round"/>
<line x1="489.66" y1="356.99" x2="494.53" y2="357.10" stroke="#22e8ff" stroke-width="1.38" stroke-linecap="round"/>
<line x1="485.73" y1="360.49" x2="488.60" y2="360.07" stroke="#ffcc22" stroke-width="1.38" stroke-linecap="round"/>
<line x1="488.60" y1="360.07" x2="492.41" y2="359.64" stroke="#c8ff30" stroke-width="1.17" stroke-linecap="round"/>
<line x1="489.87" y1="364.09" x2="492.52" y2="364.41" stroke="#22e8ff" stroke-width="1.06" stroke-linecap="round"/>
<line x1="502.27" y1="338.55" x2="505.45" y2="338.02" stroke="#22e8ff" stroke-width="1.27" stroke-linecap="round"/>
<line x1="498.98" y1="340.03" x2="501.42" y2="339.61" stroke="#c8ff30" stroke-width="1.17" stroke-linecap="round"/>
<text x="498.10" y="378.57" font-family="Liberation Sans" font-size="8.4" text-anchor="middle" fill="#111" font-weight="normal" >(BP) 1</text>
<text x="545.90" y="347.82" font-family="Liberation Sans" font-size="8.4" text-anchor="middle" fill="#111" font-weight="normal" >(BP) 2</text>
<text x="577.25" y="321.82" font-family="Liberation Sans" font-size="8.4" text-anchor="middle" fill="#111" font-weight="normal" >(BP) 3</text>
<text x="608.50" y="292.52" font-family="Liberation Sans" font-size="8.4" text-anchor="middle" fill="#111" font-weight="normal" >(BP) 4</text>
<text x="480.75" y="327.52" font-family="Liberation Sans" font-size="8.4" text-anchor="middle" fill="#111" font-weight="normal" >Pile 1-1</text>
<rect x="626.40" y="228.30" width="7.30" height="10.63" fill="#ff0000" stroke="#2a1a1a" stroke-width="0.45"/>
<rect x="626.40" y="238.93" width="7.30" height="10.63" fill="#ff4c00" stroke="#2a1a1a" stroke-width="0.45"/>
<rect x="626.40" y="249.56" width="7.30" height="10.63" fill="#ffc800" stroke="#2a1a1a" stroke-width="0.45"/>
<rect x="626.40" y="260.19" width="7.30" height="10.63" fill="#ffff00" stroke="#2a1a1a" stroke-width="0.45"/>
<rect x="626.40" y="270.82" width="7.30" height="10.63" fill="#99ff00" stroke="#2a1a1a" stroke-width="0.45"/>
<rect x="626.40" y="281.45" width="7.30" height="10.63" fill="#00ee00" stroke="#2a1a1a" stroke-width="0.45"/>
<rect x="626.40" y="292.08" width="7.30" height="10.63" fill="#00f030" stroke="#2a1a1a" stroke-width="0.45"/>
<rect x="626.40" y="302.71" width="7.30" height="10.63" fill="#00ffa0" stroke="#2a1a1a" stroke-width="0.45"/>
<rect x="626.40" y="313.34" width="7.30" height="10.63" fill="#00ffff" stroke="#2a1a1a" stroke-width="0.45"/>
<rect x="626.40" y="323.97" width="7.30" height="10.63" fill="#00c0ff" stroke="#2a1a1a" stroke-width="0.45"/>
<rect x="626.40" y="334.60" width="7.30" height="10.63" fill="#0050ff" stroke="#2a1a1a" stroke-width="0.45"/>
<rect x="626.40" y="345.23" width="7.30" height="10.63" fill="#0000ff" stroke="#2a1a1a" stroke-width="0.45"/>
<path d="M626.40,228.30H646.20M626.40,238.93H646.20M626.40,249.56H646.20M626.40,260.19H646.20M626.40,270.82H646.20M626.40,281.45H646.20M626.40,292.08H646.20M626.40,302.71H646.20M626.40,313.34H646.20M626.40,323.97H646.20M626.40,334.60H646.20M626.40,345.23H646.20M626.40,355.86H646.20" stroke="#8c8c8c" stroke-width="0.6" fill="none"/>
<text x="646.20" y="230.05" font-family="Liberation Mono" font-size="5.30" textLength="35.41" lengthAdjust="spacingAndGlyphs" fill="#2a2a2a" font-weight="normal">+1.14081e+003</text>
<text x="646.20" y="240.68" font-family="Liberation Mono" font-size="5.30" textLength="35.41" lengthAdjust="spacingAndGlyphs" fill="#2a2a2a" font-weight="normal">+9.50671e+002</text>
<text x="646.20" y="251.31" font-family="Liberation Mono" font-size="5.30" textLength="35.41" lengthAdjust="spacingAndGlyphs" fill="#2a2a2a" font-weight="normal">+7.60537e+002</text>
<text x="646.20" y="261.94" font-family="Liberation Mono" font-size="5.30" textLength="35.41" lengthAdjust="spacingAndGlyphs" fill="#2a2a2a" font-weight="normal">+5.70403e+002</text>
<text x="646.20" y="272.57" font-family="Liberation Mono" font-size="5.30" textLength="35.41" lengthAdjust="spacingAndGlyphs" fill="#2a2a2a" font-weight="normal">+3.80269e+002</text>
<text x="646.20" y="283.20" font-family="Liberation Mono" font-size="5.30" textLength="35.41" lengthAdjust="spacingAndGlyphs" fill="#2a2a2a" font-weight="normal">+1.90134e+002</text>
<text x="646.20" y="293.83" font-family="Liberation Mono" font-size="5.30" textLength="35.41" lengthAdjust="spacingAndGlyphs" fill="#2a2a2a" font-weight="normal">+0.00000e+000</text>
<text x="646.20" y="304.46" font-family="Liberation Mono" font-size="5.30" textLength="35.41" lengthAdjust="spacingAndGlyphs" fill="#2a2a2a" font-weight="normal">-1.90134e+002</text>
<text x="646.20" y="315.09" font-family="Liberation Mono" font-size="5.30" textLength="35.41" lengthAdjust="spacingAndGlyphs" fill="#2a2a2a" font-weight="normal">-3.80269e+002</text>
<text x="646.20" y="325.72" font-family="Liberation Mono" font-size="5.30" textLength="35.41" lengthAdjust="spacingAndGlyphs" fill="#2a2a2a" font-weight="normal">-5.70403e+002</text>
<text x="646.20" y="336.35" font-family="Liberation Mono" font-size="5.30" textLength="35.41" lengthAdjust="spacingAndGlyphs" fill="#2a2a2a" font-weight="normal">-7.60537e+002</text>
<text x="646.20" y="346.98" font-family="Liberation Mono" font-size="5.30" textLength="35.41" lengthAdjust="spacingAndGlyphs" fill="#2a2a2a" font-weight="normal">-9.50671e+002</text>
<text x="646.20" y="357.61" font-family="Liberation Mono" font-size="5.30" textLength="35.41" lengthAdjust="spacingAndGlyphs" fill="#2a2a2a" font-weight="normal">-1.14081e+003</text>
<text x="636.80" y="235.06" font-family="Liberation Mono" font-size="5.30" textLength="10.60" lengthAdjust="spacingAndGlyphs" fill="#e80000" font-weight="bold">0.0%</text>
<text x="636.80" y="245.69" font-family="Liberation Mono" font-size="5.30" textLength="10.60" lengthAdjust="spacingAndGlyphs" fill="#e80000" font-weight="bold">0.0%</text>
<text x="636.80" y="256.32" font-family="Liberation Mono" font-size="5.30" textLength="10.60" lengthAdjust="spacingAndGlyphs" fill="#e80000" font-weight="bold">0.2%</text>
<text x="636.80" y="266.95" font-family="Liberation Mono" font-size="5.30" textLength="10.60" lengthAdjust="spacingAndGlyphs" fill="#e80000" font-weight="bold">0.3%</text>
<text x="636.80" y="277.58" font-family="Liberation Mono" font-size="5.30" textLength="10.60" lengthAdjust="spacingAndGlyphs" fill="#e80000" font-weight="bold">4.1%</text>
<text x="636.80" y="288.21" font-family="Liberation Mono" font-size="5.30" textLength="13.25" lengthAdjust="spacingAndGlyphs" fill="#e80000" font-weight="bold">56.9%</text>
<text x="636.80" y="298.84" font-family="Liberation Mono" font-size="5.30" textLength="13.25" lengthAdjust="spacingAndGlyphs" fill="#e80000" font-weight="bold">33.9%</text>
<text x="636.80" y="309.47" font-family="Liberation Mono" font-size="5.30" textLength="10.60" lengthAdjust="spacingAndGlyphs" fill="#e80000" font-weight="bold">3.9%</text>
<text x="636.80" y="320.10" font-family="Liberation Mono" font-size="5.30" textLength="10.60" lengthAdjust="spacingAndGlyphs" fill="#e80000" font-weight="bold">0.4%</text>
<text x="636.80" y="330.73" font-family="Liberation Mono" font-size="5.30" textLength="10.60" lengthAdjust="spacingAndGlyphs" fill="#e80000" font-weight="bold">0.1%</text>
<text x="636.80" y="341.36" font-family="Liberation Mono" font-size="5.30" textLength="10.60" lengthAdjust="spacingAndGlyphs" fill="#e80000" font-weight="bold">0.0%</text>
<text x="636.80" y="351.99" font-family="Liberation Mono" font-size="5.30" textLength="10.60" lengthAdjust="spacingAndGlyphs" fill="#e80000" font-weight="bold">0.1%</text>
<text x="627.00" y="218.15" font-family="Liberation Mono" font-size="5.30" textLength="27.24" lengthAdjust="spacingAndGlyphs" fill="#111" font-weight="bold">BEAM FORCE</text>
<text x="627.00" y="223.45" font-family="Liberation Mono" font-size="5.30" textLength="57.21" lengthAdjust="spacingAndGlyphs" fill="#111" font-weight="bold">BENDING MMNT Z , kN*m</text>
<g transform="translate(663.7,392.2) scale(1.06)">
<line x1="0" y1="0" x2="0.2" y2="-10.5" stroke="#1010ee" stroke-width="1.6"/>
<path d="M0.3,-15.2 l-2.1,5.4 l4.2,0 Z" fill="#1010ee"/>
<line x1="0" y1="0" x2="-10.5" y2="-2.0" stroke="#10cc10" stroke-width="1.6"/>
<path d="M-15.2,-3.0 l5.4,-1.4 l-0.7,4.0 Z" fill="#10cc10"/>
<line x1="0" y1="0" x2="3.6" y2="-3" stroke="#ee1010" stroke-width="1.7"/>
<circle cx="4.1" cy="-3.5" r="1.6" fill="#ee1010"/>
<circle cx="0" cy="0" r="1.0" fill="#ddcc22"/>
<text x="1.50" y="-18.50" font-family="Liberation Sans" font-size="5.8" text-anchor="middle" fill="#3838ee" font-weight="normal" >Z</text>
<text x="-16.50" y="-2.40" font-family="Liberation Sans" font-size="5.6" text-anchor="middle" fill="#30cc30" font-weight="normal" >Y</text>
<text x="8.40" y="-6.60" font-family="Liberation Sans" font-size="5.4" text-anchor="middle" fill="#e04848" font-weight="normal" >X</text>
</g>
<text x="572.80" y="408.80" font-family="Liberation Serif" font-size="13.4" text-anchor="middle" fill="#111">(<tspan font-weight="normal">f</tspan>)</text>
</g>
</svg>
</body></html>
